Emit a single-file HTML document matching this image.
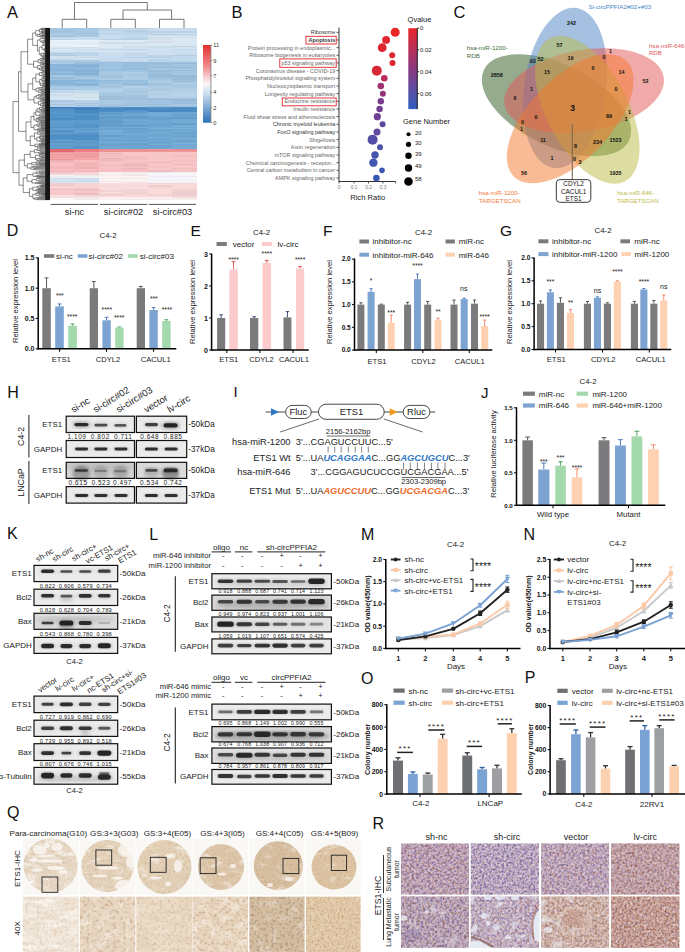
<!DOCTYPE html>
<html><head><meta charset="utf-8"><style>
html,body{margin:0;padding:0;background:#fff;width:685px;height:952px;overflow:hidden}
svg{display:block}
text{font-family:"Liberation Sans",sans-serif}
</style></head><body>
<svg width="685" height="952" viewBox="0 0 685 952" font-family="Liberation Sans, sans-serif">
<text x="7.00" y="17.50" font-size="16.5" text-anchor="start" fill="#111" font-weight="normal" >A</text>
<g shape-rendering="crispEdges">
<rect x="50.00" y="28.00" width="24.72" height="1.50" fill="#aecde6" />
<rect x="74.42" y="28.00" width="24.72" height="1.50" fill="#a4c6e1" />
<rect x="50.00" y="29.20" width="24.72" height="1.10" fill="#9fbfd9" />
<rect x="74.42" y="29.20" width="24.72" height="1.10" fill="#a7c8e3" />
<rect x="50.00" y="30.00" width="24.72" height="1.50" fill="#a7c9e3" />
<rect x="74.42" y="30.00" width="24.72" height="1.50" fill="#adcde5" />
<rect x="50.00" y="31.20" width="24.72" height="1.30" fill="#9ebfd9" />
<rect x="74.42" y="31.20" width="24.72" height="1.30" fill="#a5c7e1" />
<rect x="50.00" y="32.20" width="24.72" height="1.10" fill="#a2c3dd" />
<rect x="74.42" y="32.20" width="24.72" height="1.10" fill="#a7c9e3" />
<rect x="50.00" y="33.00" width="24.72" height="1.10" fill="#accce5" />
<rect x="74.42" y="33.00" width="24.72" height="1.10" fill="#a0c0da" />
<rect x="50.00" y="33.80" width="24.72" height="1.30" fill="#a8c9e4" />
<rect x="74.42" y="33.80" width="24.72" height="1.30" fill="#a7c9e3" />
<rect x="50.00" y="34.80" width="24.72" height="1.10" fill="#a7c9e3" />
<rect x="74.42" y="34.80" width="24.72" height="1.10" fill="#a4c6e1" />
<rect x="50.00" y="35.60" width="24.72" height="1.30" fill="#9ebfd9" />
<rect x="74.42" y="35.60" width="24.72" height="1.30" fill="#accce5" />
<rect x="50.00" y="36.60" width="24.72" height="0.70" fill="#a5c6e1" />
<rect x="74.42" y="36.60" width="24.72" height="0.70" fill="#a7c8e3" />
<rect x="50.00" y="37.00" width="24.72" height="1.50" fill="#c5dbee" />
<rect x="74.42" y="37.00" width="24.72" height="1.50" fill="#c6dcef" />
<rect x="50.00" y="38.20" width="24.72" height="1.10" fill="#c5dcee" />
<rect x="74.42" y="38.20" width="24.72" height="1.10" fill="#c6dcee" />
<rect x="50.00" y="39.00" width="24.72" height="1.30" fill="#bcd2e4" />
<rect x="74.42" y="39.00" width="24.72" height="1.30" fill="#c7ddef" />
<rect x="50.00" y="40.00" width="24.72" height="1.10" fill="#eaf2f9" />
<rect x="74.42" y="40.00" width="24.72" height="1.10" fill="#eaf2f9" />
<rect x="50.00" y="40.80" width="24.72" height="1.80" fill="#ebf3f9" />
<rect x="74.42" y="40.80" width="24.72" height="1.80" fill="#e9f1f8" />
<rect x="50.00" y="42.30" width="24.72" height="1.80" fill="#e7eff6" />
<rect x="74.42" y="42.30" width="24.72" height="1.80" fill="#e4ecf3" />
<rect x="50.00" y="43.80" width="24.72" height="1.30" fill="#ebf3f9" />
<rect x="74.42" y="43.80" width="24.72" height="1.30" fill="#e4ecf3" />
<rect x="50.00" y="44.80" width="24.72" height="1.50" fill="#eaf2f9" />
<rect x="74.42" y="44.80" width="24.72" height="1.50" fill="#ecf3f9" />
<rect x="50.00" y="46.00" width="24.72" height="1.30" fill="#e5edf4" />
<rect x="74.42" y="46.00" width="24.72" height="1.30" fill="#ecf3fa" />
<rect x="50.00" y="47.00" width="24.72" height="1.10" fill="#d6e6f3" />
<rect x="74.42" y="47.00" width="24.72" height="1.10" fill="#cfdeeb" />
<rect x="50.00" y="47.80" width="24.72" height="1.50" fill="#cfdeeb" />
<rect x="74.42" y="47.80" width="24.72" height="1.50" fill="#d6e6f3" />
<rect x="50.00" y="49.00" width="24.72" height="1.10" fill="#dae8f4" />
<rect x="74.42" y="49.00" width="24.72" height="1.10" fill="#cddce9" />
<rect x="50.00" y="49.80" width="24.72" height="1.50" fill="#d3e2ef" />
<rect x="74.42" y="49.80" width="24.72" height="1.50" fill="#d3e3ef" />
<rect x="50.00" y="51.00" width="24.72" height="1.30" fill="#d7e6f3" />
<rect x="74.42" y="51.00" width="24.72" height="1.30" fill="#d5e5f2" />
<rect x="50.00" y="52.00" width="24.72" height="1.10" fill="#c2d9ec" />
<rect x="74.42" y="52.00" width="24.72" height="1.10" fill="#bcd4e9" />
<rect x="50.00" y="52.80" width="24.72" height="1.10" fill="#b4cce0" />
<rect x="74.42" y="52.80" width="24.72" height="1.10" fill="#bfd7eb" />
<rect x="50.00" y="53.60" width="24.72" height="1.80" fill="#b8d0e5" />
<rect x="74.42" y="53.60" width="24.72" height="1.80" fill="#bad3e7" />
<rect x="50.00" y="55.10" width="24.72" height="1.20" fill="#b3cbdf" />
<rect x="74.42" y="55.10" width="24.72" height="1.20" fill="#bbd4e9" />
<rect x="50.00" y="56.00" width="24.72" height="1.30" fill="#d0e2f0" />
<rect x="74.42" y="56.00" width="24.72" height="1.30" fill="#cfe1f0" />
<rect x="50.00" y="57.00" width="24.72" height="1.30" fill="#d2e3f1" />
<rect x="74.42" y="57.00" width="24.72" height="1.30" fill="#c7d9e7" />
<rect x="50.00" y="58.00" width="24.72" height="1.30" fill="#cddfee" />
<rect x="74.42" y="58.00" width="24.72" height="1.30" fill="#d3e4f1" />
<rect x="50.00" y="59.00" width="24.72" height="1.30" fill="#c6d8e6" />
<rect x="74.42" y="59.00" width="24.72" height="1.30" fill="#cee0ef" />
<rect x="50.00" y="60.00" width="24.72" height="1.50" fill="#aacae5" />
<rect x="74.42" y="60.00" width="24.72" height="1.50" fill="#a9cae5" />
<rect x="50.00" y="61.20" width="24.72" height="1.50" fill="#a7c8e4" />
<rect x="74.42" y="61.20" width="24.72" height="1.50" fill="#accce6" />
<rect x="50.00" y="62.40" width="24.72" height="1.80" fill="#abcbe6" />
<rect x="74.42" y="62.40" width="24.72" height="1.80" fill="#9dbfdb" />
<rect x="50.00" y="63.90" width="24.72" height="0.40" fill="#9dbfdb" />
<rect x="74.42" y="63.90" width="24.72" height="0.40" fill="#a6c8e4" />
<rect x="50.00" y="64.00" width="24.72" height="1.10" fill="#8ab6db" />
<rect x="74.42" y="64.00" width="24.72" height="1.10" fill="#8cb7dc" />
<rect x="50.00" y="64.80" width="24.72" height="1.50" fill="#87b2d6" />
<rect x="74.42" y="64.80" width="24.72" height="1.50" fill="#85b0d3" />
<rect x="50.00" y="66.00" width="24.72" height="1.50" fill="#8db8dc" />
<rect x="74.42" y="66.00" width="24.72" height="1.50" fill="#87b3d7" />
<rect x="50.00" y="67.20" width="24.72" height="1.30" fill="#8eb9dc" />
<rect x="74.42" y="67.20" width="24.72" height="1.30" fill="#8ab6db" />
<rect x="50.00" y="68.20" width="24.72" height="1.10" fill="#89b5da" />
<rect x="74.42" y="68.20" width="24.72" height="1.10" fill="#93bbde" />
<rect x="50.00" y="69.00" width="24.72" height="1.80" fill="#89b4d9" />
<rect x="74.42" y="69.00" width="24.72" height="1.80" fill="#89b4d9" />
<rect x="50.00" y="70.50" width="24.72" height="1.80" fill="#8db8dc" />
<rect x="74.42" y="70.50" width="24.72" height="1.80" fill="#84aed1" />
<rect x="50.00" y="72.00" width="24.72" height="1.10" fill="#95bdde" />
<rect x="74.42" y="72.00" width="24.72" height="1.10" fill="#89b5da" />
<rect x="50.00" y="72.80" width="24.72" height="1.10" fill="#88b3d7" />
<rect x="74.42" y="72.80" width="24.72" height="1.10" fill="#84aed1" />
<rect x="50.00" y="73.60" width="24.72" height="1.10" fill="#8cb7db" />
<rect x="74.42" y="73.60" width="24.72" height="1.10" fill="#8bb7db" />
<rect x="50.00" y="74.40" width="24.72" height="0.90" fill="#8db8dc" />
<rect x="74.42" y="74.40" width="24.72" height="0.90" fill="#84aed2" />
<rect x="50.00" y="75.00" width="24.72" height="1.30" fill="#9fc4e2" />
<rect x="74.42" y="75.00" width="24.72" height="1.30" fill="#97bcd9" />
<rect x="50.00" y="76.00" width="24.72" height="1.50" fill="#a6c8e4" />
<rect x="74.42" y="76.00" width="24.72" height="1.50" fill="#9fc4e2" />
<rect x="50.00" y="77.20" width="24.72" height="1.80" fill="#97bcd9" />
<rect x="74.42" y="77.20" width="24.72" height="1.80" fill="#a4c7e3" />
<rect x="50.00" y="78.70" width="24.72" height="1.60" fill="#9dc3e1" />
<rect x="74.42" y="78.70" width="24.72" height="1.60" fill="#9abfdd" />
<rect x="50.00" y="80.00" width="24.72" height="1.30" fill="#85b0d2" />
<rect x="74.42" y="80.00" width="24.72" height="1.30" fill="#88b4d8" />
<rect x="50.00" y="81.00" width="24.72" height="1.50" fill="#8ab7db" />
<rect x="74.42" y="81.00" width="24.72" height="1.50" fill="#8ebadc" />
<rect x="50.00" y="82.20" width="24.72" height="1.10" fill="#86b2d5" />
<rect x="74.42" y="82.20" width="24.72" height="1.10" fill="#95bede" />
<rect x="50.00" y="83.00" width="24.72" height="1.50" fill="#85b1d3" />
<rect x="74.42" y="83.00" width="24.72" height="1.50" fill="#8bb8db" />
<rect x="50.00" y="84.20" width="24.72" height="1.10" fill="#90bbdd" />
<rect x="74.42" y="84.20" width="24.72" height="1.10" fill="#87b3d7" />
<rect x="50.00" y="85.00" width="24.72" height="1.10" fill="#8fbadc" />
<rect x="74.42" y="85.00" width="24.72" height="1.10" fill="#87b3d6" />
<rect x="50.00" y="85.80" width="24.72" height="0.50" fill="#94bdde" />
<rect x="74.42" y="85.80" width="24.72" height="0.50" fill="#88b4d8" />
<rect x="50.00" y="86.00" width="24.72" height="1.30" fill="#a7c9e4" />
<rect x="74.42" y="86.00" width="24.72" height="1.30" fill="#abcce6" />
<rect x="50.00" y="87.00" width="24.72" height="1.50" fill="#a8cae5" />
<rect x="74.42" y="87.00" width="24.72" height="1.50" fill="#a8cae5" />
<rect x="50.00" y="88.20" width="24.72" height="1.30" fill="#abcce6" />
<rect x="74.42" y="88.20" width="24.72" height="1.30" fill="#accce6" />
<rect x="50.00" y="89.20" width="24.72" height="1.10" fill="#a1c3dd" />
<rect x="74.42" y="89.20" width="24.72" height="1.10" fill="#a6c9e4" />
<rect x="50.00" y="90.00" width="24.72" height="1.10" fill="#c7dcee" />
<rect x="74.42" y="90.00" width="24.72" height="1.10" fill="#c5daed" />
<rect x="50.00" y="90.80" width="24.72" height="1.80" fill="#bcd3e6" />
<rect x="74.42" y="90.80" width="24.72" height="1.80" fill="#c3daed" />
<rect x="50.00" y="92.30" width="24.72" height="1.00" fill="#c0d7eb" />
<rect x="74.42" y="92.30" width="24.72" height="1.00" fill="#c6dbee" />
<rect x="50.00" y="93.00" width="24.72" height="1.50" fill="#d7e6f2" />
<rect x="74.42" y="93.00" width="24.72" height="1.50" fill="#d0e1ee" />
<rect x="50.00" y="94.20" width="24.72" height="1.30" fill="#cbdbe7" />
<rect x="74.42" y="94.20" width="24.72" height="1.30" fill="#d2e3f0" />
<rect x="50.00" y="95.20" width="24.72" height="1.50" fill="#cdddea" />
<rect x="74.42" y="95.20" width="24.72" height="1.50" fill="#d4e5f1" />
<rect x="50.00" y="96.40" width="24.72" height="1.10" fill="#d3e4f1" />
<rect x="74.42" y="96.40" width="24.72" height="1.10" fill="#d4e5f1" />
<rect x="50.00" y="97.20" width="24.72" height="1.10" fill="#d6e6f2" />
<rect x="74.42" y="97.20" width="24.72" height="1.10" fill="#cbdbe8" />
<rect x="50.00" y="98.00" width="24.72" height="1.80" fill="#d5e6f2" />
<rect x="74.42" y="98.00" width="24.72" height="1.80" fill="#d5e5f2" />
<rect x="50.00" y="99.50" width="24.72" height="0.80" fill="#d6e6f2" />
<rect x="74.42" y="99.50" width="24.72" height="0.80" fill="#d2e2ef" />
<rect x="50.00" y="100.00" width="24.72" height="1.50" fill="#aac5dd" />
<rect x="74.42" y="100.00" width="24.72" height="1.50" fill="#b8d2e9" />
<rect x="50.00" y="101.20" width="24.72" height="1.80" fill="#b0cde6" />
<rect x="74.42" y="101.20" width="24.72" height="1.80" fill="#b5d0e8" />
<rect x="50.00" y="102.70" width="24.72" height="1.10" fill="#b5d0e8" />
<rect x="74.42" y="102.70" width="24.72" height="1.10" fill="#abc7df" />
<rect x="50.00" y="103.50" width="24.72" height="1.30" fill="#a9c4dc" />
<rect x="74.42" y="103.50" width="24.72" height="1.30" fill="#b2cfe7" />
<rect x="50.00" y="104.50" width="24.72" height="1.80" fill="#b6d1e8" />
<rect x="74.42" y="104.50" width="24.72" height="1.80" fill="#abc7df" />
<rect x="50.00" y="106.00" width="24.72" height="0.80" fill="#b3d0e8" />
<rect x="74.42" y="106.00" width="24.72" height="0.80" fill="#aecbe4" />
<rect x="50.00" y="106.50" width="24.72" height="1.30" fill="#377cb7" />
<rect x="74.42" y="106.50" width="24.72" height="1.30" fill="#4689c4" />
<rect x="50.00" y="107.50" width="24.72" height="1.10" fill="#3b83c0" />
<rect x="74.42" y="107.50" width="24.72" height="1.10" fill="#4b8dc5" />
<rect x="50.00" y="108.30" width="24.72" height="1.80" fill="#4d8ec6" />
<rect x="74.42" y="108.30" width="24.72" height="1.80" fill="#387eba" />
<rect x="50.00" y="109.80" width="24.72" height="0.50" fill="#377cb7" />
<rect x="74.42" y="109.80" width="24.72" height="0.50" fill="#387eba" />
<rect x="50.00" y="110.00" width="24.72" height="1.30" fill="#5494ca" />
<rect x="74.42" y="110.00" width="24.72" height="1.30" fill="#498cc4" />
<rect x="50.00" y="111.00" width="24.72" height="1.80" fill="#5696cb" />
<rect x="74.42" y="111.00" width="24.72" height="1.80" fill="#4788be" />
<rect x="50.00" y="112.50" width="24.72" height="1.50" fill="#5897cb" />
<rect x="74.42" y="112.50" width="24.72" height="1.50" fill="#5092c9" />
<rect x="50.00" y="113.70" width="24.72" height="1.80" fill="#5695cb" />
<rect x="74.42" y="113.70" width="24.72" height="1.80" fill="#5897cb" />
<rect x="50.00" y="115.20" width="24.72" height="1.30" fill="#4b8fc7" />
<rect x="74.42" y="115.20" width="24.72" height="1.30" fill="#4b8fc7" />
<rect x="50.00" y="116.20" width="24.72" height="1.10" fill="#5796cb" />
<rect x="74.42" y="116.20" width="24.72" height="1.10" fill="#5494ca" />
<rect x="50.00" y="117.00" width="24.72" height="1.10" fill="#5494ca" />
<rect x="74.42" y="117.00" width="24.72" height="1.10" fill="#4789c0" />
<rect x="50.00" y="117.80" width="24.72" height="1.30" fill="#4a8ec6" />
<rect x="74.42" y="117.80" width="24.72" height="1.30" fill="#5293ca" />
<rect x="50.00" y="118.80" width="24.72" height="1.10" fill="#498cc4" />
<rect x="74.42" y="118.80" width="24.72" height="1.10" fill="#4b8ec7" />
<rect x="50.00" y="119.60" width="24.72" height="0.70" fill="#5494ca" />
<rect x="74.42" y="119.60" width="24.72" height="0.70" fill="#4788bf" />
<rect x="50.00" y="120.00" width="24.72" height="1.10" fill="#5a98c8" />
<rect x="74.42" y="120.00" width="24.72" height="1.10" fill="#5a99c8" />
<rect x="50.00" y="120.80" width="24.72" height="1.10" fill="#5c9ccd" />
<rect x="74.42" y="120.80" width="24.72" height="1.10" fill="#5e9dce" />
<rect x="50.00" y="121.60" width="24.72" height="1.10" fill="#5b9bcc" />
<rect x="74.42" y="121.60" width="24.72" height="1.10" fill="#609ece" />
<rect x="50.00" y="122.40" width="24.72" height="1.30" fill="#62a0cf" />
<rect x="74.42" y="122.40" width="24.72" height="1.30" fill="#5c9bcc" />
<rect x="50.00" y="123.40" width="24.72" height="1.80" fill="#5c9ccd" />
<rect x="74.42" y="123.40" width="24.72" height="1.80" fill="#5a98c8" />
<rect x="50.00" y="124.90" width="24.72" height="0.40" fill="#6aa4d1" />
<rect x="74.42" y="124.90" width="24.72" height="0.40" fill="#69a4d1" />
<rect x="50.00" y="125.00" width="24.72" height="1.30" fill="#639fcf" />
<rect x="74.42" y="125.00" width="24.72" height="1.30" fill="#5592c5" />
<rect x="50.00" y="126.00" width="24.72" height="1.10" fill="#5796ca" />
<rect x="74.42" y="126.00" width="24.72" height="1.10" fill="#5695c8" />
<rect x="50.00" y="126.80" width="24.72" height="1.30" fill="#5797cb" />
<rect x="74.42" y="126.80" width="24.72" height="1.30" fill="#5594c6" />
<rect x="50.00" y="127.80" width="24.72" height="1.50" fill="#619ecf" />
<rect x="74.42" y="127.80" width="24.72" height="1.50" fill="#65a0d0" />
<rect x="50.00" y="129.00" width="24.72" height="1.30" fill="#67a1d0" />
<rect x="74.42" y="129.00" width="24.72" height="1.30" fill="#5d9bcd" />
<rect x="50.00" y="130.00" width="24.72" height="1.50" fill="#5593c5" />
<rect x="74.42" y="130.00" width="24.72" height="1.50" fill="#65a0d0" />
<rect x="50.00" y="131.20" width="24.72" height="1.80" fill="#5694c6" />
<rect x="74.42" y="131.20" width="24.72" height="1.80" fill="#67a1d1" />
<rect x="50.00" y="132.70" width="24.72" height="1.80" fill="#65a0d0" />
<rect x="74.42" y="132.70" width="24.72" height="1.80" fill="#5593c5" />
<rect x="50.00" y="134.20" width="24.72" height="1.10" fill="#5593c5" />
<rect x="74.42" y="134.20" width="24.72" height="1.10" fill="#5797cb" />
<rect x="50.00" y="135.00" width="24.72" height="1.80" fill="#4d90c6" />
<rect x="74.42" y="135.00" width="24.72" height="1.80" fill="#4c8ec3" />
<rect x="50.00" y="136.50" width="24.72" height="1.50" fill="#4b8cc1" />
<rect x="74.42" y="136.50" width="24.72" height="1.50" fill="#4d90c6" />
<rect x="50.00" y="137.70" width="24.72" height="1.50" fill="#5093ca" />
<rect x="74.42" y="137.70" width="24.72" height="1.50" fill="#4e91c8" />
<rect x="50.00" y="138.90" width="24.72" height="1.10" fill="#4d90c7" />
<rect x="74.42" y="138.90" width="24.72" height="1.10" fill="#4f92c9" />
<rect x="50.00" y="139.70" width="24.72" height="0.60" fill="#4e92c9" />
<rect x="74.42" y="139.70" width="24.72" height="0.60" fill="#4b8cc0" />
<rect x="50.00" y="140.00" width="24.72" height="1.30" fill="#6aa4d2" />
<rect x="74.42" y="140.00" width="24.72" height="1.30" fill="#5794c5" />
<rect x="50.00" y="141.00" width="24.72" height="1.50" fill="#5996c8" />
<rect x="74.42" y="141.00" width="24.72" height="1.50" fill="#68a2d1" />
<rect x="50.00" y="142.20" width="24.72" height="1.30" fill="#5996c8" />
<rect x="74.42" y="142.20" width="24.72" height="1.30" fill="#5894c5" />
<rect x="50.00" y="143.20" width="24.72" height="1.80" fill="#66a1d0" />
<rect x="74.42" y="143.20" width="24.72" height="1.80" fill="#619ecf" />
<rect x="50.00" y="144.70" width="24.72" height="1.50" fill="#5a99cb" />
<rect x="74.42" y="144.70" width="24.72" height="1.50" fill="#5c9bcd" />
<rect x="50.00" y="145.90" width="24.72" height="1.80" fill="#629ecf" />
<rect x="74.42" y="145.90" width="24.72" height="1.80" fill="#5794c5" />
<rect x="50.00" y="147.40" width="24.72" height="1.10" fill="#65a0d0" />
<rect x="74.42" y="147.40" width="24.72" height="1.10" fill="#5895c7" />
<rect x="50.00" y="148.20" width="24.72" height="0.70" fill="#5996c8" />
<rect x="74.42" y="148.20" width="24.72" height="0.70" fill="#5793c3" />
<rect x="50.00" y="148.60" width="24.72" height="1.10" fill="#ef777b" />
<rect x="74.42" y="148.60" width="24.72" height="1.10" fill="#e4696e" />
<rect x="50.00" y="149.40" width="24.72" height="1.30" fill="#e4696e" />
<rect x="74.42" y="149.40" width="24.72" height="1.30" fill="#ef797d" />
<rect x="50.00" y="150.40" width="24.72" height="1.80" fill="#e2696d" />
<rect x="74.42" y="150.40" width="24.72" height="1.80" fill="#f07c81" />
<rect x="50.00" y="151.90" width="24.72" height="0.40" fill="#ef7a7f" />
<rect x="74.42" y="151.90" width="24.72" height="0.40" fill="#e86b70" />
<rect x="50.00" y="152.00" width="24.72" height="1.30" fill="#e9999c" />
<rect x="74.42" y="152.00" width="24.72" height="1.30" fill="#f4a4a7" />
<rect x="50.00" y="153.00" width="24.72" height="1.10" fill="#f5a9ac" />
<rect x="74.42" y="153.00" width="24.72" height="1.10" fill="#ee9c9f" />
<rect x="50.00" y="153.80" width="24.72" height="1.30" fill="#ed9b9e" />
<rect x="74.42" y="153.80" width="24.72" height="1.30" fill="#ef9da0" />
<rect x="50.00" y="154.80" width="24.72" height="1.50" fill="#f4a1a4" />
<rect x="74.42" y="154.80" width="24.72" height="1.50" fill="#ed9b9e" />
<rect x="50.00" y="156.00" width="24.72" height="1.80" fill="#f4a0a3" />
<rect x="74.42" y="156.00" width="24.72" height="1.80" fill="#ec9b9e" />
<rect x="50.00" y="157.50" width="24.72" height="1.50" fill="#f5a6a9" />
<rect x="74.42" y="157.50" width="24.72" height="1.50" fill="#f5a9ac" />
<rect x="50.00" y="158.70" width="24.72" height="1.10" fill="#e8989b" />
<rect x="74.42" y="158.70" width="24.72" height="1.10" fill="#f5a4a7" />
<rect x="50.00" y="159.50" width="24.72" height="0.80" fill="#f4a0a3" />
<rect x="74.42" y="159.50" width="24.72" height="0.80" fill="#ee9c9f" />
<rect x="50.00" y="160.00" width="24.72" height="1.80" fill="#edb2b4" />
<rect x="74.42" y="160.00" width="24.72" height="1.80" fill="#f8bdbf" />
<rect x="50.00" y="161.50" width="24.72" height="1.80" fill="#f7bbbd" />
<rect x="74.42" y="161.50" width="24.72" height="1.80" fill="#f7babc" />
<rect x="50.00" y="163.00" width="24.72" height="1.80" fill="#f8c0c1" />
<rect x="74.42" y="163.00" width="24.72" height="1.80" fill="#f2b5b7" />
<rect x="50.00" y="164.50" width="24.72" height="1.30" fill="#f8c0c2" />
<rect x="74.42" y="164.50" width="24.72" height="1.30" fill="#f3b6b8" />
<rect x="50.00" y="165.50" width="24.72" height="1.30" fill="#f5b7b9" />
<rect x="74.42" y="165.50" width="24.72" height="1.30" fill="#f3b6b8" />
<rect x="50.00" y="166.50" width="24.72" height="1.10" fill="#f8bec0" />
<rect x="74.42" y="166.50" width="24.72" height="1.10" fill="#ebb0b2" />
<rect x="50.00" y="167.30" width="24.72" height="1.50" fill="#f5b8ba" />
<rect x="74.42" y="167.30" width="24.72" height="1.50" fill="#ecb1b3" />
<rect x="50.00" y="168.50" width="24.72" height="1.80" fill="#f8bec0" />
<rect x="74.42" y="168.50" width="24.72" height="1.80" fill="#f7bbbd" />
<rect x="50.00" y="170.00" width="24.72" height="1.50" fill="#f7babc" />
<rect x="74.42" y="170.00" width="24.72" height="1.50" fill="#f7bcbe" />
<rect x="50.00" y="171.20" width="24.72" height="1.10" fill="#f6b8ba" />
<rect x="74.42" y="171.20" width="24.72" height="1.10" fill="#efb3b5" />
<rect x="50.00" y="172.00" width="24.72" height="1.80" fill="#edcbcc" />
<rect x="74.42" y="172.00" width="24.72" height="1.80" fill="#f6d3d4" />
<rect x="50.00" y="173.50" width="24.72" height="1.50" fill="#fadadb" />
<rect x="74.42" y="173.50" width="24.72" height="1.50" fill="#f9d6d7" />
<rect x="50.00" y="174.70" width="24.72" height="0.60" fill="#edcccd" />
<rect x="74.42" y="174.70" width="24.72" height="0.60" fill="#f9d9da" />
<rect x="50.00" y="175.00" width="24.72" height="1.30" fill="#f3f3f7" />
<rect x="74.42" y="175.00" width="24.72" height="1.30" fill="#ebebee" />
<rect x="50.00" y="176.00" width="24.72" height="1.80" fill="#ededf1" />
<rect x="74.42" y="176.00" width="24.72" height="1.80" fill="#f2f2f5" />
<rect x="50.00" y="177.50" width="24.72" height="0.80" fill="#f1f1f5" />
<rect x="74.42" y="177.50" width="24.72" height="0.80" fill="#f7f7fb" />
<rect x="50.00" y="178.00" width="24.72" height="1.10" fill="#d0dfec" />
<rect x="74.42" y="178.00" width="24.72" height="1.10" fill="#ccdbe8" />
<rect x="50.00" y="178.80" width="24.72" height="1.80" fill="#d6e4f2" />
<rect x="74.42" y="178.80" width="24.72" height="1.80" fill="#d3e2ef" />
<rect x="50.00" y="180.30" width="24.72" height="1.50" fill="#d1e0ed" />
<rect x="74.42" y="180.30" width="24.72" height="1.50" fill="#cfdeec" />
<rect x="50.00" y="181.50" width="24.72" height="1.30" fill="#d6e5f2" />
<rect x="74.42" y="181.50" width="24.72" height="1.30" fill="#d7e5f3" />
<rect x="50.00" y="182.50" width="24.72" height="0.80" fill="#d7e5f3" />
<rect x="74.42" y="182.50" width="24.72" height="0.80" fill="#d7e5f3" />
<rect x="50.00" y="183.00" width="24.72" height="1.80" fill="#f0cbcd" />
<rect x="74.42" y="183.00" width="24.72" height="1.80" fill="#f9d4d6" />
<rect x="50.00" y="184.50" width="24.72" height="1.30" fill="#eec8ca" />
<rect x="74.42" y="184.50" width="24.72" height="1.30" fill="#f9d5d7" />
<rect x="50.00" y="185.50" width="24.72" height="1.80" fill="#f9d4d6" />
<rect x="74.42" y="185.50" width="24.72" height="1.80" fill="#f9d5d7" />
<rect x="50.00" y="187.00" width="24.72" height="1.30" fill="#f9d6d8" />
<rect x="74.42" y="187.00" width="24.72" height="1.30" fill="#f9d4d6" />
<rect x="50.00" y="188.00" width="24.72" height="1.10" fill="#f8cacc" />
<rect x="74.42" y="188.00" width="24.72" height="1.10" fill="#f7c7c9" />
<rect x="50.00" y="188.80" width="24.72" height="1.30" fill="#edbec0" />
<rect x="74.42" y="188.80" width="24.72" height="1.30" fill="#ecbdbf" />
<rect x="50.00" y="189.80" width="24.72" height="1.50" fill="#f8cbcd" />
<rect x="74.42" y="189.80" width="24.72" height="1.50" fill="#f4c4c6" />
<rect x="50.00" y="191.00" width="24.72" height="1.80" fill="#f7c7c9" />
<rect x="74.42" y="191.00" width="24.72" height="1.80" fill="#f7c7c9" />
<rect x="50.00" y="192.50" width="24.72" height="1.30" fill="#f7c6c8" />
<rect x="74.42" y="192.50" width="24.72" height="1.30" fill="#ebbcbe" />
<rect x="50.00" y="193.50" width="24.72" height="1.10" fill="#f7c9cb" />
<rect x="74.42" y="193.50" width="24.72" height="1.10" fill="#f7c6c8" />
<rect x="50.00" y="194.30" width="24.72" height="1.00" fill="#f7c8ca" />
<rect x="74.42" y="194.30" width="24.72" height="1.00" fill="#ecbdbf" />
<rect x="50.00" y="195.00" width="24.72" height="1.80" fill="#f5dfe0" />
<rect x="74.42" y="195.00" width="24.72" height="1.80" fill="#f0dbdc" />
<rect x="50.00" y="196.50" width="24.72" height="1.50" fill="#f4dfe0" />
<rect x="74.42" y="196.50" width="24.72" height="1.50" fill="#fbe6e7" />
<rect x="50.00" y="197.70" width="24.72" height="0.60" fill="#fbe6e7" />
<rect x="74.42" y="197.70" width="24.72" height="0.60" fill="#fbe7e8" />
<rect x="50.00" y="198.00" width="24.72" height="1.80" fill="#fdf7f7" />
<rect x="74.42" y="198.00" width="24.72" height="1.80" fill="#f2ecec" />
<rect x="50.00" y="199.50" width="24.72" height="0.80" fill="#fdf6f6" />
<rect x="74.42" y="199.50" width="24.72" height="0.80" fill="#fdf6f6" />
<rect x="98.83" y="28.00" width="24.72" height="1.30" fill="#b8cfe2" />
<rect x="123.25" y="28.00" width="24.72" height="1.30" fill="#b9d0e4" />
<rect x="98.83" y="29.00" width="24.72" height="1.50" fill="#c2d9ed" />
<rect x="123.25" y="29.00" width="24.72" height="1.50" fill="#c2daed" />
<rect x="98.83" y="30.20" width="24.72" height="1.30" fill="#b7cde0" />
<rect x="123.25" y="30.20" width="24.72" height="1.30" fill="#b8cfe2" />
<rect x="98.83" y="31.20" width="24.72" height="1.50" fill="#c6dcee" />
<rect x="123.25" y="31.20" width="24.72" height="1.50" fill="#b8cfe3" />
<rect x="98.83" y="32.40" width="24.72" height="1.30" fill="#c2d9ed" />
<rect x="123.25" y="32.40" width="24.72" height="1.30" fill="#bcd3e7" />
<rect x="98.83" y="33.40" width="24.72" height="1.50" fill="#bfd7eb" />
<rect x="123.25" y="33.40" width="24.72" height="1.50" fill="#bfd7eb" />
<rect x="98.83" y="34.60" width="24.72" height="1.10" fill="#c6dcee" />
<rect x="123.25" y="34.60" width="24.72" height="1.10" fill="#c1d8ec" />
<rect x="98.83" y="35.40" width="24.72" height="1.50" fill="#c6dcee" />
<rect x="123.25" y="35.40" width="24.72" height="1.50" fill="#c5dbee" />
<rect x="98.83" y="36.60" width="24.72" height="1.10" fill="#bcd3e7" />
<rect x="123.25" y="36.60" width="24.72" height="1.10" fill="#b8cfe2" />
<rect x="98.83" y="37.40" width="24.72" height="1.80" fill="#c6dcee" />
<rect x="123.25" y="37.40" width="24.72" height="1.80" fill="#bed6e9" />
<rect x="98.83" y="38.90" width="24.72" height="1.30" fill="#b8cfe2" />
<rect x="123.25" y="38.90" width="24.72" height="1.30" fill="#b8cfe2" />
<rect x="98.83" y="39.90" width="24.72" height="0.40" fill="#c6dcee" />
<rect x="123.25" y="39.90" width="24.72" height="0.40" fill="#b9d0e3" />
<rect x="98.83" y="40.00" width="24.72" height="1.50" fill="#dfebf5" />
<rect x="123.25" y="40.00" width="24.72" height="1.50" fill="#ddeaf4" />
<rect x="98.83" y="41.20" width="24.72" height="1.30" fill="#dce9f4" />
<rect x="123.25" y="41.20" width="24.72" height="1.30" fill="#dfebf5" />
<rect x="98.83" y="42.20" width="24.72" height="1.80" fill="#d2dee8" />
<rect x="123.25" y="42.20" width="24.72" height="1.80" fill="#d1dde8" />
<rect x="98.83" y="43.70" width="24.72" height="1.80" fill="#ddeaf4" />
<rect x="123.25" y="43.70" width="24.72" height="1.80" fill="#dae7f2" />
<rect x="98.83" y="45.20" width="24.72" height="1.30" fill="#dae7f2" />
<rect x="123.25" y="45.20" width="24.72" height="1.30" fill="#d9e6f1" />
<rect x="98.83" y="46.20" width="24.72" height="1.10" fill="#deeaf5" />
<rect x="123.25" y="46.20" width="24.72" height="1.10" fill="#d1dde8" />
<rect x="98.83" y="47.00" width="24.72" height="1.30" fill="#deeaf5" />
<rect x="123.25" y="47.00" width="24.72" height="1.30" fill="#d4e0eb" />
<rect x="98.83" y="48.00" width="24.72" height="1.30" fill="#cfe1f1" />
<rect x="123.25" y="48.00" width="24.72" height="1.30" fill="#d1e2f1" />
<rect x="98.83" y="49.00" width="24.72" height="1.50" fill="#c8daea" />
<rect x="123.25" y="49.00" width="24.72" height="1.50" fill="#c4d6e6" />
<rect x="98.83" y="50.20" width="24.72" height="1.80" fill="#d2e3f1" />
<rect x="123.25" y="50.20" width="24.72" height="1.80" fill="#cee1f0" />
<rect x="98.83" y="51.70" width="24.72" height="1.50" fill="#d1e3f1" />
<rect x="123.25" y="51.70" width="24.72" height="1.50" fill="#d0e2f1" />
<rect x="98.83" y="52.90" width="24.72" height="1.10" fill="#c9dbeb" />
<rect x="123.25" y="52.90" width="24.72" height="1.10" fill="#c4d6e5" />
<rect x="98.83" y="53.70" width="24.72" height="1.50" fill="#cee1f0" />
<rect x="123.25" y="53.70" width="24.72" height="1.50" fill="#c6d8e8" />
<rect x="98.83" y="54.90" width="24.72" height="0.40" fill="#ccdfee" />
<rect x="123.25" y="54.90" width="24.72" height="0.40" fill="#c9dcec" />
<rect x="98.83" y="55.00" width="24.72" height="1.50" fill="#c7ddef" />
<rect x="123.25" y="55.00" width="24.72" height="1.50" fill="#c3d9ec" />
<rect x="98.83" y="56.20" width="24.72" height="1.10" fill="#c8ddef" />
<rect x="123.25" y="56.20" width="24.72" height="1.10" fill="#c6dcee" />
<rect x="98.83" y="57.00" width="24.72" height="1.30" fill="#c7ddef" />
<rect x="123.25" y="57.00" width="24.72" height="1.30" fill="#bbd1e3" />
<rect x="98.83" y="58.00" width="24.72" height="1.80" fill="#c3daed" />
<rect x="123.25" y="58.00" width="24.72" height="1.80" fill="#c7ddef" />
<rect x="98.83" y="59.50" width="24.72" height="1.50" fill="#c4dbee" />
<rect x="123.25" y="59.50" width="24.72" height="1.50" fill="#c9deef" />
<rect x="98.83" y="60.70" width="24.72" height="1.30" fill="#bed4e6" />
<rect x="123.25" y="60.70" width="24.72" height="1.30" fill="#c2d9ec" />
<rect x="98.83" y="61.70" width="24.72" height="0.60" fill="#c0d7e9" />
<rect x="123.25" y="61.70" width="24.72" height="0.60" fill="#c7ddef" />
<rect x="98.83" y="62.00" width="24.72" height="1.50" fill="#9ac0df" />
<rect x="123.25" y="62.00" width="24.72" height="1.50" fill="#97bddb" />
<rect x="98.83" y="63.20" width="24.72" height="1.80" fill="#9cc3e1" />
<rect x="123.25" y="63.20" width="24.72" height="1.80" fill="#99c0df" />
<rect x="98.83" y="64.70" width="24.72" height="1.30" fill="#9ec4e2" />
<rect x="123.25" y="64.70" width="24.72" height="1.30" fill="#94bad7" />
<rect x="98.83" y="65.70" width="24.72" height="1.80" fill="#9cc3e1" />
<rect x="123.25" y="65.70" width="24.72" height="1.80" fill="#9ac1e0" />
<rect x="98.83" y="67.20" width="24.72" height="1.50" fill="#a5c8e4" />
<rect x="123.25" y="67.20" width="24.72" height="1.50" fill="#9ac1e0" />
<rect x="98.83" y="68.40" width="24.72" height="1.30" fill="#9cc3e1" />
<rect x="123.25" y="68.40" width="24.72" height="1.30" fill="#97bddb" />
<rect x="98.83" y="69.40" width="24.72" height="1.30" fill="#99bfdd" />
<rect x="123.25" y="69.40" width="24.72" height="1.30" fill="#95bad8" />
<rect x="98.83" y="70.40" width="24.72" height="1.30" fill="#99bfde" />
<rect x="123.25" y="70.40" width="24.72" height="1.30" fill="#a1c6e3" />
<rect x="98.83" y="71.40" width="24.72" height="0.90" fill="#a3c7e3" />
<rect x="123.25" y="71.40" width="24.72" height="0.90" fill="#a0c5e2" />
<rect x="98.83" y="72.00" width="24.72" height="1.80" fill="#a7c8e1" />
<rect x="123.25" y="72.00" width="24.72" height="1.80" fill="#adcde5" />
<rect x="98.83" y="73.50" width="24.72" height="1.30" fill="#a7c8e1" />
<rect x="123.25" y="73.50" width="24.72" height="1.30" fill="#a6c7e0" />
<rect x="98.83" y="74.50" width="24.72" height="1.10" fill="#a9cae4" />
<rect x="123.25" y="74.50" width="24.72" height="1.10" fill="#aacbe4" />
<rect x="98.83" y="75.30" width="24.72" height="1.50" fill="#a3c2db" />
<rect x="123.25" y="75.30" width="24.72" height="1.50" fill="#a9cae4" />
<rect x="98.83" y="76.50" width="24.72" height="1.30" fill="#a2c2db" />
<rect x="123.25" y="76.50" width="24.72" height="1.30" fill="#b0cee6" />
<rect x="98.83" y="77.50" width="24.72" height="1.80" fill="#a7c8e2" />
<rect x="123.25" y="77.50" width="24.72" height="1.80" fill="#a8c9e3" />
<rect x="98.83" y="79.00" width="24.72" height="1.30" fill="#afcee6" />
<rect x="123.25" y="79.00" width="24.72" height="1.30" fill="#afcee6" />
<rect x="98.83" y="80.00" width="24.72" height="1.10" fill="#90b8d7" />
<rect x="123.25" y="80.00" width="24.72" height="1.10" fill="#95bedd" />
<rect x="98.83" y="80.80" width="24.72" height="1.80" fill="#a0c5e2" />
<rect x="123.25" y="80.80" width="24.72" height="1.80" fill="#96bfdf" />
<rect x="98.83" y="82.30" width="24.72" height="1.10" fill="#94bddd" />
<rect x="123.25" y="82.30" width="24.72" height="1.10" fill="#9fc4e2" />
<rect x="98.83" y="83.10" width="24.72" height="1.80" fill="#a0c5e2" />
<rect x="123.25" y="83.10" width="24.72" height="1.80" fill="#92bad9" />
<rect x="98.83" y="84.60" width="24.72" height="1.10" fill="#92bad9" />
<rect x="123.25" y="84.60" width="24.72" height="1.10" fill="#91b8d7" />
<rect x="98.83" y="85.40" width="24.72" height="0.90" fill="#9fc5e2" />
<rect x="123.25" y="85.40" width="24.72" height="0.90" fill="#9bc2e0" />
<rect x="98.83" y="86.00" width="24.72" height="1.80" fill="#a9c5de" />
<rect x="123.25" y="86.00" width="24.72" height="1.80" fill="#b4d1e9" />
<rect x="98.83" y="87.50" width="24.72" height="1.10" fill="#b4d1e9" />
<rect x="123.25" y="87.50" width="24.72" height="1.10" fill="#abc8e2" />
<rect x="98.83" y="88.30" width="24.72" height="1.10" fill="#b2cfe9" />
<rect x="123.25" y="88.30" width="24.72" height="1.10" fill="#adcae3" />
<rect x="98.83" y="89.10" width="24.72" height="1.30" fill="#b2cfe9" />
<rect x="123.25" y="89.10" width="24.72" height="1.30" fill="#b0cee8" />
<rect x="98.83" y="90.10" width="24.72" height="1.80" fill="#b3d0e9" />
<rect x="123.25" y="90.10" width="24.72" height="1.80" fill="#a9c6df" />
<rect x="98.83" y="91.60" width="24.72" height="1.10" fill="#accae3" />
<rect x="123.25" y="91.60" width="24.72" height="1.10" fill="#b7d2ea" />
<rect x="98.83" y="92.40" width="24.72" height="1.30" fill="#aecce5" />
<rect x="123.25" y="92.40" width="24.72" height="1.30" fill="#abc8e2" />
<rect x="98.83" y="93.40" width="24.72" height="1.10" fill="#a7c4dd" />
<rect x="123.25" y="93.40" width="24.72" height="1.10" fill="#adcae3" />
<rect x="98.83" y="94.20" width="24.72" height="1.10" fill="#acc9e3" />
<rect x="123.25" y="94.20" width="24.72" height="1.10" fill="#adcae4" />
<rect x="98.83" y="95.00" width="24.72" height="1.30" fill="#a5c7e2" />
<rect x="123.25" y="95.00" width="24.72" height="1.30" fill="#a1c2dd" />
<rect x="98.83" y="96.00" width="24.72" height="1.30" fill="#9dbed8" />
<rect x="123.25" y="96.00" width="24.72" height="1.30" fill="#a4c5e1" />
<rect x="98.83" y="97.00" width="24.72" height="1.50" fill="#9ebed9" />
<rect x="123.25" y="97.00" width="24.72" height="1.50" fill="#a0c1dc" />
<rect x="98.83" y="98.20" width="24.72" height="1.80" fill="#9ebfd9" />
<rect x="123.25" y="98.20" width="24.72" height="1.80" fill="#a1c2dd" />
<rect x="98.83" y="99.70" width="24.72" height="1.80" fill="#adcce5" />
<rect x="123.25" y="99.70" width="24.72" height="1.80" fill="#a0c2dd" />
<rect x="98.83" y="101.20" width="24.72" height="1.10" fill="#a9c9e4" />
<rect x="123.25" y="101.20" width="24.72" height="1.10" fill="#a9c9e4" />
<rect x="98.83" y="102.00" width="24.72" height="1.50" fill="#a8c9e4" />
<rect x="123.25" y="102.00" width="24.72" height="1.50" fill="#a0c1dc" />
<rect x="98.83" y="103.20" width="24.72" height="1.50" fill="#a9cae4" />
<rect x="123.25" y="103.20" width="24.72" height="1.50" fill="#a5c7e3" />
<rect x="98.83" y="104.40" width="24.72" height="1.30" fill="#a5c7e3" />
<rect x="123.25" y="104.40" width="24.72" height="1.30" fill="#a0c1dc" />
<rect x="98.83" y="105.40" width="24.72" height="1.30" fill="#a1c2dd" />
<rect x="123.25" y="105.40" width="24.72" height="1.30" fill="#a0c1dd" />
<rect x="98.83" y="106.40" width="24.72" height="0.40" fill="#9fbfda" />
<rect x="123.25" y="106.40" width="24.72" height="0.40" fill="#a7c8e4" />
<rect x="98.83" y="106.50" width="24.72" height="1.30" fill="#5998cc" />
<rect x="123.25" y="106.50" width="24.72" height="1.30" fill="#4b8fc8" />
<rect x="98.83" y="107.50" width="24.72" height="1.10" fill="#5b99cd" />
<rect x="123.25" y="107.50" width="24.72" height="1.10" fill="#488ac1" />
<rect x="98.83" y="108.30" width="24.72" height="1.80" fill="#4889bf" />
<rect x="123.25" y="108.30" width="24.72" height="1.80" fill="#4788be" />
<rect x="98.83" y="109.80" width="24.72" height="1.30" fill="#4a8ec6" />
<rect x="123.25" y="109.80" width="24.72" height="1.30" fill="#5394ca" />
<rect x="98.83" y="110.80" width="24.72" height="1.30" fill="#4a8dc6" />
<rect x="123.25" y="110.80" width="24.72" height="1.30" fill="#5998cc" />
<rect x="98.83" y="111.80" width="24.72" height="0.50" fill="#5394cb" />
<rect x="123.25" y="111.80" width="24.72" height="0.50" fill="#5d9acd" />
<rect x="98.83" y="112.00" width="24.72" height="1.30" fill="#639fcd" />
<rect x="123.25" y="112.00" width="24.72" height="1.30" fill="#629dca" />
<rect x="98.83" y="113.00" width="24.72" height="1.80" fill="#609ac7" />
<rect x="123.25" y="113.00" width="24.72" height="1.80" fill="#6aa5d3" />
<rect x="98.83" y="114.50" width="24.72" height="1.80" fill="#6fa8d4" />
<rect x="123.25" y="114.50" width="24.72" height="1.80" fill="#74abd5" />
<rect x="98.83" y="116.00" width="24.72" height="1.80" fill="#629dca" />
<rect x="123.25" y="116.00" width="24.72" height="1.80" fill="#609ac7" />
<rect x="98.83" y="117.50" width="24.72" height="1.50" fill="#619bc8" />
<rect x="123.25" y="117.50" width="24.72" height="1.50" fill="#64a1cf" />
<rect x="98.83" y="118.70" width="24.72" height="1.10" fill="#67a3d2" />
<rect x="123.25" y="118.70" width="24.72" height="1.10" fill="#6da7d3" />
<rect x="98.83" y="119.50" width="24.72" height="1.80" fill="#64a0ce" />
<rect x="123.25" y="119.50" width="24.72" height="1.80" fill="#6fa8d4" />
<rect x="98.83" y="121.00" width="24.72" height="1.80" fill="#619bc8" />
<rect x="123.25" y="121.00" width="24.72" height="1.80" fill="#6ba6d3" />
<rect x="98.83" y="122.50" width="24.72" height="1.30" fill="#64a0ce" />
<rect x="123.25" y="122.50" width="24.72" height="1.30" fill="#72aad5" />
<rect x="98.83" y="123.50" width="24.72" height="1.30" fill="#639fcd" />
<rect x="123.25" y="123.50" width="24.72" height="1.30" fill="#6ca6d3" />
<rect x="98.83" y="124.50" width="24.72" height="0.80" fill="#609ac7" />
<rect x="123.25" y="124.50" width="24.72" height="0.80" fill="#64a1cf" />
<rect x="98.83" y="125.00" width="24.72" height="1.80" fill="#659dc8" />
<rect x="123.25" y="125.00" width="24.72" height="1.80" fill="#659dc8" />
<rect x="98.83" y="126.50" width="24.72" height="1.10" fill="#73aad5" />
<rect x="123.25" y="126.50" width="24.72" height="1.10" fill="#659ec9" />
<rect x="98.83" y="127.30" width="24.72" height="1.30" fill="#71a9d4" />
<rect x="123.25" y="127.30" width="24.72" height="1.30" fill="#76acd6" />
<rect x="98.83" y="128.30" width="24.72" height="1.50" fill="#69a3cf" />
<rect x="123.25" y="128.30" width="24.72" height="1.50" fill="#68a2cf" />
<rect x="98.83" y="129.50" width="24.72" height="1.10" fill="#67a1cd" />
<rect x="123.25" y="129.50" width="24.72" height="1.10" fill="#70a9d4" />
<rect x="98.83" y="130.30" width="24.72" height="1.50" fill="#77add6" />
<rect x="123.25" y="130.30" width="24.72" height="1.50" fill="#68a2ce" />
<rect x="98.83" y="131.50" width="24.72" height="1.10" fill="#659dc8" />
<rect x="123.25" y="131.50" width="24.72" height="1.10" fill="#67a1cc" />
<rect x="98.83" y="132.30" width="24.72" height="1.80" fill="#70a9d4" />
<rect x="123.25" y="132.30" width="24.72" height="1.80" fill="#6aa4d1" />
<rect x="98.83" y="133.80" width="24.72" height="1.80" fill="#73aad5" />
<rect x="123.25" y="133.80" width="24.72" height="1.80" fill="#76acd6" />
<rect x="98.83" y="135.30" width="24.72" height="1.80" fill="#669fca" />
<rect x="123.25" y="135.30" width="24.72" height="1.80" fill="#6aa5d2" />
<rect x="98.83" y="136.80" width="24.72" height="1.10" fill="#73aad5" />
<rect x="123.25" y="136.80" width="24.72" height="1.10" fill="#71a9d4" />
<rect x="98.83" y="137.60" width="24.72" height="1.30" fill="#6da7d3" />
<rect x="123.25" y="137.60" width="24.72" height="1.30" fill="#68a2ce" />
<rect x="98.83" y="138.60" width="24.72" height="1.50" fill="#6aa4d1" />
<rect x="123.25" y="138.60" width="24.72" height="1.50" fill="#72aad5" />
<rect x="98.83" y="139.80" width="24.72" height="0.50" fill="#6aa5d2" />
<rect x="123.25" y="139.80" width="24.72" height="0.50" fill="#69a3d0" />
<rect x="98.83" y="140.00" width="24.72" height="1.30" fill="#68a2ce" />
<rect x="123.25" y="140.00" width="24.72" height="1.30" fill="#669fca" />
<rect x="98.83" y="141.00" width="24.72" height="1.10" fill="#6ba6d3" />
<rect x="123.25" y="141.00" width="24.72" height="1.10" fill="#6ca7d3" />
<rect x="98.83" y="141.80" width="24.72" height="1.30" fill="#79afd7" />
<rect x="123.25" y="141.80" width="24.72" height="1.30" fill="#76add6" />
<rect x="98.83" y="142.80" width="24.72" height="1.10" fill="#68a2ce" />
<rect x="123.25" y="142.80" width="24.72" height="1.10" fill="#679fca" />
<rect x="98.83" y="143.60" width="24.72" height="1.10" fill="#6aa5d1" />
<rect x="123.25" y="143.60" width="24.72" height="1.10" fill="#79afd7" />
<rect x="98.83" y="144.40" width="24.72" height="1.80" fill="#68a1cc" />
<rect x="123.25" y="144.40" width="24.72" height="1.80" fill="#67a0cb" />
<rect x="98.83" y="145.90" width="24.72" height="1.80" fill="#6fa8d4" />
<rect x="123.25" y="145.90" width="24.72" height="1.80" fill="#70a9d5" />
<rect x="98.83" y="147.40" width="24.72" height="1.10" fill="#73abd5" />
<rect x="123.25" y="147.40" width="24.72" height="1.10" fill="#69a3cf" />
<rect x="98.83" y="148.20" width="24.72" height="0.70" fill="#6da7d4" />
<rect x="123.25" y="148.20" width="24.72" height="0.70" fill="#6aa4d0" />
<rect x="98.83" y="148.60" width="24.72" height="1.50" fill="#eb9092" />
<rect x="123.25" y="148.60" width="24.72" height="1.50" fill="#ec9093" />
<rect x="98.83" y="149.80" width="24.72" height="1.30" fill="#ec9093" />
<rect x="123.25" y="149.80" width="24.72" height="1.30" fill="#ed9194" />
<rect x="98.83" y="150.80" width="24.72" height="1.30" fill="#ee9194" />
<rect x="123.25" y="150.80" width="24.72" height="1.30" fill="#ef9295" />
<rect x="98.83" y="151.80" width="24.72" height="0.50" fill="#f29497" />
<rect x="123.25" y="151.80" width="24.72" height="0.50" fill="#eb9093" />
<rect x="98.83" y="152.00" width="24.72" height="1.10" fill="#f8c2c4" />
<rect x="123.25" y="152.00" width="24.72" height="1.10" fill="#f9c6c8" />
<rect x="98.83" y="152.80" width="24.72" height="1.10" fill="#ecb6b8" />
<rect x="123.25" y="152.80" width="24.72" height="1.10" fill="#f9c5c7" />
<rect x="98.83" y="153.60" width="24.72" height="1.30" fill="#f8c4c6" />
<rect x="123.25" y="153.60" width="24.72" height="1.30" fill="#f9c5c7" />
<rect x="98.83" y="154.60" width="24.72" height="1.10" fill="#f9c5c7" />
<rect x="123.25" y="154.60" width="24.72" height="1.10" fill="#f1bbbd" />
<rect x="98.83" y="155.40" width="24.72" height="1.10" fill="#f0babc" />
<rect x="123.25" y="155.40" width="24.72" height="1.10" fill="#f9c6c8" />
<rect x="98.83" y="156.20" width="24.72" height="1.30" fill="#f9c5c7" />
<rect x="123.25" y="156.20" width="24.72" height="1.30" fill="#f5bec0" />
<rect x="98.83" y="157.20" width="24.72" height="1.30" fill="#f7bfc1" />
<rect x="123.25" y="157.20" width="24.72" height="1.30" fill="#f2bbbd" />
<rect x="98.83" y="158.20" width="24.72" height="1.10" fill="#eeb8ba" />
<rect x="123.25" y="158.20" width="24.72" height="1.10" fill="#f8c1c3" />
<rect x="98.83" y="159.00" width="24.72" height="1.50" fill="#f1bbbd" />
<rect x="123.25" y="159.00" width="24.72" height="1.50" fill="#f5bdbf" />
<rect x="98.83" y="160.20" width="24.72" height="1.30" fill="#edb7b9" />
<rect x="123.25" y="160.20" width="24.72" height="1.30" fill="#f9c6c8" />
<rect x="98.83" y="161.20" width="24.72" height="1.10" fill="#f8c1c3" />
<rect x="123.25" y="161.20" width="24.72" height="1.10" fill="#f8c2c4" />
<rect x="98.83" y="162.00" width="24.72" height="1.30" fill="#f8c4c6" />
<rect x="123.25" y="162.00" width="24.72" height="1.30" fill="#f8c4c6" />
<rect x="98.83" y="163.00" width="24.72" height="1.80" fill="#f8c2c4" />
<rect x="123.25" y="163.00" width="24.72" height="1.80" fill="#f0babc" />
<rect x="98.83" y="164.50" width="24.72" height="1.50" fill="#eeb8ba" />
<rect x="123.25" y="164.50" width="24.72" height="1.50" fill="#ecb7b9" />
<rect x="98.83" y="165.70" width="24.72" height="1.80" fill="#f8c1c3" />
<rect x="123.25" y="165.70" width="24.72" height="1.80" fill="#edb8ba" />
<rect x="98.83" y="167.20" width="24.72" height="1.10" fill="#f8c4c6" />
<rect x="123.25" y="167.20" width="24.72" height="1.10" fill="#f8c2c4" />
<rect x="98.83" y="168.00" width="24.72" height="1.30" fill="#f8c2c4" />
<rect x="123.25" y="168.00" width="24.72" height="1.30" fill="#eeb8ba" />
<rect x="98.83" y="169.00" width="24.72" height="1.30" fill="#f5bec0" />
<rect x="123.25" y="169.00" width="24.72" height="1.30" fill="#f2bcbe" />
<rect x="98.83" y="170.00" width="24.72" height="1.50" fill="#f8c2c4" />
<rect x="123.25" y="170.00" width="24.72" height="1.50" fill="#f6bec0" />
<rect x="98.83" y="171.20" width="24.72" height="1.10" fill="#f3bcbe" />
<rect x="123.25" y="171.20" width="24.72" height="1.10" fill="#f8c1c3" />
<rect x="98.83" y="172.00" width="24.72" height="1.50" fill="#faf1f2" />
<rect x="123.25" y="172.00" width="24.72" height="1.50" fill="#f0e7e8" />
<rect x="98.83" y="173.20" width="24.72" height="1.50" fill="#fcf3f4" />
<rect x="123.25" y="173.20" width="24.72" height="1.50" fill="#f9f0f1" />
<rect x="98.83" y="174.40" width="24.72" height="1.80" fill="#f5eced" />
<rect x="123.25" y="174.40" width="24.72" height="1.80" fill="#f0e7e8" />
<rect x="98.83" y="175.90" width="24.72" height="1.30" fill="#faf1f2" />
<rect x="123.25" y="175.90" width="24.72" height="1.30" fill="#fcf4f5" />
<rect x="98.83" y="176.90" width="24.72" height="1.80" fill="#fcf3f4" />
<rect x="123.25" y="176.90" width="24.72" height="1.80" fill="#f9f0f1" />
<rect x="98.83" y="178.40" width="24.72" height="1.30" fill="#f3eaeb" />
<rect x="123.25" y="178.40" width="24.72" height="1.30" fill="#f1e8e9" />
<rect x="98.83" y="179.40" width="24.72" height="1.30" fill="#fcf3f4" />
<rect x="123.25" y="179.40" width="24.72" height="1.30" fill="#fcf4f5" />
<rect x="98.83" y="180.40" width="24.72" height="1.10" fill="#fcf3f4" />
<rect x="123.25" y="180.40" width="24.72" height="1.10" fill="#fcf4f5" />
<rect x="98.83" y="181.20" width="24.72" height="1.30" fill="#f3eaeb" />
<rect x="123.25" y="181.20" width="24.72" height="1.30" fill="#f7eeef" />
<rect x="98.83" y="182.20" width="24.72" height="1.10" fill="#fcf4f5" />
<rect x="123.25" y="182.20" width="24.72" height="1.10" fill="#f2e9ea" />
<rect x="98.83" y="183.00" width="24.72" height="1.80" fill="#f9dcdd" />
<rect x="123.25" y="183.00" width="24.72" height="1.80" fill="#f9dcdd" />
<rect x="98.83" y="184.50" width="24.72" height="1.30" fill="#f4d6d7" />
<rect x="123.25" y="184.50" width="24.72" height="1.30" fill="#f9dcdd" />
<rect x="98.83" y="185.50" width="24.72" height="1.10" fill="#fadede" />
<rect x="123.25" y="185.50" width="24.72" height="1.10" fill="#f9dadb" />
<rect x="98.83" y="186.30" width="24.72" height="1.10" fill="#f9dbdc" />
<rect x="123.25" y="186.30" width="24.72" height="1.10" fill="#f9dbdc" />
<rect x="98.83" y="187.10" width="24.72" height="1.10" fill="#f9ddde" />
<rect x="123.25" y="187.10" width="24.72" height="1.10" fill="#f9dbdc" />
<rect x="98.83" y="187.90" width="24.72" height="1.30" fill="#f9dbdc" />
<rect x="123.25" y="187.90" width="24.72" height="1.30" fill="#f9ddde" />
<rect x="98.83" y="188.90" width="24.72" height="1.80" fill="#f9dbdc" />
<rect x="123.25" y="188.90" width="24.72" height="1.80" fill="#f1d3d4" />
<rect x="98.83" y="190.40" width="24.72" height="1.80" fill="#f1d3d4" />
<rect x="123.25" y="190.40" width="24.72" height="1.80" fill="#f2d4d5" />
<rect x="98.83" y="191.90" width="24.72" height="1.80" fill="#faddde" />
<rect x="123.25" y="191.90" width="24.72" height="1.80" fill="#f0d3d3" />
<rect x="98.83" y="193.40" width="24.72" height="1.50" fill="#f0d2d3" />
<rect x="123.25" y="193.40" width="24.72" height="1.50" fill="#f3d4d5" />
<rect x="98.83" y="194.60" width="24.72" height="1.30" fill="#eed0d1" />
<rect x="123.25" y="194.60" width="24.72" height="1.30" fill="#f9dadb" />
<rect x="98.83" y="195.60" width="24.72" height="1.10" fill="#f9dbdc" />
<rect x="123.25" y="195.60" width="24.72" height="1.10" fill="#f5d6d7" />
<rect x="98.83" y="196.40" width="24.72" height="0.90" fill="#f9dbdc" />
<rect x="123.25" y="196.40" width="24.72" height="0.90" fill="#f9dadb" />
<rect x="98.83" y="197.00" width="24.72" height="1.50" fill="#fdf0f0" />
<rect x="123.25" y="197.00" width="24.72" height="1.50" fill="#f8ebeb" />
<rect x="98.83" y="198.20" width="24.72" height="1.30" fill="#fbeeee" />
<rect x="123.25" y="198.20" width="24.72" height="1.30" fill="#fdf0f0" />
<rect x="98.83" y="199.20" width="24.72" height="1.10" fill="#fdf0f0" />
<rect x="123.25" y="199.20" width="24.72" height="1.10" fill="#f5e8e8" />
<rect x="147.67" y="28.00" width="24.72" height="1.10" fill="#c7dcee" />
<rect x="172.08" y="28.00" width="24.72" height="1.10" fill="#c6dbee" />
<rect x="147.67" y="28.80" width="24.72" height="1.30" fill="#c5daed" />
<rect x="172.08" y="28.80" width="24.72" height="1.30" fill="#c7dcee" />
<rect x="147.67" y="29.80" width="24.72" height="1.80" fill="#caddef" />
<rect x="172.08" y="29.80" width="24.72" height="1.80" fill="#caddef" />
<rect x="147.67" y="31.30" width="24.72" height="1.80" fill="#bed2e5" />
<rect x="172.08" y="31.30" width="24.72" height="1.80" fill="#bfd3e5" />
<rect x="147.67" y="32.80" width="24.72" height="1.80" fill="#c3d8eb" />
<rect x="172.08" y="32.80" width="24.72" height="1.80" fill="#c9ddef" />
<rect x="147.67" y="34.30" width="24.72" height="1.10" fill="#bdd1e3" />
<rect x="172.08" y="34.30" width="24.72" height="1.10" fill="#bfd3e5" />
<rect x="147.67" y="35.10" width="24.72" height="1.20" fill="#c9ddef" />
<rect x="172.08" y="35.10" width="24.72" height="1.20" fill="#c6dbee" />
<rect x="147.67" y="36.00" width="24.72" height="1.10" fill="#dbe8f4" />
<rect x="172.08" y="36.00" width="24.72" height="1.10" fill="#dce9f4" />
<rect x="147.67" y="36.80" width="24.72" height="1.30" fill="#cfdce7" />
<rect x="172.08" y="36.80" width="24.72" height="1.30" fill="#d0dde8" />
<rect x="147.67" y="37.80" width="24.72" height="1.10" fill="#d2e0ec" />
<rect x="172.08" y="37.80" width="24.72" height="1.10" fill="#dde9f4" />
<rect x="147.67" y="38.60" width="24.72" height="1.80" fill="#d4e2ee" />
<rect x="172.08" y="38.60" width="24.72" height="1.80" fill="#dbe8f4" />
<rect x="147.67" y="40.10" width="24.72" height="1.30" fill="#dae8f3" />
<rect x="172.08" y="40.10" width="24.72" height="1.30" fill="#dbe8f4" />
<rect x="147.67" y="41.10" width="24.72" height="1.30" fill="#d0dde8" />
<rect x="172.08" y="41.10" width="24.72" height="1.30" fill="#d6e4ef" />
<rect x="147.67" y="42.10" width="24.72" height="1.50" fill="#d2dfeb" />
<rect x="172.08" y="42.10" width="24.72" height="1.50" fill="#dce9f4" />
<rect x="147.67" y="43.30" width="24.72" height="1.50" fill="#dce9f4" />
<rect x="172.08" y="43.30" width="24.72" height="1.50" fill="#d8e6f2" />
<rect x="147.67" y="44.50" width="24.72" height="1.50" fill="#d9e7f3" />
<rect x="172.08" y="44.50" width="24.72" height="1.50" fill="#dce9f4" />
<rect x="147.67" y="45.70" width="24.72" height="0.60" fill="#dae7f3" />
<rect x="172.08" y="45.70" width="24.72" height="0.60" fill="#dae8f3" />
<rect x="147.67" y="46.00" width="24.72" height="1.30" fill="#c9dcec" />
<rect x="172.08" y="46.00" width="24.72" height="1.30" fill="#c4d6e5" />
<rect x="147.67" y="47.00" width="24.72" height="1.30" fill="#cbdeee" />
<rect x="172.08" y="47.00" width="24.72" height="1.30" fill="#cee1f0" />
<rect x="147.67" y="48.00" width="24.72" height="1.50" fill="#cfe1f1" />
<rect x="172.08" y="48.00" width="24.72" height="1.50" fill="#d1e2f1" />
<rect x="147.67" y="49.20" width="24.72" height="1.30" fill="#d0e2f1" />
<rect x="172.08" y="49.20" width="24.72" height="1.30" fill="#c8dbea" />
<rect x="147.67" y="50.20" width="24.72" height="1.10" fill="#cee1f0" />
<rect x="172.08" y="50.20" width="24.72" height="1.10" fill="#cadded" />
<rect x="147.67" y="51.00" width="24.72" height="1.80" fill="#cee0f0" />
<rect x="172.08" y="51.00" width="24.72" height="1.80" fill="#cee0f0" />
<rect x="147.67" y="52.50" width="24.72" height="1.10" fill="#c8daea" />
<rect x="172.08" y="52.50" width="24.72" height="1.10" fill="#cde0f0" />
<rect x="147.67" y="53.30" width="24.72" height="1.80" fill="#cfe1f1" />
<rect x="172.08" y="53.30" width="24.72" height="1.80" fill="#cadded" />
<rect x="147.67" y="54.80" width="24.72" height="0.50" fill="#d2e3f1" />
<rect x="172.08" y="54.80" width="24.72" height="0.50" fill="#cee0f0" />
<rect x="147.67" y="55.00" width="24.72" height="1.50" fill="#bbd3e7" />
<rect x="172.08" y="55.00" width="24.72" height="1.50" fill="#b6cee1" />
<rect x="147.67" y="56.20" width="24.72" height="1.30" fill="#b8d0e3" />
<rect x="172.08" y="56.20" width="24.72" height="1.30" fill="#c1d9ec" />
<rect x="147.67" y="57.20" width="24.72" height="1.10" fill="#bad3e6" />
<rect x="172.08" y="57.20" width="24.72" height="1.10" fill="#bed7eb" />
<rect x="147.67" y="58.00" width="24.72" height="1.50" fill="#c0d8ec" />
<rect x="172.08" y="58.00" width="24.72" height="1.50" fill="#c4dbed" />
<rect x="147.67" y="59.20" width="24.72" height="1.50" fill="#c1d9ec" />
<rect x="172.08" y="59.20" width="24.72" height="1.50" fill="#c1d9ec" />
<rect x="147.67" y="60.40" width="24.72" height="1.30" fill="#b7cfe3" />
<rect x="172.08" y="60.40" width="24.72" height="1.30" fill="#c0d8eb" />
<rect x="147.67" y="61.40" width="24.72" height="0.90" fill="#bcd5e9" />
<rect x="172.08" y="61.40" width="24.72" height="0.90" fill="#bbd4e8" />
<rect x="147.67" y="62.00" width="24.72" height="1.10" fill="#9bbeda" />
<rect x="172.08" y="62.00" width="24.72" height="1.10" fill="#9dc0dc" />
<rect x="147.67" y="62.80" width="24.72" height="1.10" fill="#99bcd7" />
<rect x="172.08" y="62.80" width="24.72" height="1.10" fill="#99bbd7" />
<rect x="147.67" y="63.60" width="24.72" height="1.50" fill="#9ec1de" />
<rect x="172.08" y="63.60" width="24.72" height="1.50" fill="#a1c5e2" />
<rect x="147.67" y="64.80" width="24.72" height="1.30" fill="#a0c3e0" />
<rect x="172.08" y="64.80" width="24.72" height="1.30" fill="#9ec1de" />
<rect x="147.67" y="65.80" width="24.72" height="1.30" fill="#9cbfdb" />
<rect x="172.08" y="65.80" width="24.72" height="1.30" fill="#a3c6e3" />
<rect x="147.67" y="66.80" width="24.72" height="1.80" fill="#9cbeda" />
<rect x="172.08" y="66.80" width="24.72" height="1.80" fill="#99bbd7" />
<rect x="147.67" y="68.30" width="24.72" height="1.30" fill="#a5c7e3" />
<rect x="172.08" y="68.30" width="24.72" height="1.30" fill="#a0c4e1" />
<rect x="147.67" y="69.30" width="24.72" height="1.00" fill="#a4c7e3" />
<rect x="172.08" y="69.30" width="24.72" height="1.00" fill="#a8c9e4" />
<rect x="147.67" y="70.00" width="24.72" height="1.50" fill="#9bc1df" />
<rect x="172.08" y="70.00" width="24.72" height="1.50" fill="#99bedc" />
<rect x="147.67" y="71.20" width="24.72" height="1.10" fill="#96bad7" />
<rect x="172.08" y="71.20" width="24.72" height="1.10" fill="#a3c7e3" />
<rect x="147.67" y="72.00" width="24.72" height="1.50" fill="#9fc4e2" />
<rect x="172.08" y="72.00" width="24.72" height="1.50" fill="#9fc4e1" />
<rect x="147.67" y="73.20" width="24.72" height="1.80" fill="#99bedb" />
<rect x="172.08" y="73.20" width="24.72" height="1.80" fill="#a5c8e3" />
<rect x="147.67" y="74.70" width="24.72" height="1.10" fill="#96bad7" />
<rect x="172.08" y="74.70" width="24.72" height="1.10" fill="#96bad6" />
<rect x="147.67" y="75.50" width="24.72" height="1.30" fill="#99bedb" />
<rect x="172.08" y="75.50" width="24.72" height="1.30" fill="#96bad7" />
<rect x="147.67" y="76.50" width="24.72" height="1.10" fill="#95b9d6" />
<rect x="172.08" y="76.50" width="24.72" height="1.10" fill="#9ec4e1" />
<rect x="147.67" y="77.30" width="24.72" height="1.30" fill="#97bcd9" />
<rect x="172.08" y="77.30" width="24.72" height="1.30" fill="#98bdda" />
<rect x="147.67" y="78.30" width="24.72" height="1.80" fill="#a3c7e3" />
<rect x="172.08" y="78.30" width="24.72" height="1.80" fill="#98bdda" />
<rect x="147.67" y="79.80" width="24.72" height="0.50" fill="#96bad7" />
<rect x="172.08" y="79.80" width="24.72" height="0.50" fill="#9fc5e2" />
<rect x="147.67" y="80.00" width="24.72" height="1.80" fill="#accbe5" />
<rect x="172.08" y="80.00" width="24.72" height="1.80" fill="#a0bfd9" />
<rect x="147.67" y="81.50" width="24.72" height="1.80" fill="#accce5" />
<rect x="172.08" y="81.50" width="24.72" height="1.80" fill="#a7c8e3" />
<rect x="147.67" y="83.00" width="24.72" height="1.80" fill="#a3c2dd" />
<rect x="172.08" y="83.00" width="24.72" height="1.80" fill="#b1cee7" />
<rect x="147.67" y="84.50" width="24.72" height="1.50" fill="#a4c4de" />
<rect x="172.08" y="84.50" width="24.72" height="1.50" fill="#a0c0d9" />
<rect x="147.67" y="85.70" width="24.72" height="1.50" fill="#afcde6" />
<rect x="172.08" y="85.70" width="24.72" height="1.50" fill="#afcee6" />
<rect x="147.67" y="86.90" width="24.72" height="1.50" fill="#accbe5" />
<rect x="172.08" y="86.90" width="24.72" height="1.50" fill="#a4c4df" />
<rect x="147.67" y="88.10" width="24.72" height="1.80" fill="#abcbe5" />
<rect x="172.08" y="88.10" width="24.72" height="1.80" fill="#afcee6" />
<rect x="147.67" y="89.60" width="24.72" height="0.70" fill="#a5c5df" />
<rect x="172.08" y="89.60" width="24.72" height="0.70" fill="#afcee6" />
<rect x="147.67" y="90.00" width="24.72" height="1.30" fill="#afc9df" />
<rect x="172.08" y="90.00" width="24.72" height="1.30" fill="#b7d2e9" />
<rect x="147.67" y="91.00" width="24.72" height="1.30" fill="#b3cde3" />
<rect x="172.08" y="91.00" width="24.72" height="1.30" fill="#b2cce3" />
<rect x="147.67" y="92.00" width="24.72" height="1.30" fill="#bdd6eb" />
<rect x="172.08" y="92.00" width="24.72" height="1.30" fill="#bbd4ea" />
<rect x="147.67" y="93.00" width="24.72" height="1.50" fill="#b1cce2" />
<rect x="172.08" y="93.00" width="24.72" height="1.50" fill="#b5d0e6" />
<rect x="147.67" y="94.20" width="24.72" height="1.30" fill="#b5cfe6" />
<rect x="172.08" y="94.20" width="24.72" height="1.30" fill="#bcd5eb" />
<rect x="147.67" y="95.20" width="24.72" height="1.80" fill="#b6d1e8" />
<rect x="172.08" y="95.20" width="24.72" height="1.80" fill="#b7d2e9" />
<rect x="147.67" y="96.70" width="24.72" height="1.10" fill="#bcd5eb" />
<rect x="172.08" y="96.70" width="24.72" height="1.10" fill="#b6d1e8" />
<rect x="147.67" y="97.50" width="24.72" height="0.80" fill="#b8d3e9" />
<rect x="172.08" y="97.50" width="24.72" height="0.80" fill="#b3cee5" />
<rect x="147.67" y="98.00" width="24.72" height="1.30" fill="#9cc1df" />
<rect x="172.08" y="98.00" width="24.72" height="1.30" fill="#a0c4e2" />
<rect x="147.67" y="99.00" width="24.72" height="1.30" fill="#98bcd9" />
<rect x="172.08" y="99.00" width="24.72" height="1.30" fill="#97bad6" />
<rect x="147.67" y="100.00" width="24.72" height="1.10" fill="#a0c4e2" />
<rect x="172.08" y="100.00" width="24.72" height="1.10" fill="#99bcd9" />
<rect x="147.67" y="100.80" width="24.72" height="1.30" fill="#a2c5e2" />
<rect x="172.08" y="100.80" width="24.72" height="1.30" fill="#97bad6" />
<rect x="147.67" y="101.80" width="24.72" height="1.30" fill="#a2c5e2" />
<rect x="172.08" y="101.80" width="24.72" height="1.30" fill="#a1c5e2" />
<rect x="147.67" y="102.80" width="24.72" height="1.10" fill="#a3c6e2" />
<rect x="172.08" y="102.80" width="24.72" height="1.10" fill="#97bbd7" />
<rect x="147.67" y="103.60" width="24.72" height="1.50" fill="#99bdda" />
<rect x="172.08" y="103.60" width="24.72" height="1.50" fill="#a7c8e4" />
<rect x="147.67" y="104.80" width="24.72" height="1.10" fill="#a5c8e3" />
<rect x="172.08" y="104.80" width="24.72" height="1.10" fill="#a3c6e3" />
<rect x="147.67" y="105.60" width="24.72" height="1.20" fill="#98bbd8" />
<rect x="172.08" y="105.60" width="24.72" height="1.20" fill="#99bdda" />
<rect x="147.67" y="106.50" width="24.72" height="1.10" fill="#4787be" />
<rect x="172.08" y="106.50" width="24.72" height="1.10" fill="#5a98cc" />
<rect x="147.67" y="107.30" width="24.72" height="1.10" fill="#5695cb" />
<rect x="172.08" y="107.30" width="24.72" height="1.10" fill="#4f91c8" />
<rect x="147.67" y="108.10" width="24.72" height="1.50" fill="#4a8ec7" />
<rect x="172.08" y="108.10" width="24.72" height="1.50" fill="#4789c0" />
<rect x="147.67" y="109.30" width="24.72" height="1.30" fill="#488bc3" />
<rect x="172.08" y="109.30" width="24.72" height="1.30" fill="#498cc4" />
<rect x="147.67" y="110.30" width="24.72" height="1.50" fill="#4687bd" />
<rect x="172.08" y="110.30" width="24.72" height="1.50" fill="#488bc2" />
<rect x="147.67" y="111.50" width="24.72" height="0.80" fill="#4788be" />
<rect x="172.08" y="111.50" width="24.72" height="0.80" fill="#5394ca" />
<rect x="147.67" y="112.00" width="24.72" height="1.50" fill="#71a9d4" />
<rect x="172.08" y="112.00" width="24.72" height="1.50" fill="#6ca6d3" />
<rect x="147.67" y="113.20" width="24.72" height="1.80" fill="#74aad5" />
<rect x="172.08" y="113.20" width="24.72" height="1.80" fill="#6da6d3" />
<rect x="147.67" y="114.70" width="24.72" height="1.10" fill="#72a9d5" />
<rect x="172.08" y="114.70" width="24.72" height="1.10" fill="#649cc8" />
<rect x="147.67" y="115.50" width="24.72" height="1.10" fill="#67a1cf" />
<rect x="172.08" y="115.50" width="24.72" height="1.10" fill="#6fa8d4" />
<rect x="147.67" y="116.30" width="24.72" height="1.30" fill="#6fa8d4" />
<rect x="172.08" y="116.30" width="24.72" height="1.30" fill="#73aad5" />
<rect x="147.67" y="117.30" width="24.72" height="1.50" fill="#669fcb" />
<rect x="172.08" y="117.30" width="24.72" height="1.50" fill="#649cc8" />
<rect x="147.67" y="118.50" width="24.72" height="1.30" fill="#67a1ce" />
<rect x="172.08" y="118.50" width="24.72" height="1.30" fill="#71a9d4" />
<rect x="147.67" y="119.50" width="24.72" height="1.10" fill="#649cc8" />
<rect x="172.08" y="119.50" width="24.72" height="1.10" fill="#69a4d2" />
<rect x="147.67" y="120.30" width="24.72" height="1.80" fill="#6fa8d4" />
<rect x="172.08" y="120.30" width="24.72" height="1.80" fill="#73aad5" />
<rect x="147.67" y="121.80" width="24.72" height="1.80" fill="#6ca6d3" />
<rect x="172.08" y="121.80" width="24.72" height="1.80" fill="#77acd6" />
<rect x="147.67" y="123.30" width="24.72" height="1.50" fill="#6ba5d3" />
<rect x="172.08" y="123.30" width="24.72" height="1.50" fill="#659ecb" />
<rect x="147.67" y="124.50" width="24.72" height="0.80" fill="#76acd6" />
<rect x="172.08" y="124.50" width="24.72" height="0.80" fill="#66a0cc" />
<rect x="147.67" y="125.00" width="24.72" height="1.30" fill="#69a0cb" />
<rect x="172.08" y="125.00" width="24.72" height="1.30" fill="#71a9d4" />
<rect x="147.67" y="126.00" width="24.72" height="1.10" fill="#6da7d3" />
<rect x="172.08" y="126.00" width="24.72" height="1.10" fill="#7bb0d7" />
<rect x="147.67" y="126.80" width="24.72" height="1.10" fill="#71a9d4" />
<rect x="172.08" y="126.80" width="24.72" height="1.10" fill="#6ba5d0" />
<rect x="147.67" y="127.60" width="24.72" height="1.80" fill="#7aafd7" />
<rect x="172.08" y="127.60" width="24.72" height="1.80" fill="#78aed6" />
<rect x="147.67" y="129.10" width="24.72" height="1.10" fill="#6ca6d1" />
<rect x="172.08" y="129.10" width="24.72" height="1.10" fill="#71aad4" />
<rect x="147.67" y="129.90" width="24.72" height="1.50" fill="#6aa2cd" />
<rect x="172.08" y="129.90" width="24.72" height="1.50" fill="#6aa3ce" />
<rect x="147.67" y="131.10" width="24.72" height="1.30" fill="#6ca5d0" />
<rect x="172.08" y="131.10" width="24.72" height="1.30" fill="#78aed6" />
<rect x="147.67" y="132.10" width="24.72" height="1.30" fill="#7aafd7" />
<rect x="172.08" y="132.10" width="24.72" height="1.30" fill="#69a1cb" />
<rect x="147.67" y="133.10" width="24.72" height="1.10" fill="#6ba4d0" />
<rect x="172.08" y="133.10" width="24.72" height="1.10" fill="#6ba4cf" />
<rect x="147.67" y="133.90" width="24.72" height="1.30" fill="#78add6" />
<rect x="172.08" y="133.90" width="24.72" height="1.30" fill="#6ca6d2" />
<rect x="147.67" y="134.90" width="24.72" height="1.50" fill="#69a1cc" />
<rect x="172.08" y="134.90" width="24.72" height="1.50" fill="#6ca6d2" />
<rect x="147.67" y="136.10" width="24.72" height="1.50" fill="#6fa8d4" />
<rect x="172.08" y="136.10" width="24.72" height="1.50" fill="#69a1cb" />
<rect x="147.67" y="137.30" width="24.72" height="1.80" fill="#71aad4" />
<rect x="172.08" y="137.30" width="24.72" height="1.80" fill="#73aad5" />
<rect x="147.67" y="138.80" width="24.72" height="1.30" fill="#6aa3ce" />
<rect x="172.08" y="138.80" width="24.72" height="1.30" fill="#74abd5" />
<rect x="147.67" y="139.80" width="24.72" height="0.50" fill="#74abd5" />
<rect x="172.08" y="139.80" width="24.72" height="0.50" fill="#7bafd7" />
<rect x="147.67" y="140.00" width="24.72" height="1.50" fill="#72aad5" />
<rect x="172.08" y="140.00" width="24.72" height="1.50" fill="#6da5d1" />
<rect x="147.67" y="141.20" width="24.72" height="1.30" fill="#6da5d0" />
<rect x="172.08" y="141.20" width="24.72" height="1.30" fill="#6ca3cd" />
<rect x="147.67" y="142.20" width="24.72" height="1.10" fill="#6ba2cd" />
<rect x="172.08" y="142.20" width="24.72" height="1.10" fill="#74abd5" />
<rect x="147.67" y="143.00" width="24.72" height="1.30" fill="#6ea6d2" />
<rect x="172.08" y="143.00" width="24.72" height="1.30" fill="#7db0d8" />
<rect x="147.67" y="144.00" width="24.72" height="1.50" fill="#76acd6" />
<rect x="172.08" y="144.00" width="24.72" height="1.50" fill="#6ea7d3" />
<rect x="147.67" y="145.20" width="24.72" height="1.30" fill="#6ba1cc" />
<rect x="172.08" y="145.20" width="24.72" height="1.30" fill="#7bafd8" />
<rect x="147.67" y="146.20" width="24.72" height="1.50" fill="#6ca3ce" />
<rect x="172.08" y="146.20" width="24.72" height="1.50" fill="#6ea6d2" />
<rect x="147.67" y="147.40" width="24.72" height="1.10" fill="#6aa0ca" />
<rect x="172.08" y="147.40" width="24.72" height="1.10" fill="#79aed7" />
<rect x="147.67" y="148.20" width="24.72" height="0.70" fill="#75abd6" />
<rect x="172.08" y="148.20" width="24.72" height="0.70" fill="#6fa8d4" />
<rect x="147.67" y="148.60" width="24.72" height="1.50" fill="#f19396" />
<rect x="172.08" y="148.60" width="24.72" height="1.50" fill="#e98f92" />
<rect x="147.67" y="149.80" width="24.72" height="1.80" fill="#e68d90" />
<rect x="172.08" y="149.80" width="24.72" height="1.80" fill="#ec9093" />
<rect x="147.67" y="151.30" width="24.72" height="1.00" fill="#f3989b" />
<rect x="172.08" y="151.30" width="24.72" height="1.00" fill="#f29699" />
<rect x="147.67" y="152.00" width="24.72" height="1.80" fill="#f8c7c9" />
<rect x="172.08" y="152.00" width="24.72" height="1.80" fill="#f8c5c7" />
<rect x="147.67" y="153.50" width="24.72" height="1.30" fill="#f8c5c7" />
<rect x="172.08" y="153.50" width="24.72" height="1.30" fill="#f8c5c7" />
<rect x="147.67" y="154.50" width="24.72" height="1.80" fill="#f6c2c4" />
<rect x="172.08" y="154.50" width="24.72" height="1.80" fill="#f2bec0" />
<rect x="147.67" y="156.00" width="24.72" height="1.10" fill="#f9c8ca" />
<rect x="172.08" y="156.00" width="24.72" height="1.10" fill="#f2bec0" />
<rect x="147.67" y="156.80" width="24.72" height="1.80" fill="#f8c6c7" />
<rect x="172.08" y="156.80" width="24.72" height="1.80" fill="#f8c5c7" />
<rect x="147.67" y="158.30" width="24.72" height="1.50" fill="#f8c7c9" />
<rect x="172.08" y="158.30" width="24.72" height="1.50" fill="#f8c3c5" />
<rect x="147.67" y="159.50" width="24.72" height="1.10" fill="#f8c4c6" />
<rect x="172.08" y="159.50" width="24.72" height="1.10" fill="#f6c1c3" />
<rect x="147.67" y="160.30" width="24.72" height="1.30" fill="#f9c8ca" />
<rect x="172.08" y="160.30" width="24.72" height="1.30" fill="#f4c0c2" />
<rect x="147.67" y="161.30" width="24.72" height="1.10" fill="#f5c1c3" />
<rect x="172.08" y="161.30" width="24.72" height="1.10" fill="#f8c3c5" />
<rect x="147.67" y="162.10" width="24.72" height="1.10" fill="#edbabc" />
<rect x="172.08" y="162.10" width="24.72" height="1.10" fill="#f8c4c6" />
<rect x="147.67" y="162.90" width="24.72" height="1.30" fill="#f8c6c8" />
<rect x="172.08" y="162.90" width="24.72" height="1.30" fill="#f9c8ca" />
<rect x="147.67" y="163.90" width="24.72" height="1.30" fill="#f8c3c5" />
<rect x="172.08" y="163.90" width="24.72" height="1.30" fill="#eebbbd" />
<rect x="147.67" y="164.90" width="24.72" height="1.80" fill="#f8c3c5" />
<rect x="172.08" y="164.90" width="24.72" height="1.80" fill="#f8c6c8" />
<rect x="147.67" y="166.40" width="24.72" height="1.10" fill="#f8c5c7" />
<rect x="172.08" y="166.40" width="24.72" height="1.10" fill="#f8c7c9" />
<rect x="147.67" y="167.20" width="24.72" height="1.50" fill="#f6c1c3" />
<rect x="172.08" y="167.20" width="24.72" height="1.50" fill="#f9c8ca" />
<rect x="147.67" y="168.40" width="24.72" height="1.30" fill="#f9c9cb" />
<rect x="172.08" y="168.40" width="24.72" height="1.30" fill="#f0bdbf" />
<rect x="147.67" y="169.40" width="24.72" height="1.10" fill="#f8c6c8" />
<rect x="172.08" y="169.40" width="24.72" height="1.10" fill="#f8c4c6" />
<rect x="147.67" y="170.20" width="24.72" height="1.10" fill="#f2bec0" />
<rect x="172.08" y="170.20" width="24.72" height="1.10" fill="#f5c1c3" />
<rect x="147.67" y="171.00" width="24.72" height="1.10" fill="#ecbabb" />
<rect x="172.08" y="171.00" width="24.72" height="1.10" fill="#f6c1c3" />
<rect x="147.67" y="171.80" width="24.72" height="0.50" fill="#f8c5c6" />
<rect x="172.08" y="171.80" width="24.72" height="0.50" fill="#f8c5c7" />
<rect x="147.67" y="172.00" width="24.72" height="1.50" fill="#ebebf0" />
<rect x="172.08" y="172.00" width="24.72" height="1.50" fill="#f0f0f5" />
<rect x="147.67" y="173.20" width="24.72" height="1.80" fill="#f6f6fa" />
<rect x="172.08" y="173.20" width="24.72" height="1.80" fill="#f5f5fa" />
<rect x="147.67" y="174.70" width="24.72" height="1.30" fill="#f6f6fa" />
<rect x="172.08" y="174.70" width="24.72" height="1.30" fill="#f6f6fa" />
<rect x="147.67" y="175.70" width="24.72" height="1.80" fill="#eeeef3" />
<rect x="172.08" y="175.70" width="24.72" height="1.80" fill="#ececf1" />
<rect x="147.67" y="177.20" width="24.72" height="1.10" fill="#f6f6fa" />
<rect x="172.08" y="177.20" width="24.72" height="1.10" fill="#f5f5fa" />
<rect x="147.67" y="178.00" width="24.72" height="1.80" fill="#f5f5fa" />
<rect x="172.08" y="178.00" width="24.72" height="1.80" fill="#f5f5fa" />
<rect x="147.67" y="179.50" width="24.72" height="1.30" fill="#f1f1f6" />
<rect x="172.08" y="179.50" width="24.72" height="1.30" fill="#f5f5fa" />
<rect x="147.67" y="180.50" width="24.72" height="1.80" fill="#f4f4f9" />
<rect x="172.08" y="180.50" width="24.72" height="1.80" fill="#f0f0f5" />
<rect x="147.67" y="182.00" width="24.72" height="1.30" fill="#f6f6fa" />
<rect x="172.08" y="182.00" width="24.72" height="1.30" fill="#f4f4f9" />
<rect x="147.67" y="183.00" width="24.72" height="1.30" fill="#f3d3d4" />
<rect x="172.08" y="183.00" width="24.72" height="1.30" fill="#f6d5d6" />
<rect x="147.67" y="184.00" width="24.72" height="1.50" fill="#fadcdd" />
<rect x="172.08" y="184.00" width="24.72" height="1.50" fill="#f9d9da" />
<rect x="147.67" y="185.20" width="24.72" height="1.80" fill="#edcdce" />
<rect x="172.08" y="185.20" width="24.72" height="1.80" fill="#f9dadb" />
<rect x="147.67" y="186.70" width="24.72" height="1.50" fill="#f5d5d6" />
<rect x="172.08" y="186.70" width="24.72" height="1.50" fill="#f9d9da" />
<rect x="147.67" y="187.90" width="24.72" height="1.50" fill="#f8d8d9" />
<rect x="172.08" y="187.90" width="24.72" height="1.50" fill="#f7d6d7" />
<rect x="147.67" y="189.10" width="24.72" height="1.10" fill="#f9d9da" />
<rect x="172.08" y="189.10" width="24.72" height="1.10" fill="#f6d5d6" />
<rect x="147.67" y="189.90" width="24.72" height="1.50" fill="#f9dbdc" />
<rect x="172.08" y="189.90" width="24.72" height="1.50" fill="#eececf" />
<rect x="147.67" y="191.10" width="24.72" height="1.50" fill="#f9dadb" />
<rect x="172.08" y="191.10" width="24.72" height="1.50" fill="#f0d0d1" />
<rect x="147.67" y="192.30" width="24.72" height="1.50" fill="#f9d9da" />
<rect x="172.08" y="192.30" width="24.72" height="1.50" fill="#edcece" />
<rect x="147.67" y="193.50" width="24.72" height="1.10" fill="#f2d2d3" />
<rect x="172.08" y="193.50" width="24.72" height="1.10" fill="#eecfd0" />
<rect x="147.67" y="194.30" width="24.72" height="1.50" fill="#f3d3d4" />
<rect x="172.08" y="194.30" width="24.72" height="1.50" fill="#efcfd0" />
<rect x="147.67" y="195.50" width="24.72" height="1.30" fill="#f9dbdc" />
<rect x="172.08" y="195.50" width="24.72" height="1.30" fill="#f1d1d2" />
<rect x="147.67" y="196.50" width="24.72" height="0.80" fill="#f5d5d6" />
<rect x="172.08" y="196.50" width="24.72" height="0.80" fill="#f0d0d1" />
<rect x="147.67" y="197.00" width="24.72" height="1.80" fill="#fdefef" />
<rect x="172.08" y="197.00" width="24.72" height="1.80" fill="#f5e6e6" />
<rect x="147.67" y="198.50" width="24.72" height="1.10" fill="#fdefef" />
<rect x="172.08" y="198.50" width="24.72" height="1.10" fill="#fdefef" />
<rect x="147.67" y="199.30" width="24.72" height="1.00" fill="#f5e7e7" />
<rect x="172.08" y="199.30" width="24.72" height="1.00" fill="#fdefef" />
</g>
<line x1="74.50" y1="2.50" x2="147.30" y2="2.50" stroke="#555" stroke-width="0.8" />
<line x1="74.50" y1="2.50" x2="74.50" y2="19.30" stroke="#555" stroke-width="0.8" />
<line x1="147.30" y1="2.50" x2="147.30" y2="10.00" stroke="#555" stroke-width="0.8" />
<line x1="62.20" y1="19.30" x2="86.70" y2="19.30" stroke="#555" stroke-width="0.8" />
<line x1="62.20" y1="19.30" x2="62.20" y2="28.00" stroke="#555" stroke-width="0.8" />
<line x1="86.70" y1="19.30" x2="86.70" y2="28.00" stroke="#555" stroke-width="0.8" />
<line x1="123.00" y1="10.00" x2="171.60" y2="10.00" stroke="#555" stroke-width="0.8" />
<line x1="123.00" y1="10.00" x2="123.00" y2="19.30" stroke="#555" stroke-width="0.8" />
<line x1="171.60" y1="10.00" x2="171.60" y2="19.30" stroke="#555" stroke-width="0.8" />
<line x1="110.80" y1="19.30" x2="135.30" y2="19.30" stroke="#555" stroke-width="0.8" />
<line x1="110.80" y1="19.30" x2="110.80" y2="28.00" stroke="#555" stroke-width="0.8" />
<line x1="135.30" y1="19.30" x2="135.30" y2="28.00" stroke="#555" stroke-width="0.8" />
<line x1="159.50" y1="19.30" x2="184.00" y2="19.30" stroke="#555" stroke-width="0.8" />
<line x1="159.50" y1="19.30" x2="159.50" y2="28.00" stroke="#555" stroke-width="0.8" />
<line x1="184.00" y1="19.30" x2="184.00" y2="28.00" stroke="#555" stroke-width="0.8" />
<path d="M43.78 28.27L50.00 28.27M43.53 28.93L50.00 28.93M41.56 28.27L41.56 28.93M41.56 28.27L43.78 28.27M41.56 28.93L43.53 28.93M43.86 29.53L50.00 29.53M42.80 30.11L50.00 30.11M41.93 29.53L41.93 30.11M41.93 29.53L43.86 29.53M41.93 30.11L42.80 30.11M40.80 28.60L40.80 29.82M40.80 28.60L41.56 28.60M40.80 29.82L41.93 29.82M43.26 30.94L50.00 30.94M43.27 31.66L50.00 31.66M42.33 30.94L42.33 31.66M42.33 30.94L43.26 30.94M42.33 31.66L43.27 31.66M44.12 32.32L50.00 32.32M43.20 32.91L50.00 32.91M42.12 32.32L42.12 32.91M42.12 32.32L44.12 32.32M42.12 32.91L43.20 32.91M41.43 31.30L41.43 32.61M41.43 31.30L42.33 31.30M41.43 32.61L42.12 32.61M39.43 29.21L39.43 31.96M39.43 29.21L40.80 29.21M39.43 31.96L41.43 31.96M42.38 33.61L50.00 33.61M44.65 34.39L50.00 34.39M44.62 34.98L50.00 34.98M43.97 34.39L43.97 34.98M43.97 34.39L44.65 34.39M43.97 34.98L44.62 34.98M43.00 35.57L50.00 35.57M41.86 34.69L41.86 35.57M41.86 34.69L43.97 34.69M41.86 35.57L43.00 35.57M39.59 33.61L39.59 35.13M39.59 33.61L42.38 33.61M39.59 35.13L41.86 35.13M41.35 36.04L50.00 36.04M41.96 36.67L50.00 36.67M39.94 36.04L39.94 36.67M39.94 36.04L41.35 36.04M39.94 36.67L41.96 36.67M37.18 34.37L37.18 36.35M37.18 34.37L39.59 34.37M37.18 36.35L39.94 36.35M35.71 30.58L35.71 35.36M35.71 30.58L39.43 30.58M35.71 35.36L37.18 35.36M43.83 37.64L50.00 37.64M45.77 38.43L50.00 38.43M44.65 39.16L50.00 39.16M44.16 38.43L44.16 39.16M44.16 38.43L45.77 38.43M44.16 39.16L44.65 39.16M42.50 37.64L42.50 38.79M42.50 37.64L43.83 37.64M42.50 38.79L44.16 38.79M45.27 39.86L50.00 39.86M45.41 40.50L50.00 40.50M44.81 39.86L44.81 40.50M44.81 39.86L45.27 39.86M44.81 40.50L45.41 40.50M45.07 41.35L50.00 41.35M43.87 40.18L43.87 41.35M43.87 40.18L44.81 40.18M43.87 41.35L45.07 41.35M43.41 42.23L50.00 42.23M44.25 42.93L50.00 42.93M42.52 42.23L42.52 42.93M42.52 42.23L43.41 42.23M42.52 42.93L44.25 42.93M41.84 40.76L41.84 42.58M41.84 40.76L43.87 40.76M41.84 42.58L42.52 42.58M40.09 38.22L40.09 41.67M40.09 38.22L42.50 38.22M40.09 41.67L41.84 41.67M45.49 43.61L50.00 43.61M46.38 44.32L50.00 44.32M45.05 43.61L45.05 44.32M45.05 43.61L45.49 43.61M45.05 44.32L46.38 44.32M45.84 45.04L50.00 45.04M47.15 45.81L50.00 45.81M47.16 46.42L50.00 46.42M46.68 45.81L46.68 46.42M46.68 45.81L47.15 45.81M46.68 46.42L47.16 46.42M47.14 47.01L50.00 47.01M46.10 46.12L46.10 47.01M46.10 46.12L46.68 46.12M46.10 47.01L47.14 47.01M45.12 45.04L45.12 46.56M45.12 45.04L45.84 45.04M45.12 46.56L46.10 46.56M43.58 43.97L43.58 45.80M43.58 43.97L45.05 43.97M43.58 45.80L45.12 45.80M46.07 47.88L50.00 47.88M45.16 48.85L50.00 48.85M44.55 47.88L44.55 48.85M44.55 47.88L46.07 47.88M44.55 48.85L45.16 48.85M46.12 49.80L50.00 49.80M46.19 50.85L50.00 50.85M47.10 51.75L50.00 51.75M47.08 52.35L50.00 52.35M46.50 51.75L46.50 52.35M46.50 51.75L47.10 51.75M46.50 52.35L47.08 52.35M45.64 50.85L45.64 52.05M45.64 50.85L46.19 50.85M45.64 52.05L46.50 52.05M44.63 49.80L44.63 51.45M44.63 49.80L46.12 49.80M44.63 51.45L45.64 51.45M43.97 48.37L43.97 50.62M43.97 48.37L44.55 48.37M43.97 50.62L44.63 50.62M42.12 44.88L42.12 49.49M42.12 44.88L43.58 44.88M42.12 49.49L43.97 49.49M44.92 52.95L50.00 52.95M43.96 53.69L50.00 53.69M43.25 52.95L43.25 53.69M43.25 52.95L44.92 52.95M43.25 53.69L43.96 53.69M44.51 54.63L50.00 54.63M44.91 55.56L50.00 55.56M43.89 54.63L43.89 55.56M43.89 54.63L44.51 54.63M43.89 55.56L44.91 55.56M45.01 56.14L50.00 56.14M44.28 56.78L50.00 56.78M43.35 56.14L43.35 56.78M43.35 56.14L45.01 56.14M43.35 56.78L44.28 56.78M41.63 55.09L41.63 56.46M41.63 55.09L43.89 55.09M41.63 56.46L43.35 56.46M40.83 53.32L40.83 55.78M40.83 53.32L43.25 53.32M40.83 55.78L41.63 55.78M39.23 47.19L39.23 54.55M39.23 47.19L42.12 47.19M39.23 54.55L40.83 54.55M37.37 39.94L37.37 50.87M37.37 39.94L40.09 39.94M37.37 50.87L39.23 50.87M32.72 32.97L32.72 45.41M32.72 32.97L35.71 32.97M32.72 45.41L37.37 45.41M44.75 57.62L50.00 57.62M44.27 58.26L50.00 58.26M42.78 57.62L42.78 58.26M42.78 57.62L44.75 57.62M42.78 58.26L44.27 58.26M44.17 58.82L50.00 58.82M43.83 59.55L50.00 59.55M43.16 58.82L43.16 59.55M43.16 58.82L44.17 58.82M43.16 59.55L43.83 59.55M41.90 57.94L41.90 59.18M41.90 57.94L42.78 57.94M41.90 59.18L43.16 59.18M43.53 60.31L50.00 60.31M43.68 61.25L50.00 61.25M41.53 60.31L41.53 61.25M41.53 60.31L43.53 60.31M41.53 61.25L43.68 61.25M40.17 58.56L40.17 60.78M40.17 58.56L41.90 58.56M40.17 60.78L41.53 60.78M42.56 62.27L50.00 62.27M44.13 63.07L50.00 63.07M44.27 63.64L50.00 63.64M42.54 63.07L42.54 63.64M42.54 63.07L44.13 63.07M42.54 63.64L44.27 63.64M40.25 62.27L40.25 63.35M40.25 62.27L42.56 62.27M40.25 63.35L42.54 63.35M38.15 59.67L38.15 62.81M38.15 59.67L40.17 59.67M38.15 62.81L40.25 62.81M44.62 64.22L50.00 64.22M44.18 65.01L50.00 65.01M42.64 64.22L42.64 65.01M42.64 64.22L44.62 64.22M42.64 65.01L44.18 65.01M43.10 65.91L50.00 65.91M43.91 66.72L50.00 66.72M42.49 65.91L42.49 66.72M42.49 65.91L43.10 65.91M42.49 66.72L43.91 66.72M40.39 64.62L40.39 66.32M40.39 64.62L42.64 64.62M40.39 66.32L42.49 66.32M43.38 67.61L50.00 67.61M43.63 68.41L50.00 68.41M41.63 67.61L41.63 68.41M41.63 67.61L43.38 67.61M41.63 68.41L43.63 68.41M43.02 69.23L50.00 69.23M44.21 70.19L50.00 70.19M44.88 70.86L50.00 70.86M43.19 70.19L43.19 70.86M43.19 70.19L44.21 70.19M43.19 70.86L44.88 70.86M41.18 69.23L41.18 70.52M41.18 69.23L43.02 69.23M41.18 70.52L43.19 70.52M39.34 68.01L39.34 69.88M39.34 68.01L41.63 68.01M39.34 69.88L41.18 69.88M37.66 65.47L37.66 68.94M37.66 65.47L40.39 65.47M37.66 68.94L39.34 68.94M33.54 61.24L33.54 67.20M33.54 61.24L38.15 61.24M33.54 67.20L37.66 67.20M27.62 39.19L27.62 64.22M27.62 39.19L32.72 39.19M27.62 64.22L33.54 64.22M44.22 71.55L50.00 71.55M43.86 72.39L50.00 72.39M42.66 71.55L42.66 72.39M42.66 71.55L44.22 71.55M42.66 72.39L43.86 72.39M43.66 73.35L50.00 73.35M41.71 71.97L41.71 73.35M41.71 71.97L42.66 71.97M41.71 73.35L43.66 73.35M44.24 74.40L50.00 74.40M44.41 75.20L50.00 75.20M43.70 74.40L43.70 75.20M43.70 74.40L44.24 74.40M43.70 75.20L44.41 75.20M44.85 75.84L50.00 75.84M44.28 76.50L50.00 76.50M43.47 75.84L43.47 76.50M43.47 75.84L44.85 75.84M43.47 76.50L44.28 76.50M41.77 74.80L41.77 76.17M41.77 74.80L43.70 74.80M41.77 76.17L43.47 76.17M39.39 72.66L39.39 75.49M39.39 72.66L41.71 72.66M39.39 75.49L41.77 75.49M43.86 77.34L50.00 77.34M44.22 78.17L50.00 78.17M44.76 79.07L50.00 79.07M43.66 78.17L43.66 79.07M43.66 78.17L44.22 78.17M43.66 79.07L44.76 79.07M42.83 77.34L42.83 78.62M42.83 77.34L43.86 77.34M42.83 78.62L43.66 78.62M45.61 79.89L50.00 79.89M44.53 80.55L50.00 80.55M44.06 79.89L44.06 80.55M44.06 79.89L45.61 79.89M44.06 80.55L44.53 80.55M44.84 81.31L50.00 81.31M44.99 82.11L50.00 82.11M44.02 81.31L44.02 82.11M44.02 81.31L44.84 81.31M44.02 82.11L44.99 82.11M42.55 80.22L42.55 81.71M42.55 80.22L44.06 80.22M42.55 81.71L44.02 81.71M41.80 77.98L41.80 80.97M41.80 77.98L42.83 77.98M41.80 80.97L42.55 80.97M44.34 82.77L50.00 82.77M43.61 83.50L50.00 83.50M42.91 82.77L42.91 83.50M42.91 82.77L44.34 82.77M42.91 83.50L43.61 83.50M44.87 84.49L50.00 84.49M44.33 85.21L50.00 85.21M43.22 84.49L43.22 85.21M43.22 84.49L44.87 84.49M43.22 85.21L44.33 85.21M44.94 85.85L50.00 85.85M44.59 86.51L50.00 86.51M43.61 85.85L43.61 86.51M43.61 85.85L44.94 85.85M43.61 86.51L44.59 86.51M42.04 84.85L42.04 86.18M42.04 84.85L43.22 84.85M42.04 86.18L43.61 86.18M40.59 83.14L40.59 85.51M40.59 83.14L42.91 83.14M40.59 85.51L42.04 85.51M39.68 79.47L39.68 84.33M39.68 79.47L41.80 79.47M39.68 84.33L40.59 84.33M35.91 74.07L35.91 81.90M35.91 74.07L39.39 74.07M35.91 81.90L39.68 81.90M43.94 87.15L50.00 87.15M42.48 88.04L50.00 88.04M41.82 87.15L41.82 88.04M41.82 87.15L43.94 87.15M41.82 88.04L42.48 88.04M41.01 88.95L50.00 88.95M38.74 87.60L38.74 88.95M38.74 87.60L41.82 87.60M38.74 88.95L41.01 88.95M42.73 89.65L50.00 89.65M43.21 90.45L50.00 90.45M40.85 89.65L40.85 90.45M40.85 89.65L42.73 89.65M40.85 90.45L43.21 90.45M44.53 91.25L50.00 91.25M43.64 91.95L50.00 91.95M42.46 91.25L42.46 91.95M42.46 91.25L44.53 91.25M42.46 91.95L43.64 91.95M45.78 92.58L50.00 92.58M45.21 93.16L50.00 93.16M44.17 92.58L44.17 93.16M44.17 92.58L45.78 92.58M44.17 93.16L45.21 93.16M43.67 93.77L50.00 93.77M42.09 92.87L42.09 93.77M42.09 92.87L44.17 92.87M42.09 93.77L43.67 93.77M40.96 91.60L40.96 93.32M40.96 91.60L42.46 91.60M40.96 93.32L42.09 93.32M38.65 90.05L38.65 92.46M38.65 90.05L40.85 90.05M38.65 92.46L40.96 92.46M35.94 88.27L35.94 91.26M35.94 88.27L38.74 88.27M35.94 91.26L38.65 91.26M32.74 77.99L32.74 89.76M32.74 77.99L35.91 77.99M32.74 89.76L35.94 89.76M40.60 94.54L50.00 94.54M42.50 95.44L50.00 95.44M42.59 96.38L50.00 96.38M40.18 95.44L40.18 96.38M40.18 95.44L42.50 95.44M40.18 96.38L42.59 96.38M38.19 94.54L38.19 95.91M38.19 94.54L40.60 94.54M38.19 95.91L40.18 95.91M40.81 97.37L50.00 97.37M43.37 98.10L50.00 98.10M44.61 98.78L50.00 98.78M42.54 98.10L42.54 98.78M42.54 98.10L43.37 98.10M42.54 98.78L44.61 98.78M41.49 99.52L50.00 99.52M40.23 98.44L40.23 99.52M40.23 98.44L42.54 98.44M40.23 99.52L41.49 99.52M38.71 97.37L38.71 98.98M38.71 97.37L40.81 97.37M38.71 98.98L40.23 98.98M36.31 95.23L36.31 98.18M36.31 95.23L38.19 95.23M36.31 98.18L38.71 98.18M44.33 100.12L50.00 100.12M43.65 100.89L50.00 100.89M42.62 100.12L42.62 100.89M42.62 100.12L44.33 100.12M42.62 100.89L43.65 100.89M43.93 101.71L50.00 101.71M43.87 102.33L50.00 102.33M42.88 101.71L42.88 102.33M42.88 101.71L43.93 101.71M42.88 102.33L43.87 102.33M40.77 100.51L40.77 102.02M40.77 100.51L42.62 100.51M40.77 102.02L42.88 102.02M44.75 102.86L50.00 102.86M45.34 103.46L50.00 103.46M43.67 102.86L43.67 103.46M43.67 102.86L44.75 102.86M43.67 103.46L45.34 103.46M42.80 104.21L50.00 104.21M42.11 103.16L42.11 104.21M42.11 103.16L43.67 103.16M42.11 104.21L42.80 104.21M44.53 104.99L50.00 104.99M44.72 105.61L50.00 105.61M43.44 104.99L43.44 105.61M43.44 104.99L44.53 104.99M43.44 105.61L44.72 105.61M42.58 106.17L50.00 106.17M41.91 105.30L41.91 106.17M41.91 105.30L43.44 105.30M41.91 106.17L42.58 106.17M40.46 103.68L40.46 105.74M40.46 103.68L42.11 103.68M40.46 105.74L41.91 105.74M38.43 101.26L38.43 104.71M38.43 101.26L40.77 101.26M38.43 104.71L40.46 104.71M34.01 96.70L34.01 102.99M34.01 96.70L36.31 96.70M34.01 102.99L38.43 102.99M27.93 83.87L27.93 99.84M27.93 83.87L32.74 83.87M27.93 99.84L34.01 99.84M21.00 51.71L21.00 91.86M21.00 51.71L27.62 51.71M21.00 91.86L27.93 91.86M43.61 107.07L50.00 107.07M44.25 107.91L50.00 107.91M44.81 108.50L50.00 108.50M43.53 107.91L43.53 108.50M43.53 107.91L44.25 107.91M43.53 108.50L44.81 108.50M42.12 107.07L42.12 108.20M42.12 107.07L43.61 107.07M42.12 108.20L43.53 108.20M41.37 109.30L50.00 109.30M41.67 110.04L50.00 110.04M40.47 109.30L40.47 110.04M40.47 109.30L41.37 109.30M40.47 110.04L41.67 110.04M39.31 107.64L39.31 109.67M39.31 107.64L42.12 107.64M39.31 109.67L40.47 109.67M43.47 110.59L50.00 110.59M45.24 111.29L50.00 111.29M44.45 111.89L50.00 111.89M43.90 111.29L43.90 111.89M43.90 111.29L45.24 111.29M43.90 111.89L44.45 111.89M41.58 110.59L41.58 111.59M41.58 110.59L43.47 110.59M41.58 111.59L43.90 111.59M41.29 112.59L50.00 112.59M38.94 111.09L38.94 112.59M38.94 111.09L41.58 111.09M38.94 112.59L41.29 112.59M37.18 108.66L37.18 111.84M37.18 108.66L39.31 108.66M37.18 111.84L38.94 111.84M44.66 113.46L50.00 113.46M43.55 114.29L50.00 114.29M42.75 113.46L42.75 114.29M42.75 113.46L44.66 113.46M42.75 114.29L43.55 114.29M41.67 115.17L50.00 115.17M40.68 113.87L40.68 115.17M40.68 113.87L42.75 113.87M40.68 115.17L41.67 115.17M42.95 115.94L50.00 115.94M42.53 116.64L50.00 116.64M41.58 115.94L41.58 116.64M41.58 115.94L42.95 115.94M41.58 116.64L42.53 116.64M39.36 114.52L39.36 116.29M39.36 114.52L40.68 114.52M39.36 116.29L41.58 116.29M35.86 110.25L35.86 115.41M35.86 110.25L37.18 110.25M35.86 115.41L39.36 115.41M41.20 117.34L50.00 117.34M41.51 118.07L50.00 118.07M38.60 117.34L38.60 118.07M38.60 117.34L41.20 117.34M38.60 118.07L41.51 118.07M40.46 118.72L50.00 118.72M40.20 119.61L50.00 119.61M38.56 118.72L38.56 119.61M38.56 118.72L40.46 118.72M38.56 119.61L40.20 119.61M37.41 117.71L37.41 119.17M37.41 117.71L38.60 117.71M37.41 119.17L38.56 119.17M40.73 120.50L50.00 120.50M42.04 121.21L50.00 121.21M39.80 120.50L39.80 121.21M39.80 120.50L40.73 120.50M39.80 121.21L42.04 121.21M42.79 121.82L50.00 121.82M42.56 122.43L50.00 122.43M40.91 121.82L40.91 122.43M40.91 121.82L42.79 121.82M40.91 122.43L42.56 122.43M37.59 120.86L37.59 122.13M37.59 120.86L39.80 120.86M37.59 122.13L40.91 122.13M36.18 118.44L36.18 121.49M36.18 118.44L37.41 118.44M36.18 121.49L37.59 121.49M33.95 112.83L33.95 119.96M33.95 112.83L35.86 112.83M33.95 119.96L36.18 119.96M42.75 123.08L50.00 123.08M43.38 123.75L50.00 123.75M41.43 123.08L41.43 123.75M41.43 123.08L42.75 123.08M41.43 123.75L43.38 123.75M40.62 124.60L50.00 124.60M39.50 123.42L39.50 124.60M39.50 123.42L41.43 123.42M39.50 124.60L40.62 124.60M43.11 125.24L50.00 125.24M42.10 125.84L50.00 125.84M41.24 125.24L41.24 125.84M41.24 125.24L43.11 125.24M41.24 125.84L42.10 125.84M42.87 126.60L50.00 126.60M43.61 127.39L50.00 127.39M43.37 128.06L50.00 128.06M42.24 127.39L42.24 128.06M42.24 127.39L43.61 127.39M42.24 128.06L43.37 128.06M41.11 126.60L41.11 127.73M41.11 126.60L42.87 126.60M41.11 127.73L42.24 127.73M38.73 125.54L38.73 127.17M38.73 125.54L41.24 125.54M38.73 127.17L41.11 127.17M37.03 124.01L37.03 126.35M37.03 124.01L39.50 124.01M37.03 126.35L38.73 126.35M39.62 128.57L50.00 128.57M42.55 129.17L50.00 129.17M42.37 129.75L50.00 129.75M41.49 129.17L41.49 129.75M41.49 129.17L42.55 129.17M41.49 129.75L42.37 129.75M38.34 128.57L38.34 129.46M38.34 128.57L39.62 128.57M38.34 129.46L41.49 129.46M40.11 130.53L50.00 130.53M37.24 129.01L37.24 130.53M37.24 129.01L38.34 129.01M37.24 130.53L40.11 130.53M33.97 125.18L33.97 129.77M33.97 125.18L37.03 125.18M33.97 129.77L37.24 129.77M30.95 116.40L30.95 127.48M30.95 116.40L33.95 116.40M30.95 127.48L33.97 127.48M41.10 131.43L50.00 131.43M40.58 132.28L50.00 132.28M39.45 131.43L39.45 132.28M39.45 131.43L41.10 131.43M39.45 132.28L40.58 132.28M44.16 133.14L50.00 133.14M43.64 133.97L50.00 133.97M42.21 133.14L42.21 133.97M42.21 133.14L44.16 133.14M42.21 133.97L43.64 133.97M42.52 134.88L50.00 134.88M40.14 133.55L40.14 134.88M40.14 133.55L42.21 133.55M40.14 134.88L42.52 134.88M37.63 131.85L37.63 134.22M37.63 131.85L39.45 131.85M37.63 134.22L40.14 134.22M41.26 135.72L50.00 135.72M44.54 136.38L50.00 136.38M43.46 136.97L50.00 136.97M42.89 136.38L42.89 136.97M42.89 136.38L44.54 136.38M42.89 136.97L43.46 136.97M40.42 135.72L40.42 136.68M40.42 135.72L41.26 135.72M40.42 136.68L42.89 136.68M42.79 137.83L50.00 137.83M43.60 138.65L50.00 138.65M43.04 139.23L50.00 139.23M42.26 138.65L42.26 139.23M42.26 138.65L43.60 138.65M42.26 139.23L43.04 139.23M40.28 137.83L40.28 138.94M40.28 137.83L42.79 137.83M40.28 138.94L42.26 138.94M39.36 136.20L39.36 138.39M39.36 136.20L40.42 136.20M39.36 138.39L40.28 138.39M43.26 139.84L50.00 139.84M41.94 140.49L50.00 140.49M40.94 139.84L40.94 140.49M40.94 139.84L43.26 139.84M40.94 140.49L41.94 140.49M42.55 141.31L50.00 141.31M43.32 142.05L50.00 142.05M43.70 142.74L50.00 142.74M42.35 142.05L42.35 142.74M42.35 142.05L43.32 142.05M42.35 142.74L43.70 142.74M41.38 141.31L41.38 142.40M41.38 141.31L42.55 141.31M41.38 142.40L42.35 142.40M39.80 140.16L39.80 141.85M39.80 140.16L40.94 140.16M39.80 141.85L41.38 141.85M36.79 137.29L36.79 141.01M36.79 137.29L39.36 137.29M36.79 141.01L39.80 141.01M34.44 133.03L34.44 139.15M34.44 133.03L37.63 133.03M34.44 139.15L36.79 139.15M43.72 143.43L50.00 143.43M42.30 144.00L50.00 144.00M41.41 143.43L41.41 144.00M41.41 143.43L43.72 143.43M41.41 144.00L42.30 144.00M41.38 144.57L50.00 144.57M39.02 143.71L39.02 144.57M39.02 143.71L41.41 143.71M39.02 144.57L41.38 144.57M41.55 145.05L50.00 145.05M41.26 145.68L50.00 145.68M40.33 145.05L40.33 145.68M40.33 145.05L41.55 145.05M40.33 145.68L41.26 145.68M40.41 146.54L50.00 146.54M39.10 145.36L39.10 146.54M39.10 145.36L40.33 145.36M39.10 146.54L40.41 146.54M42.80 147.35L50.00 147.35M41.59 148.16L50.00 148.16M40.07 147.35L40.07 148.16M40.07 147.35L42.80 147.35M40.07 148.16L41.59 148.16M37.36 145.95L37.36 147.76M37.36 145.95L39.10 145.95M37.36 147.76L40.07 147.76M35.06 144.14L35.06 146.86M35.06 144.14L39.02 144.14M35.06 146.86L37.36 146.86M30.23 136.09L30.23 145.50M30.23 136.09L34.44 136.09M30.23 145.50L35.06 145.50M26.00 121.94L26.00 140.80M26.00 121.94L30.95 121.94M26.00 140.80L30.23 140.80M18.50 71.78L18.50 131.37M18.50 71.78L21.00 71.78M18.50 131.37L26.00 131.37M38.17 149.03L50.00 149.03M40.93 149.93L50.00 149.93M41.93 150.93L50.00 150.93M40.04 149.93L40.04 150.93M40.04 149.93L40.93 149.93M40.04 150.93L41.93 150.93M36.97 149.03L36.97 150.43M36.97 149.03L38.17 149.03M36.97 150.43L40.04 150.43M41.63 151.73L50.00 151.73M43.16 152.52L50.00 152.52M40.75 151.73L40.75 152.52M40.75 151.73L41.63 151.73M40.75 152.52L43.16 152.52M40.37 153.38L50.00 153.38M38.67 152.12L38.67 153.38M38.67 152.12L40.75 152.12M38.67 153.38L40.37 153.38M34.37 149.73L34.37 152.75M34.37 149.73L36.97 149.73M34.37 152.75L38.67 152.75M41.56 153.98L50.00 153.98M41.86 154.75L50.00 154.75M40.29 153.98L40.29 154.75M40.29 153.98L41.56 153.98M40.29 154.75L41.86 154.75M41.84 155.76L50.00 155.76M42.77 156.72L50.00 156.72M43.30 157.40L50.00 157.40M41.82 156.72L41.82 157.40M41.82 156.72L42.77 156.72M41.82 157.40L43.30 157.40M41.03 155.76L41.03 157.06M41.03 155.76L41.84 155.76M41.03 157.06L41.82 157.06M39.33 154.36L39.33 156.41M39.33 154.36L40.29 154.36M39.33 156.41L41.03 156.41M40.32 158.00L50.00 158.00M41.26 158.90L50.00 158.90M39.23 158.00L39.23 158.90M39.23 158.00L40.32 158.00M39.23 158.90L41.26 158.90M41.23 159.70L50.00 159.70M42.23 160.41L50.00 160.41M40.43 159.70L40.43 160.41M40.43 159.70L41.23 159.70M40.43 160.41L42.23 160.41M41.05 161.19L50.00 161.19M38.05 160.05L38.05 161.19M38.05 160.05L40.43 160.05M38.05 161.19L41.05 161.19M36.76 158.45L36.76 160.62M36.76 158.45L39.23 158.45M36.76 160.62L38.05 160.62M35.44 155.39L35.44 159.54M35.44 155.39L39.33 155.39M35.44 159.54L36.76 159.54M30.11 151.24L30.11 157.46M30.11 151.24L34.37 151.24M30.11 157.46L35.44 157.46M38.22 162.06L50.00 162.06M40.39 162.84L50.00 162.84M40.81 163.54L50.00 163.54M39.29 162.84L39.29 163.54M39.29 162.84L40.39 162.84M39.29 163.54L40.81 163.54M35.81 162.06L35.81 163.19M35.81 162.06L38.22 162.06M35.81 163.19L39.29 163.19M39.66 164.29L50.00 164.29M40.87 164.90L50.00 164.90M40.77 165.56L50.00 165.56M39.79 164.90L39.79 165.56M39.79 164.90L40.87 164.90M39.79 165.56L40.77 165.56M36.49 164.29L36.49 165.23M36.49 164.29L39.66 164.29M36.49 165.23L39.79 165.23M31.68 162.62L31.68 164.76M31.68 162.62L35.81 162.62M31.68 164.76L36.49 164.76M34.90 166.41L50.00 166.41M34.26 167.31L50.00 167.31M32.66 166.41L32.66 167.31M32.66 166.41L34.90 166.41M32.66 167.31L34.26 167.31M37.67 168.05L50.00 168.05M36.87 168.84L50.00 168.84M35.42 168.05L35.42 168.84M35.42 168.05L37.67 168.05M35.42 168.84L36.87 168.84M35.90 169.86L50.00 169.86M33.98 168.44L33.98 169.86M33.98 168.44L35.42 168.44M33.98 169.86L35.90 169.86M30.80 166.86L30.80 169.15M30.80 166.86L32.66 166.86M30.80 169.15L33.98 169.15M27.27 163.69L27.27 168.01M27.27 163.69L31.68 163.69M27.27 168.01L30.80 168.01M24.38 154.35L24.38 165.85M24.38 154.35L30.11 154.35M24.38 165.85L27.27 165.85M42.90 170.94L50.00 170.94M42.48 171.75L50.00 171.75M41.58 170.94L41.58 171.75M41.58 170.94L42.90 170.94M41.58 171.75L42.48 171.75M40.65 172.61L50.00 172.61M39.21 171.34L39.21 172.61M39.21 171.34L41.58 171.34M39.21 172.61L40.65 172.61M41.16 173.43L50.00 173.43M41.35 174.25L50.00 174.25M40.02 173.43L40.02 174.25M40.02 173.43L41.16 173.43M40.02 174.25L41.35 174.25M36.32 171.98L36.32 173.84M36.32 171.98L39.21 171.98M36.32 173.84L40.02 173.84M40.14 175.29L50.00 175.29M38.85 176.11L50.00 176.11M37.80 175.29L37.80 176.11M37.80 175.29L40.14 175.29M37.80 176.11L38.85 176.11M38.54 176.63L50.00 176.63M39.12 177.25L50.00 177.25M37.18 176.63L37.18 177.25M37.18 176.63L38.54 176.63M37.18 177.25L39.12 177.25M35.87 175.70L35.87 176.94M35.87 175.70L37.80 175.70M35.87 176.94L37.18 176.94M33.00 172.91L33.00 176.32M33.00 172.91L36.32 172.91M33.00 176.32L35.87 176.32M39.88 178.03L50.00 178.03M41.14 178.86L50.00 178.86M38.97 178.03L38.97 178.86M38.97 178.03L39.88 178.03M38.97 178.86L41.14 178.86M42.31 179.75L50.00 179.75M43.25 180.57L50.00 180.57M41.32 179.75L41.32 180.57M41.32 179.75L42.31 179.75M41.32 180.57L43.25 180.57M39.91 181.44L50.00 181.44M38.80 180.16L38.80 181.44M38.80 180.16L41.32 180.16M38.80 181.44L39.91 181.44M36.78 178.44L36.78 180.80M36.78 178.44L38.97 178.44M36.78 180.80L38.80 180.80M39.42 182.49L50.00 182.49M40.59 183.26L50.00 183.26M41.90 183.88L50.00 183.88M39.01 183.26L39.01 183.88M39.01 183.26L40.59 183.26M39.01 183.88L41.90 183.88M35.56 182.49L35.56 183.57M35.56 182.49L39.42 182.49M35.56 183.57L39.01 183.57M31.89 179.62L31.89 183.03M31.89 179.62L36.78 179.62M31.89 183.03L35.56 183.03M27.06 174.61L27.06 181.32M27.06 174.61L33.00 174.61M27.06 181.32L31.89 181.32M44.28 184.62L50.00 184.62M43.53 185.30L50.00 185.30M42.31 184.62L42.31 185.30M42.31 184.62L44.28 184.62M42.31 185.30L43.53 185.30M43.23 185.96L50.00 185.96M41.58 184.96L41.58 185.96M41.58 184.96L42.31 184.96M41.58 185.96L43.23 185.96M42.08 186.50L50.00 186.50M41.94 187.09L50.00 187.09M40.84 186.50L40.84 187.09M40.84 186.50L42.08 186.50M40.84 187.09L41.94 187.09M39.93 185.46L39.93 186.79M39.93 185.46L41.58 185.46M39.93 186.79L40.84 186.79M40.40 187.84L50.00 187.84M41.30 188.56L50.00 188.56M38.69 187.84L38.69 188.56M38.69 187.84L40.40 187.84M38.69 188.56L41.30 188.56M37.43 186.13L37.43 188.20M37.43 186.13L39.93 186.13M37.43 188.20L38.69 188.20M41.08 189.31L50.00 189.31M41.10 189.90L50.00 189.90M38.14 189.31L38.14 189.90M38.14 189.31L41.08 189.31M38.14 189.90L41.10 189.90M39.80 190.58L50.00 190.58M39.17 191.48L50.00 191.48M37.85 190.58L37.85 191.48M37.85 190.58L39.80 190.58M37.85 191.48L39.17 191.48M36.04 189.61L36.04 191.03M36.04 189.61L38.14 189.61M36.04 191.03L37.85 191.03M32.84 187.16L32.84 190.32M32.84 187.16L37.43 187.16M32.84 190.32L36.04 190.32M41.26 192.16L50.00 192.16M41.66 192.78L50.00 192.78M38.84 192.16L38.84 192.78M38.84 192.16L41.26 192.16M38.84 192.78L41.66 192.78M40.36 193.46L50.00 193.46M37.32 192.47L37.32 193.46M37.32 192.47L38.84 192.47M37.32 193.46L40.36 193.46M43.21 194.05L50.00 194.05M44.38 194.55L50.00 194.55M44.29 195.17L50.00 195.17M43.33 194.55L43.33 195.17M43.33 194.55L44.38 194.55M43.33 195.17L44.29 195.17M41.69 194.05L41.69 194.86M41.69 194.05L43.21 194.05M41.69 194.86L43.33 194.86M42.08 195.79L50.00 195.79M42.21 196.52L50.00 196.52M40.76 195.79L40.76 196.52M40.76 195.79L42.08 195.79M40.76 196.52L42.21 196.52M39.07 194.46L39.07 196.15M39.07 194.46L41.69 194.46M39.07 196.15L40.76 196.15M35.92 192.97L35.92 195.30M35.92 192.97L37.32 192.97M35.92 195.30L39.07 195.30M40.78 197.53L50.00 197.53M41.04 198.26L50.00 198.26M37.82 197.53L37.82 198.26M37.82 197.53L40.78 197.53M37.82 198.26L41.04 198.26M39.68 198.92L50.00 198.92M39.33 199.68L50.00 199.68M36.87 198.92L36.87 199.68M36.87 198.92L39.68 198.92M36.87 199.68L39.33 199.68M34.37 197.89L34.37 199.30M34.37 197.89L37.82 197.89M34.37 199.30L36.87 199.30M32.87 194.13L32.87 198.60M32.87 194.13L35.92 194.13M32.87 198.60L34.37 198.60M29.40 188.74L29.40 196.37M29.40 188.74L32.84 188.74M29.40 196.37L32.87 196.37M23.24 177.97L23.24 192.55M23.24 177.97L27.06 177.97M23.24 192.55L29.40 192.55M19.00 160.10L19.00 185.26M19.00 160.10L24.38 160.10M19.00 185.26L23.24 185.26M13.00 101.57L13.00 172.68M13.00 101.57L18.50 101.57M13.00 172.68L19.00 172.68" fill="none" stroke="#1a1a1a" stroke-width="0.5" />
<rect x="45.20" y="28.00" width="4.80" height="172.00" fill="#151515" />
<line x1="50.50" y1="204.40" x2="98.00" y2="204.40" stroke="#555" stroke-width="1" />
<line x1="100.00" y1="204.40" x2="147.50" y2="204.40" stroke="#555" stroke-width="1" />
<line x1="149.00" y1="204.40" x2="196.00" y2="204.40" stroke="#555" stroke-width="1" />
<text x="74.50" y="215.00" font-size="9.2" text-anchor="middle" fill="#222" font-weight="normal" >si-nc</text>
<text x="123.50" y="215.00" font-size="9.2" text-anchor="middle" fill="#222" font-weight="normal" >si-circ#02</text>
<text x="172.50" y="215.00" font-size="9.2" text-anchor="middle" fill="#222" font-weight="normal" >si-circ#03</text>
<defs><linearGradient id="hmcb" x1="0" y1="0" x2="0" y2="1"><stop offset="0" stop-color="#e8302f"/><stop offset="0.28" stop-color="#f08c8e"/><stop offset="0.5" stop-color="#fbf7f8"/><stop offset="0.62" stop-color="#cfe0ef"/><stop offset="1" stop-color="#2b71b9"/></linearGradient></defs>
<rect x="203.00" y="45.00" width="7.70" height="77.70" fill="url(#hmcb)" />
<line x1="210.90" y1="45.00" x2="210.90" y2="122.70" stroke="#444" stroke-width="0.6" />
<line x1="210.90" y1="45.20" x2="212.30" y2="45.20" stroke="#444" stroke-width="0.6" />
<text x="213.20" y="47.20" font-size="5.6" text-anchor="start" fill="#333" font-weight="normal" >11</text>
<line x1="210.90" y1="60.70" x2="212.30" y2="60.70" stroke="#444" stroke-width="0.6" />
<text x="213.20" y="62.70" font-size="5.6" text-anchor="start" fill="#333" font-weight="normal" >9</text>
<line x1="210.90" y1="75.90" x2="212.30" y2="75.90" stroke="#444" stroke-width="0.6" />
<text x="213.20" y="77.90" font-size="5.6" text-anchor="start" fill="#333" font-weight="normal" >7</text>
<line x1="210.90" y1="92.30" x2="212.30" y2="92.30" stroke="#444" stroke-width="0.6" />
<text x="213.20" y="94.30" font-size="5.6" text-anchor="start" fill="#333" font-weight="normal" >4</text>
<line x1="210.90" y1="107.80" x2="212.30" y2="107.80" stroke="#444" stroke-width="0.6" />
<text x="213.20" y="109.80" font-size="5.6" text-anchor="start" fill="#333" font-weight="normal" >2</text>
<line x1="210.90" y1="122.70" x2="212.30" y2="122.70" stroke="#444" stroke-width="0.6" />
<text x="213.20" y="124.70" font-size="5.6" text-anchor="start" fill="#333" font-weight="normal" >0</text>
<text x="231.50" y="17.50" font-size="16.5" text-anchor="start" fill="#111" font-weight="normal" >B</text>
<line x1="339.00" y1="27.50" x2="339.00" y2="181.50" stroke="#333" stroke-width="1" />
<line x1="338.50" y1="181.50" x2="395.70" y2="181.50" stroke="#333" stroke-width="1" />
<line x1="336.50" y1="32.30" x2="339.00" y2="32.30" stroke="#333" stroke-width="0.8" />
<text x="335.20" y="34.30" font-size="5.45" text-anchor="end" fill="#333" font-weight="normal" >Ribosome</text>
<line x1="336.50" y1="39.97" x2="339.00" y2="39.97" stroke="#333" stroke-width="0.8" />
<text x="335.20" y="41.97" font-size="5.45" text-anchor="end" fill="#333" font-weight="bold" >Apoptosis</text>
<line x1="336.50" y1="47.64" x2="339.00" y2="47.64" stroke="#333" stroke-width="0.8" />
<text x="335.20" y="49.64" font-size="5.45" text-anchor="end" fill="#666" font-weight="normal" >Protein processing in endoplasmic...</text>
<line x1="336.50" y1="55.31" x2="339.00" y2="55.31" stroke="#333" stroke-width="0.8" />
<text x="335.20" y="57.31" font-size="5.45" text-anchor="end" fill="#666" font-weight="normal" >Ribosome biogenesis in eukaryotes</text>
<line x1="336.50" y1="62.97" x2="339.00" y2="62.97" stroke="#333" stroke-width="0.8" />
<text x="335.20" y="64.97" font-size="5.45" text-anchor="end" fill="#666" font-weight="normal" >p53 signaling pathway</text>
<line x1="336.50" y1="70.64" x2="339.00" y2="70.64" stroke="#333" stroke-width="0.8" />
<text x="335.20" y="72.64" font-size="5.45" text-anchor="end" fill="#666" font-weight="normal" >Coronavirus disease - COVID-19</text>
<line x1="336.50" y1="78.31" x2="339.00" y2="78.31" stroke="#333" stroke-width="0.8" />
<text x="335.20" y="80.31" font-size="5.45" text-anchor="end" fill="#666" font-weight="normal" >Phosphatidylinositol signaling system</text>
<line x1="336.50" y1="85.98" x2="339.00" y2="85.98" stroke="#333" stroke-width="0.8" />
<text x="335.20" y="87.98" font-size="5.45" text-anchor="end" fill="#666" font-weight="normal" >Nucleocytoplasmic transport</text>
<line x1="336.50" y1="93.65" x2="339.00" y2="93.65" stroke="#333" stroke-width="0.8" />
<text x="335.20" y="95.65" font-size="5.45" text-anchor="end" fill="#666" font-weight="normal" >Longevity regulating pathway</text>
<line x1="336.50" y1="101.32" x2="339.00" y2="101.32" stroke="#333" stroke-width="0.8" />
<text x="335.20" y="103.32" font-size="5.45" text-anchor="end" fill="#666" font-weight="normal" >Endocrine resistance</text>
<line x1="336.50" y1="108.98" x2="339.00" y2="108.98" stroke="#333" stroke-width="0.8" />
<text x="335.20" y="110.98" font-size="5.45" text-anchor="end" fill="#666" font-weight="normal" >Insulin resistance</text>
<line x1="336.50" y1="116.65" x2="339.00" y2="116.65" stroke="#333" stroke-width="0.8" />
<text x="335.20" y="118.65" font-size="5.45" text-anchor="end" fill="#666" font-weight="normal" >Fluid shear stress and atherosclerosis</text>
<line x1="336.50" y1="124.32" x2="339.00" y2="124.32" stroke="#333" stroke-width="0.8" />
<text x="335.20" y="126.32" font-size="5.45" text-anchor="end" fill="#333" font-weight="normal" >Chronic myeloid leukemia</text>
<line x1="336.50" y1="131.99" x2="339.00" y2="131.99" stroke="#333" stroke-width="0.8" />
<text x="335.20" y="133.99" font-size="5.45" text-anchor="end" fill="#333" font-weight="normal" >FoxO signaling pathway</text>
<line x1="336.50" y1="139.66" x2="339.00" y2="139.66" stroke="#333" stroke-width="0.8" />
<text x="335.20" y="141.66" font-size="5.45" text-anchor="end" fill="#666" font-weight="normal" >Shigellosis</text>
<line x1="336.50" y1="147.33" x2="339.00" y2="147.33" stroke="#333" stroke-width="0.8" />
<text x="335.20" y="149.33" font-size="5.45" text-anchor="end" fill="#666" font-weight="normal" >Axon regeneration</text>
<line x1="336.50" y1="154.99" x2="339.00" y2="154.99" stroke="#333" stroke-width="0.8" />
<text x="335.20" y="156.99" font-size="5.45" text-anchor="end" fill="#666" font-weight="normal" >mTOR signaling pathway</text>
<line x1="336.50" y1="162.66" x2="339.00" y2="162.66" stroke="#333" stroke-width="0.8" />
<text x="335.20" y="164.66" font-size="5.45" text-anchor="end" fill="#666" font-weight="normal" >Chemical carcinogenesis - receptor...</text>
<line x1="336.50" y1="170.33" x2="339.00" y2="170.33" stroke="#333" stroke-width="0.8" />
<text x="335.20" y="172.33" font-size="5.45" text-anchor="end" fill="#666" font-weight="normal" >Central carbon metabolism in cancer</text>
<line x1="336.50" y1="178.00" x2="339.00" y2="178.00" stroke="#333" stroke-width="0.8" />
<text x="335.20" y="180.00" font-size="5.45" text-anchor="end" fill="#666" font-weight="normal" >AMPK signaling pathway</text>
<rect x="306.00" y="36.30" width="30.20" height="7.70" fill="none" stroke="#e0242b" stroke-width="0.9" />
<rect x="279.80" y="58.90" width="56.40" height="8.40" fill="none" stroke="#e0242b" stroke-width="0.9" />
<rect x="282.30" y="98.00" width="53.90" height="7.80" fill="none" stroke="#e0242b" stroke-width="0.9" />
<circle cx="395.20" cy="32.30" r="4.50" fill="#e8262a" />
<circle cx="386.10" cy="39.97" r="3.90" fill="#e2262f" />
<circle cx="382.20" cy="47.64" r="4.40" fill="#de2732" />
<circle cx="392.20" cy="55.31" r="3.00" fill="#e02731" />
<circle cx="392.50" cy="62.97" r="3.00" fill="#de2732" />
<circle cx="376.80" cy="70.64" r="5.00" fill="#d92838" />
<circle cx="384.30" cy="78.31" r="3.30" fill="#ba2d56" />
<circle cx="380.80" cy="85.98" r="3.30" fill="#9e3170" />
<circle cx="382.90" cy="93.65" r="3.00" fill="#953279" />
<circle cx="380.80" cy="101.32" r="3.20" fill="#7a3c8d" />
<circle cx="379.60" cy="108.98" r="3.20" fill="#733f91" />
<circle cx="377.30" cy="116.65" r="3.60" fill="#6e4194" />
<circle cx="382.60" cy="124.32" r="3.00" fill="#5e489e" />
<circle cx="377.00" cy="131.99" r="3.50" fill="#60489d" />
<circle cx="372.60" cy="139.66" r="5.00" fill="#534da5" />
<circle cx="380.00" cy="147.33" r="3.00" fill="#4e50a8" />
<circle cx="375.00" cy="154.99" r="3.70" fill="#4554ae" />
<circle cx="373.40" cy="162.66" r="4.20" fill="#4255b0" />
<circle cx="382.00" cy="170.33" r="2.80" fill="#3c58b3" />
<circle cx="376.40" cy="178.00" r="3.30" fill="#3959b5" />
<line x1="339.10" y1="181.50" x2="339.10" y2="183.50" stroke="#333" stroke-width="0.8" />
<text x="339.10" y="189.00" font-size="4.8" text-anchor="middle" fill="#777" font-weight="normal" >0</text>
<line x1="354.00" y1="181.50" x2="354.00" y2="183.50" stroke="#333" stroke-width="0.8" />
<text x="354.00" y="189.00" font-size="4.8" text-anchor="middle" fill="#777" font-weight="normal" >0.1</text>
<line x1="368.50" y1="181.50" x2="368.50" y2="183.50" stroke="#333" stroke-width="0.8" />
<text x="368.50" y="189.00" font-size="4.8" text-anchor="middle" fill="#777" font-weight="normal" >0.2</text>
<line x1="383.00" y1="181.50" x2="383.00" y2="183.50" stroke="#333" stroke-width="0.8" />
<text x="383.00" y="189.00" font-size="4.8" text-anchor="middle" fill="#777" font-weight="normal" >0.3</text>
<line x1="395.70" y1="181.50" x2="395.70" y2="183.50" stroke="#333" stroke-width="0.8" />
<text x="367.70" y="199.50" font-size="7.6" text-anchor="middle" fill="#222" font-weight="normal" >Rich Ratio</text>
<defs><linearGradient id="qcb" x1="0" y1="0" x2="0" y2="1"><stop offset="0" stop-color="#e8262a"/><stop offset="0.5" stop-color="#8c3a80"/><stop offset="1" stop-color="#2f5fc0"/></linearGradient></defs>
<rect x="408.30" y="28.20" width="8.70" height="80.90" fill="url(#qcb)" />
<line x1="417.30" y1="28.20" x2="417.30" y2="109.10" stroke="#111" stroke-width="1" />
<line x1="417.30" y1="28.20" x2="419.30" y2="28.20" stroke="#111" stroke-width="0.8" />
<text x="420.00" y="30.40" font-size="6" text-anchor="start" fill="#222" font-weight="normal" >0</text>
<line x1="417.30" y1="49.80" x2="419.30" y2="49.80" stroke="#111" stroke-width="0.8" />
<text x="420.00" y="52.00" font-size="6" text-anchor="start" fill="#222" font-weight="normal" >0.02</text>
<line x1="417.30" y1="71.70" x2="419.30" y2="71.70" stroke="#111" stroke-width="0.8" />
<text x="420.00" y="73.90" font-size="6" text-anchor="start" fill="#222" font-weight="normal" >0.04</text>
<line x1="417.30" y1="93.60" x2="419.30" y2="93.60" stroke="#111" stroke-width="0.8" />
<text x="420.00" y="95.80" font-size="6" text-anchor="start" fill="#222" font-weight="normal" >0.06</text>
<text x="419.50" y="22.00" font-size="7.5" text-anchor="middle" fill="#222" font-weight="normal" >Qvalue</text>
<text x="403.00" y="123.50" font-size="7.5" text-anchor="start" fill="#222" font-weight="normal" >Gene Number</text>
<circle cx="408.50" cy="134.20" r="2.00" fill="#000" />
<text x="415.00" y="134.50" font-size="6" text-anchor="start" fill="#222" font-weight="normal" >20</text>
<circle cx="408.50" cy="144.30" r="2.60" fill="#000" />
<text x="415.00" y="144.60" font-size="6" text-anchor="start" fill="#222" font-weight="normal" >30</text>
<circle cx="408.50" cy="155.70" r="3.20" fill="#000" />
<text x="415.00" y="155.50" font-size="6" text-anchor="start" fill="#222" font-weight="normal" >39</text>
<circle cx="408.50" cy="168.00" r="3.70" fill="#000" />
<text x="415.00" y="167.50" font-size="6" text-anchor="start" fill="#222" font-weight="normal" >49</text>
<circle cx="408.50" cy="181.50" r="4.30" fill="#000" />
<text x="415.00" y="181.00" font-size="6" text-anchor="start" fill="#222" font-weight="normal" >58</text>
<text x="453.50" y="17.80" font-size="16.5" text-anchor="start" fill="#111" font-weight="normal" >C</text>
<ellipse cx="556.46" cy="105.21" rx="80.74" ry="40.85" transform="rotate(386.12 556.46 105.21)" fill="#4a6c3c" fill-opacity="0.58"/>
<ellipse cx="565.03" cy="87.97" rx="80.74" ry="40.85" transform="rotate(98.12 565.03 87.97)" fill="#4b81c3" fill-opacity="0.5"/>
<ellipse cx="584.08" cy="90.79" rx="80.74" ry="40.85" transform="rotate(170.12 584.08 90.79)" fill="#e35555" fill-opacity="0.5"/>
<ellipse cx="587.28" cy="109.78" rx="80.74" ry="40.85" transform="rotate(242.12 587.28 109.78)" fill="#bcbc45" fill-opacity="0.5"/>
<ellipse cx="570.21" cy="118.69" rx="80.74" ry="40.85" transform="rotate(314.12 570.21 118.69)" fill="#f3782d" fill-opacity="0.5"/>
<text x="588.40" y="8.60" font-size="6.2" text-anchor="start" fill="#4a86c8" font-weight="normal" >Si-circPPFIA2#02+#03</text>
<text x="466.80" y="49.80" font-size="6.2" text-anchor="start" fill="#3e6e3e" font-weight="normal" >hsa-miR-1200-</text>
<text x="466.80" y="57.60" font-size="6.2" text-anchor="start" fill="#3e6e3e" font-weight="normal" >RDB</text>
<text x="648.90" y="48.30" font-size="6.2" text-anchor="start" fill="#e05a5a" font-weight="normal" >hsa-miR-646-</text>
<text x="648.90" y="55.00" font-size="6.2" text-anchor="start" fill="#e05a5a" font-weight="normal" >RDB</text>
<text x="478.80" y="195.10" font-size="6.2" text-anchor="start" fill="#f07a3a" font-weight="normal" >hsa-miR-1200-</text>
<text x="478.80" y="202.60" font-size="6.2" text-anchor="start" fill="#f07a3a" font-weight="normal" >TARGETSCAN</text>
<text x="616.90" y="195.10" font-size="6.2" text-anchor="start" fill="#bcbc4a" font-weight="normal" >hsa-miR-646-</text>
<text x="616.90" y="202.60" font-size="6.2" text-anchor="start" fill="#bcbc4a" font-weight="normal" >TARGETSCAN</text>
<text x="571.40" y="24.60" font-size="5.4" text-anchor="middle" fill="#111" font-weight="bold" >242</text>
<text x="559.50" y="47.00" font-size="5.4" text-anchor="middle" fill="#111" font-weight="bold" >57</text>
<text x="610.50" y="52.50" font-size="5.4" text-anchor="middle" fill="#111" font-weight="bold" >1</text>
<text x="604.00" y="59.00" font-size="5.4" text-anchor="middle" fill="#111" font-weight="bold" >0</text>
<text x="532.80" y="63.20" font-size="5.4" text-anchor="middle" fill="#111" font-weight="bold" >93</text>
<text x="540.50" y="60.80" font-size="5.4" text-anchor="middle" fill="#111" font-weight="bold" >52</text>
<text x="570.50" y="60.00" font-size="5.4" text-anchor="middle" fill="#111" font-weight="bold" >19</text>
<text x="593.00" y="69.50" font-size="5.4" text-anchor="middle" fill="#111" font-weight="bold" >0</text>
<text x="547.00" y="73.50" font-size="5.4" text-anchor="middle" fill="#111" font-weight="bold" >15</text>
<text x="621.60" y="73.60" font-size="5.4" text-anchor="middle" fill="#111" font-weight="bold" >14</text>
<text x="496.70" y="77.30" font-size="5.4" text-anchor="middle" fill="#111" font-weight="bold" >2858</text>
<text x="645.50" y="83.00" font-size="5.4" text-anchor="middle" fill="#111" font-weight="bold" >52</text>
<text x="531.50" y="90.50" font-size="5.4" text-anchor="middle" fill="#111" font-weight="bold" >1</text>
<text x="616.00" y="91.00" font-size="5.4" text-anchor="middle" fill="#111" font-weight="bold" >0</text>
<text x="515.00" y="100.00" font-size="5.4" text-anchor="middle" fill="#111" font-weight="bold" >6</text>
<text x="572.60" y="110.70" font-size="8.5" text-anchor="middle" fill="#111" font-weight="bold" >3</text>
<text x="536.00" y="119.00" font-size="5.4" text-anchor="middle" fill="#111" font-weight="bold" >0</text>
<text x="522.50" y="123.80" font-size="5.4" text-anchor="middle" fill="#111" font-weight="bold" >0</text>
<text x="609.00" y="117.50" font-size="5.4" text-anchor="middle" fill="#111" font-weight="bold" >89</text>
<text x="629.50" y="113.50" font-size="5.4" text-anchor="middle" fill="#111" font-weight="bold" >1</text>
<text x="626.00" y="120.50" font-size="5.4" text-anchor="middle" fill="#111" font-weight="bold" >1</text>
<text x="521.50" y="131.00" font-size="5.4" text-anchor="middle" fill="#111" font-weight="bold" >1</text>
<text x="543.00" y="141.50" font-size="5.4" text-anchor="middle" fill="#111" font-weight="bold" >11</text>
<text x="575.50" y="148.00" font-size="5.4" text-anchor="middle" fill="#111" font-weight="bold" >8</text>
<text x="597.50" y="143.50" font-size="5.4" text-anchor="middle" fill="#111" font-weight="bold" >234</text>
<text x="615.50" y="141.50" font-size="5.4" text-anchor="middle" fill="#111" font-weight="bold" >1523</text>
<text x="552.00" y="160.00" font-size="5.4" text-anchor="middle" fill="#111" font-weight="bold" >1</text>
<text x="574.50" y="160.50" font-size="5.4" text-anchor="middle" fill="#111" font-weight="bold" >0</text>
<text x="580.00" y="164.00" font-size="5.4" text-anchor="middle" fill="#111" font-weight="bold" >3</text>
<text x="524.00" y="175.00" font-size="5.4" text-anchor="middle" fill="#111" font-weight="bold" >56</text>
<text x="615.50" y="174.50" font-size="5.4" text-anchor="middle" fill="#111" font-weight="bold" >1935</text>
<line x1="572.30" y1="124.00" x2="572.30" y2="179.60" stroke="#7a6a50" stroke-width="1.1" />
<rect x="556.3" y="179.6" width="34.5" height="22.7" rx="3.5" fill="#fff" stroke="#222" stroke-width="0.9"/>
<text x="573.60" y="186.40" font-size="6.4" text-anchor="middle" fill="#111" font-weight="normal" >CDYL2</text>
<text x="573.60" y="193.60" font-size="6.4" text-anchor="middle" fill="#111" font-weight="normal" >CACUL1</text>
<text x="573.60" y="200.50" font-size="6.4" text-anchor="middle" fill="#111" font-weight="normal" >ETS1</text>
<text x="6.70" y="236.20" font-size="16" text-anchor="start" fill="#111" font-weight="normal" >D</text>
<text x="108.00" y="238.00" font-size="7.9" text-anchor="middle" fill="#222" font-weight="normal" >C4-2</text>
<rect x="44.10" y="254.20" width="10.20" height="3.60" fill="#7b7b7d" />
<text x="55.90" y="258.90" font-size="8" text-anchor="start" fill="#222" font-weight="normal" >si-nc</text>
<rect x="77.80" y="254.20" width="9.60" height="3.60" fill="#7ca3d1" />
<text x="88.60" y="258.90" font-size="8" text-anchor="start" fill="#222" font-weight="normal" >si-circ#02</text>
<rect x="127.90" y="254.20" width="9.80" height="3.60" fill="#a3d9ad" />
<text x="139.70" y="258.90" font-size="8" text-anchor="start" fill="#222" font-weight="normal" >si-circ#03</text>
<line x1="46.55" y1="288.20" x2="46.55" y2="277.90" stroke="#444" stroke-width="0.9" />
<line x1="44.64" y1="277.90" x2="48.46" y2="277.90" stroke="#444" stroke-width="0.9" />
<rect x="42.30" y="288.20" width="8.50" height="60.60" fill="#7b7b7d" />
<line x1="59.50" y1="306.38" x2="59.50" y2="303.96" stroke="#3d6fb6" stroke-width="0.9" />
<line x1="57.56" y1="303.96" x2="61.44" y2="303.96" stroke="#3d6fb6" stroke-width="0.9" />
<rect x="55.20" y="306.38" width="8.60" height="42.42" fill="#7ca3d1" />
<line x1="72.55" y1="325.77" x2="72.55" y2="323.95" stroke="#3f9a55" stroke-width="0.9" />
<line x1="70.59" y1="323.95" x2="74.51" y2="323.95" stroke="#3f9a55" stroke-width="0.9" />
<rect x="68.20" y="325.77" width="8.70" height="23.03" fill="#a3d9ad" />
<line x1="93.85" y1="288.20" x2="93.85" y2="281.53" stroke="#444" stroke-width="0.9" />
<line x1="91.98" y1="281.53" x2="95.72" y2="281.53" stroke="#444" stroke-width="0.9" />
<rect x="89.70" y="288.20" width="8.30" height="60.60" fill="#7b7b7d" />
<line x1="106.60" y1="320.32" x2="106.60" y2="317.29" stroke="#3d6fb6" stroke-width="0.9" />
<line x1="104.71" y1="317.29" x2="108.49" y2="317.29" stroke="#3d6fb6" stroke-width="0.9" />
<rect x="102.40" y="320.32" width="8.40" height="28.48" fill="#7ca3d1" />
<line x1="119.40" y1="327.59" x2="119.40" y2="326.98" stroke="#3f9a55" stroke-width="0.9" />
<line x1="117.51" y1="326.98" x2="121.29" y2="326.98" stroke="#3f9a55" stroke-width="0.9" />
<rect x="115.20" y="327.59" width="8.40" height="21.21" fill="#a3d9ad" />
<line x1="140.85" y1="288.20" x2="140.85" y2="286.38" stroke="#444" stroke-width="0.9" />
<line x1="138.98" y1="286.38" x2="142.72" y2="286.38" stroke="#444" stroke-width="0.9" />
<rect x="136.70" y="288.20" width="8.30" height="60.60" fill="#7b7b7d" />
<line x1="153.60" y1="310.02" x2="153.60" y2="307.59" stroke="#3d6fb6" stroke-width="0.9" />
<line x1="151.71" y1="307.59" x2="155.49" y2="307.59" stroke="#3d6fb6" stroke-width="0.9" />
<rect x="149.40" y="310.02" width="8.40" height="38.78" fill="#7ca3d1" />
<line x1="166.40" y1="320.92" x2="166.40" y2="319.71" stroke="#3f9a55" stroke-width="0.9" />
<line x1="164.51" y1="319.71" x2="168.29" y2="319.71" stroke="#3f9a55" stroke-width="0.9" />
<rect x="162.20" y="320.92" width="8.40" height="27.88" fill="#a3d9ad" />
<line x1="38.20" y1="257.40" x2="38.20" y2="349.55" stroke="#000" stroke-width="1.5" />
<line x1="35.70" y1="257.90" x2="38.20" y2="257.90" stroke="#000" stroke-width="1" />
<text x="34.50" y="260.42" font-size="7" text-anchor="end" fill="#111" font-weight="bold" >1.5</text>
<line x1="35.70" y1="288.20" x2="38.20" y2="288.20" stroke="#000" stroke-width="1" />
<text x="34.50" y="290.72" font-size="7" text-anchor="end" fill="#111" font-weight="bold" >1.0</text>
<line x1="35.70" y1="318.50" x2="38.20" y2="318.50" stroke="#000" stroke-width="1" />
<text x="34.50" y="321.02" font-size="7" text-anchor="end" fill="#111" font-weight="bold" >0.5</text>
<line x1="35.70" y1="348.80" x2="38.20" y2="348.80" stroke="#000" stroke-width="1" />
<text x="34.50" y="351.32" font-size="7" text-anchor="end" fill="#111" font-weight="bold" >0.0</text>
<line x1="37.45" y1="348.80" x2="176.30" y2="348.80" stroke="#000" stroke-width="1.5" />
<line x1="59.60" y1="348.80" x2="59.60" y2="351.80" stroke="#000" stroke-width="1" />
<line x1="106.50" y1="348.80" x2="106.50" y2="351.80" stroke="#000" stroke-width="1" />
<line x1="153.60" y1="348.80" x2="153.60" y2="351.80" stroke="#000" stroke-width="1" />
<text x="59.80" y="297.50" font-size="6.7" text-anchor="middle" fill="#222" font-weight="normal" >***</text>
<text x="72.20" y="318.80" font-size="6.7" text-anchor="middle" fill="#222" font-weight="normal" >****</text>
<text x="106.80" y="312.00" font-size="6.7" text-anchor="middle" fill="#222" font-weight="normal" >****</text>
<text x="119.20" y="320.00" font-size="6.7" text-anchor="middle" fill="#222" font-weight="normal" >****</text>
<text x="153.80" y="301.00" font-size="6.7" text-anchor="middle" fill="#222" font-weight="normal" >***</text>
<text x="166.90" y="312.00" font-size="6.7" text-anchor="middle" fill="#222" font-weight="normal" >****</text>
<text x="61.20" y="361.60" font-size="7.6" text-anchor="middle" fill="#222" font-weight="normal" >ETS1</text>
<text x="108.00" y="361.60" font-size="7.6" text-anchor="middle" fill="#222" font-weight="normal" >CDYL2</text>
<text x="155.80" y="361.60" font-size="7.6" text-anchor="middle" fill="#222" font-weight="normal" >CACUL1</text>
<text x="18.30" y="301.00" font-size="7.6" text-anchor="middle" fill="#222" font-weight="normal" transform="rotate(-90 18.30 301.00)" >Relative expression level</text>
<text x="190.50" y="235.70" font-size="15.5" text-anchor="start" fill="#111" font-weight="normal" >E</text>
<text x="261.50" y="235.00" font-size="7.9" text-anchor="middle" fill="#222" font-weight="normal" >C4-2</text>
<rect x="216.50" y="242.00" width="10.30" height="4.00" fill="#7b7b7d" />
<text x="232.70" y="246.80" font-size="8" text-anchor="start" fill="#222" font-weight="normal" >vector</text>
<rect x="261.90" y="242.00" width="10.20" height="4.00" fill="#fccccc" />
<text x="277.60" y="246.80" font-size="8" text-anchor="start" fill="#222" font-weight="normal" >lv-circ</text>
<line x1="221.15" y1="318.00" x2="221.15" y2="314.80" stroke="#2a3a6a" stroke-width="0.9" />
<line x1="219.33" y1="314.80" x2="222.97" y2="314.80" stroke="#2a3a6a" stroke-width="0.9" />
<rect x="217.10" y="318.00" width="8.10" height="32.00" fill="#7b7b7d" />
<line x1="233.55" y1="269.36" x2="233.55" y2="261.68" stroke="#e8474c" stroke-width="0.9" />
<line x1="231.64" y1="261.68" x2="235.46" y2="261.68" stroke="#e8474c" stroke-width="0.9" />
<rect x="229.30" y="269.36" width="8.50" height="80.64" fill="#fccccc" />
<line x1="254.15" y1="318.00" x2="254.15" y2="316.72" stroke="#2a3a6a" stroke-width="0.9" />
<line x1="252.28" y1="316.72" x2="256.02" y2="316.72" stroke="#2a3a6a" stroke-width="0.9" />
<rect x="250.00" y="318.00" width="8.30" height="32.00" fill="#7b7b7d" />
<line x1="266.80" y1="262.96" x2="266.80" y2="260.40" stroke="#e8474c" stroke-width="0.9" />
<line x1="264.87" y1="260.40" x2="268.74" y2="260.40" stroke="#e8474c" stroke-width="0.9" />
<rect x="262.50" y="262.96" width="8.60" height="87.04" fill="#fccccc" />
<line x1="287.45" y1="317.36" x2="287.45" y2="311.60" stroke="#2a3a6a" stroke-width="0.9" />
<line x1="285.67" y1="311.60" x2="289.23" y2="311.60" stroke="#2a3a6a" stroke-width="0.9" />
<rect x="283.50" y="317.36" width="7.90" height="32.64" fill="#7b7b7d" />
<line x1="300.10" y1="268.40" x2="300.10" y2="266.48" stroke="#e8474c" stroke-width="0.9" />
<line x1="298.26" y1="266.48" x2="301.94" y2="266.48" stroke="#e8474c" stroke-width="0.9" />
<rect x="296.00" y="268.40" width="8.20" height="81.60" fill="#fccccc" />
<line x1="211.60" y1="253.50" x2="211.60" y2="350.75" stroke="#000" stroke-width="1.5" />
<line x1="209.10" y1="254.00" x2="211.60" y2="254.00" stroke="#000" stroke-width="1" />
<text x="207.90" y="256.52" font-size="7" text-anchor="end" fill="#111" font-weight="bold" >3</text>
<line x1="209.10" y1="286.00" x2="211.60" y2="286.00" stroke="#000" stroke-width="1" />
<text x="207.90" y="288.52" font-size="7" text-anchor="end" fill="#111" font-weight="bold" >2</text>
<line x1="209.10" y1="318.00" x2="211.60" y2="318.00" stroke="#000" stroke-width="1" />
<text x="207.90" y="320.52" font-size="7" text-anchor="end" fill="#111" font-weight="bold" >1</text>
<line x1="209.10" y1="350.00" x2="211.60" y2="350.00" stroke="#000" stroke-width="1" />
<text x="207.90" y="352.52" font-size="7" text-anchor="end" fill="#111" font-weight="bold" >0</text>
<line x1="210.85" y1="350.00" x2="308.80" y2="350.00" stroke="#000" stroke-width="1.5" />
<line x1="226.80" y1="350.00" x2="226.80" y2="353.00" stroke="#000" stroke-width="1" />
<line x1="259.90" y1="350.00" x2="259.90" y2="353.00" stroke="#000" stroke-width="1" />
<line x1="293.00" y1="350.00" x2="293.00" y2="353.00" stroke="#000" stroke-width="1" />
<text x="233.60" y="261.50" font-size="6.7" text-anchor="middle" fill="#222" font-weight="normal" >****</text>
<text x="266.80" y="255.50" font-size="6.7" text-anchor="middle" fill="#222" font-weight="normal" >****</text>
<text x="300.10" y="261.50" font-size="6.7" text-anchor="middle" fill="#222" font-weight="normal" >****</text>
<text x="228.70" y="361.80" font-size="7.6" text-anchor="middle" fill="#222" font-weight="normal" >ETS1</text>
<text x="261.50" y="361.80" font-size="7.6" text-anchor="middle" fill="#222" font-weight="normal" >CDYL2</text>
<text x="294.00" y="361.80" font-size="7.6" text-anchor="middle" fill="#222" font-weight="normal" >CACUL1</text>
<text x="194.50" y="302.00" font-size="7.6" text-anchor="middle" fill="#222" font-weight="normal" transform="rotate(-90 194.50 302.00)" >Relative expression level</text>
<text x="322.90" y="235.70" font-size="15.5" text-anchor="start" fill="#111" font-weight="normal" >F</text>
<text x="423.60" y="234.60" font-size="7.9" text-anchor="middle" fill="#222" font-weight="normal" >C4-2</text>
<rect x="359.40" y="239.50" width="9.60" height="4.00" fill="#7b7b7d" />
<text x="372.60" y="244.30" font-size="8" text-anchor="start" fill="#222" font-weight="normal" >inhibitor-nc</text>
<rect x="445.50" y="239.50" width="9.40" height="4.00" fill="#7b7b7d" />
<text x="458.70" y="244.30" font-size="8" text-anchor="start" fill="#222" font-weight="normal" >miR-nc</text>
<rect x="359.40" y="252.70" width="9.60" height="4.00" fill="#7ca3d1" />
<text x="372.60" y="257.50" font-size="8" text-anchor="start" fill="#222" font-weight="normal" >inhibitor-miR-646</text>
<rect x="445.50" y="252.70" width="9.40" height="4.00" fill="#fdd1b1" />
<text x="458.70" y="257.50" font-size="8" text-anchor="start" fill="#222" font-weight="normal" >miR-646</text>
<line x1="360.90" y1="304.60" x2="360.90" y2="302.78" stroke="#444" stroke-width="0.9" />
<line x1="359.32" y1="302.78" x2="362.47" y2="302.78" stroke="#444" stroke-width="0.9" />
<rect x="357.40" y="304.60" width="7.00" height="45.50" fill="#7b7b7d" />
<line x1="371.10" y1="291.86" x2="371.10" y2="288.68" stroke="#3d6fb6" stroke-width="0.9" />
<line x1="369.53" y1="288.68" x2="372.68" y2="288.68" stroke="#3d6fb6" stroke-width="0.9" />
<rect x="367.60" y="291.86" width="7.00" height="58.24" fill="#7ca3d1" />
<line x1="381.30" y1="304.60" x2="381.30" y2="304.15" stroke="#444" stroke-width="0.9" />
<line x1="379.73" y1="304.15" x2="382.88" y2="304.15" stroke="#444" stroke-width="0.9" />
<rect x="377.80" y="304.60" width="7.00" height="45.50" fill="#7b7b7d" />
<line x1="391.20" y1="322.80" x2="391.20" y2="315.06" stroke="#f0805a" stroke-width="0.9" />
<line x1="389.62" y1="315.06" x2="392.77" y2="315.06" stroke="#f0805a" stroke-width="0.9" />
<rect x="387.70" y="322.80" width="7.00" height="27.30" fill="#fdd1b1" />
<line x1="407.60" y1="304.60" x2="407.60" y2="302.33" stroke="#444" stroke-width="0.9" />
<line x1="406.03" y1="302.33" x2="409.18" y2="302.33" stroke="#444" stroke-width="0.9" />
<rect x="404.10" y="304.60" width="7.00" height="45.50" fill="#7b7b7d" />
<line x1="417.50" y1="279.12" x2="417.50" y2="274.12" stroke="#3d6fb6" stroke-width="0.9" />
<line x1="415.93" y1="274.12" x2="419.07" y2="274.12" stroke="#3d6fb6" stroke-width="0.9" />
<rect x="414.00" y="279.12" width="7.00" height="70.98" fill="#7ca3d1" />
<line x1="427.70" y1="304.60" x2="427.70" y2="301.42" stroke="#444" stroke-width="0.9" />
<line x1="426.12" y1="301.42" x2="429.27" y2="301.42" stroke="#444" stroke-width="0.9" />
<rect x="424.20" y="304.60" width="7.00" height="45.50" fill="#7b7b7d" />
<line x1="438.00" y1="320.07" x2="438.00" y2="318.25" stroke="#f0805a" stroke-width="0.9" />
<line x1="436.43" y1="318.25" x2="439.57" y2="318.25" stroke="#f0805a" stroke-width="0.9" />
<rect x="434.50" y="320.07" width="7.00" height="30.03" fill="#fdd1b1" />
<line x1="454.00" y1="304.60" x2="454.00" y2="300.05" stroke="#444" stroke-width="0.9" />
<line x1="452.43" y1="300.05" x2="455.57" y2="300.05" stroke="#444" stroke-width="0.9" />
<rect x="450.50" y="304.60" width="7.00" height="45.50" fill="#7b7b7d" />
<line x1="464.20" y1="299.14" x2="464.20" y2="298.23" stroke="#3d6fb6" stroke-width="0.9" />
<line x1="462.62" y1="298.23" x2="465.77" y2="298.23" stroke="#3d6fb6" stroke-width="0.9" />
<rect x="460.70" y="299.14" width="7.00" height="50.96" fill="#7ca3d1" />
<line x1="474.50" y1="303.69" x2="474.50" y2="300.05" stroke="#444" stroke-width="0.9" />
<line x1="472.93" y1="300.05" x2="476.07" y2="300.05" stroke="#444" stroke-width="0.9" />
<rect x="471.00" y="303.69" width="7.00" height="46.41" fill="#7b7b7d" />
<line x1="484.70" y1="325.99" x2="484.70" y2="320.07" stroke="#f0805a" stroke-width="0.9" />
<line x1="483.12" y1="320.07" x2="486.27" y2="320.07" stroke="#f0805a" stroke-width="0.9" />
<rect x="481.20" y="325.99" width="7.00" height="24.12" fill="#fdd1b1" />
<line x1="354.50" y1="258.60" x2="354.50" y2="350.85" stroke="#000" stroke-width="1.5" />
<line x1="352.00" y1="259.10" x2="354.50" y2="259.10" stroke="#000" stroke-width="1" />
<text x="350.80" y="261.48" font-size="6.6" text-anchor="end" fill="#111" font-weight="bold" >2.0</text>
<line x1="352.00" y1="281.85" x2="354.50" y2="281.85" stroke="#000" stroke-width="1" />
<text x="350.80" y="284.23" font-size="6.6" text-anchor="end" fill="#111" font-weight="bold" >1.5</text>
<line x1="352.00" y1="304.60" x2="354.50" y2="304.60" stroke="#000" stroke-width="1" />
<text x="350.80" y="306.98" font-size="6.6" text-anchor="end" fill="#111" font-weight="bold" >1.0</text>
<line x1="352.00" y1="327.35" x2="354.50" y2="327.35" stroke="#000" stroke-width="1" />
<text x="350.80" y="329.73" font-size="6.6" text-anchor="end" fill="#111" font-weight="bold" >0.5</text>
<line x1="352.00" y1="350.10" x2="354.50" y2="350.10" stroke="#000" stroke-width="1" />
<text x="350.80" y="352.48" font-size="6.6" text-anchor="end" fill="#111" font-weight="bold" >0.0</text>
<line x1="353.75" y1="350.10" x2="492.30" y2="350.10" stroke="#000" stroke-width="1.5" />
<line x1="376.30" y1="350.10" x2="376.30" y2="353.10" stroke="#000" stroke-width="1" />
<line x1="422.80" y1="350.10" x2="422.80" y2="353.10" stroke="#000" stroke-width="1" />
<line x1="469.30" y1="350.10" x2="469.30" y2="353.10" stroke="#000" stroke-width="1" />
<text x="371.10" y="283.00" font-size="6.7" text-anchor="middle" fill="#222" font-weight="normal" >*</text>
<text x="391.20" y="314.50" font-size="6.7" text-anchor="middle" fill="#222" font-weight="normal" >***</text>
<text x="417.50" y="268.00" font-size="6.7" text-anchor="middle" fill="#222" font-weight="normal" >****</text>
<text x="438.00" y="313.50" font-size="6.7" text-anchor="middle" fill="#222" font-weight="normal" >**</text>
<text x="484.70" y="318.50" font-size="6.7" text-anchor="middle" fill="#222" font-weight="normal" >****</text>
<text x="463.80" y="290.50" font-size="7" text-anchor="middle" fill="#222" font-weight="normal" >ns</text>
<text x="377.00" y="364.00" font-size="7.6" text-anchor="middle" fill="#222" font-weight="normal" >ETS1</text>
<text x="423.60" y="364.00" font-size="7.6" text-anchor="middle" fill="#222" font-weight="normal" >CDYL2</text>
<text x="469.80" y="364.00" font-size="7.6" text-anchor="middle" fill="#222" font-weight="normal" >CACUL1</text>
<text x="331.50" y="302.00" font-size="7.6" text-anchor="middle" fill="#222" font-weight="normal" transform="rotate(-90 331.50 302.00)" >Relative expression level</text>
<text x="500.00" y="236.20" font-size="15.5" text-anchor="start" fill="#111" font-weight="normal" >G</text>
<text x="603.00" y="233.40" font-size="7.9" text-anchor="middle" fill="#222" font-weight="normal" >C4-2</text>
<rect x="538.40" y="239.30" width="10.00" height="4.00" fill="#7b7b7d" />
<text x="552.00" y="244.10" font-size="8" text-anchor="start" fill="#222" font-weight="normal" >inhibitor-nc</text>
<rect x="620.40" y="239.30" width="9.60" height="4.00" fill="#7b7b7d" />
<text x="634.30" y="244.10" font-size="8" text-anchor="start" fill="#222" font-weight="normal" >miR-nc</text>
<rect x="538.40" y="252.10" width="10.00" height="4.00" fill="#7ca3d1" />
<text x="552.00" y="256.90" font-size="8" text-anchor="start" fill="#222" font-weight="normal" >inhibitor-miR-1200</text>
<rect x="621.50" y="252.10" width="9.50" height="4.00" fill="#fdd1b1" />
<text x="634.60" y="256.90" font-size="8" text-anchor="start" fill="#222" font-weight="normal" >miR-1200</text>
<line x1="540.55" y1="303.70" x2="540.55" y2="300.95" stroke="#444" stroke-width="0.9" />
<line x1="538.95" y1="300.95" x2="542.15" y2="300.95" stroke="#444" stroke-width="0.9" />
<rect x="537.00" y="303.70" width="7.10" height="45.80" fill="#7b7b7d" />
<line x1="550.40" y1="292.25" x2="550.40" y2="289.96" stroke="#3d6fb6" stroke-width="0.9" />
<line x1="548.82" y1="289.96" x2="551.98" y2="289.96" stroke="#3d6fb6" stroke-width="0.9" />
<rect x="546.90" y="292.25" width="7.00" height="57.25" fill="#7ca3d1" />
<line x1="560.45" y1="302.78" x2="560.45" y2="297.75" stroke="#444" stroke-width="0.9" />
<line x1="558.85" y1="297.75" x2="562.05" y2="297.75" stroke="#444" stroke-width="0.9" />
<rect x="556.90" y="302.78" width="7.10" height="46.72" fill="#7b7b7d" />
<line x1="570.45" y1="312.86" x2="570.45" y2="309.65" stroke="#f0805a" stroke-width="0.9" />
<line x1="568.85" y1="309.65" x2="572.05" y2="309.65" stroke="#f0805a" stroke-width="0.9" />
<rect x="566.90" y="312.86" width="7.10" height="36.64" fill="#fdd1b1" />
<line x1="587.45" y1="303.70" x2="587.45" y2="301.41" stroke="#444" stroke-width="0.9" />
<line x1="585.85" y1="301.41" x2="589.05" y2="301.41" stroke="#444" stroke-width="0.9" />
<rect x="583.90" y="303.70" width="7.10" height="45.80" fill="#7b7b7d" />
<line x1="597.45" y1="297.75" x2="597.45" y2="296.83" stroke="#3d6fb6" stroke-width="0.9" />
<line x1="595.85" y1="296.83" x2="599.05" y2="296.83" stroke="#3d6fb6" stroke-width="0.9" />
<rect x="593.90" y="297.75" width="7.10" height="51.75" fill="#7ca3d1" />
<line x1="607.45" y1="303.70" x2="607.45" y2="302.78" stroke="#444" stroke-width="0.9" />
<line x1="605.85" y1="302.78" x2="609.05" y2="302.78" stroke="#444" stroke-width="0.9" />
<rect x="603.90" y="303.70" width="7.10" height="45.80" fill="#7b7b7d" />
<line x1="617.40" y1="281.72" x2="617.40" y2="280.80" stroke="#f0805a" stroke-width="0.9" />
<line x1="615.78" y1="280.80" x2="619.02" y2="280.80" stroke="#f0805a" stroke-width="0.9" />
<rect x="613.80" y="281.72" width="7.20" height="67.78" fill="#fdd1b1" />
<line x1="634.45" y1="303.70" x2="634.45" y2="301.41" stroke="#444" stroke-width="0.9" />
<line x1="632.85" y1="301.41" x2="636.05" y2="301.41" stroke="#444" stroke-width="0.9" />
<rect x="630.90" y="303.70" width="7.10" height="45.80" fill="#7b7b7d" />
<line x1="643.85" y1="289.50" x2="643.85" y2="288.59" stroke="#3d6fb6" stroke-width="0.9" />
<line x1="642.25" y1="288.59" x2="645.45" y2="288.59" stroke="#3d6fb6" stroke-width="0.9" />
<rect x="640.30" y="289.50" width="7.10" height="60.00" fill="#7ca3d1" />
<line x1="653.85" y1="303.70" x2="653.85" y2="300.49" stroke="#444" stroke-width="0.9" />
<line x1="652.25" y1="300.49" x2="655.45" y2="300.49" stroke="#444" stroke-width="0.9" />
<rect x="650.30" y="303.70" width="7.10" height="45.80" fill="#7b7b7d" />
<line x1="663.75" y1="300.49" x2="663.75" y2="295.00" stroke="#f0805a" stroke-width="0.9" />
<line x1="662.15" y1="295.00" x2="665.35" y2="295.00" stroke="#f0805a" stroke-width="0.9" />
<rect x="660.20" y="300.49" width="7.10" height="49.01" fill="#fdd1b1" />
<line x1="534.10" y1="257.40" x2="534.10" y2="350.25" stroke="#000" stroke-width="1.5" />
<line x1="531.60" y1="257.90" x2="534.10" y2="257.90" stroke="#000" stroke-width="1" />
<text x="530.40" y="260.28" font-size="6.6" text-anchor="end" fill="#111" font-weight="bold" >2.0</text>
<line x1="531.60" y1="280.80" x2="534.10" y2="280.80" stroke="#000" stroke-width="1" />
<text x="530.40" y="283.18" font-size="6.6" text-anchor="end" fill="#111" font-weight="bold" >1.5</text>
<line x1="531.60" y1="303.70" x2="534.10" y2="303.70" stroke="#000" stroke-width="1" />
<text x="530.40" y="306.08" font-size="6.6" text-anchor="end" fill="#111" font-weight="bold" >1.0</text>
<line x1="531.60" y1="326.60" x2="534.10" y2="326.60" stroke="#000" stroke-width="1" />
<text x="530.40" y="328.98" font-size="6.6" text-anchor="end" fill="#111" font-weight="bold" >0.5</text>
<line x1="531.60" y1="349.50" x2="534.10" y2="349.50" stroke="#000" stroke-width="1" />
<text x="530.40" y="351.88" font-size="6.6" text-anchor="end" fill="#111" font-weight="bold" >0.0</text>
<line x1="533.35" y1="349.50" x2="671.30" y2="349.50" stroke="#000" stroke-width="1.5" />
<line x1="555.50" y1="349.50" x2="555.50" y2="352.50" stroke="#000" stroke-width="1" />
<line x1="602.50" y1="349.50" x2="602.50" y2="352.50" stroke="#000" stroke-width="1" />
<line x1="649.30" y1="349.50" x2="649.30" y2="352.50" stroke="#000" stroke-width="1" />
<text x="550.40" y="283.50" font-size="6.7" text-anchor="middle" fill="#222" font-weight="normal" >***</text>
<text x="570.50" y="305.00" font-size="6.7" text-anchor="middle" fill="#222" font-weight="normal" >**</text>
<text x="617.40" y="274.00" font-size="6.7" text-anchor="middle" fill="#222" font-weight="normal" >****</text>
<text x="643.90" y="283.50" font-size="6.7" text-anchor="middle" fill="#222" font-weight="normal" >****</text>
<text x="597.50" y="292.50" font-size="7" text-anchor="middle" fill="#222" font-weight="normal" >ns</text>
<text x="663.80" y="289.00" font-size="7" text-anchor="middle" fill="#222" font-weight="normal" >ns</text>
<text x="556.30" y="362.20" font-size="7.6" text-anchor="middle" fill="#222" font-weight="normal" >ETS1</text>
<text x="603.30" y="362.20" font-size="7.6" text-anchor="middle" fill="#222" font-weight="normal" >CDYL2</text>
<text x="650.80" y="362.20" font-size="7.6" text-anchor="middle" fill="#222" font-weight="normal" >CACUL1</text>
<text x="511.50" y="302.00" font-size="7.6" text-anchor="middle" fill="#222" font-weight="normal" transform="rotate(-90 511.50 302.00)" >Relative expression level</text>
<defs><filter id="bb" x="-30%" y="-100%" width="160%" height="300%"><feGaussianBlur stdDeviation="0.7"/></filter><filter id="bs" x="-30%" y="-60%" width="160%" height="220%"><feGaussianBlur stdDeviation="1.6"/></filter></defs>
<text x="7.20" y="397.60" font-size="16" text-anchor="start" fill="#111" font-weight="normal" >H</text>
<text x="73.50" y="413.00" font-size="9.5" text-anchor="start" fill="#222" font-weight="normal" transform="rotate(-31.5 73.50 413.00)" >si-nc</text>
<text x="95.50" y="413.00" font-size="9.5" text-anchor="start" fill="#222" font-weight="normal" transform="rotate(-31.5 95.50 413.00)" >si-circ#02</text>
<text x="118.50" y="413.00" font-size="9.5" text-anchor="start" fill="#222" font-weight="normal" transform="rotate(-31.5 118.50 413.00)" >si-circ#03</text>
<text x="146.50" y="413.00" font-size="9.5" text-anchor="start" fill="#222" font-weight="normal" transform="rotate(-31.5 146.50 413.00)" >vector</text>
<text x="169.80" y="413.00" font-size="9.5" text-anchor="start" fill="#222" font-weight="normal" transform="rotate(-31.5 169.80 413.00)" >lv-circ</text>
<rect x="66.20" y="416.20" width="68.30" height="16.30" fill="#ebebeb" />
<g clip-path="inset(0)">
<ellipse cx="81.40" cy="424.60" rx="10.00" ry="4.50" fill="#333" fill-opacity="0.12" filter="url(#bs)"/>
<rect x="74.40" y="422.91" width="14.00" height="3.39" rx="1.69" fill="#161616" fill-opacity="0.87" filter="url(#bb)"/>
<ellipse cx="81.40" cy="424.60" rx="9.00" ry="2.89" fill="#161616" fill-opacity="0.15" filter="url(#bs)"/>
<rect x="94.40" y="423.75" width="13.00" height="2.70" rx="1.35" fill="#161616" fill-opacity="0.69" filter="url(#bb)"/>
<ellipse cx="100.90" cy="425.10" rx="8.50" ry="2.55" fill="#161616" fill-opacity="0.12" filter="url(#bs)"/>
<rect x="114.40" y="424.11" width="12.00" height="2.58" rx="1.29" fill="#161616" fill-opacity="0.64" filter="url(#bb)"/>
<ellipse cx="120.40" cy="425.40" rx="8.00" ry="2.49" fill="#161616" fill-opacity="0.11" filter="url(#bs)"/>
</g>
<rect x="66.20" y="416.20" width="68.30" height="16.30" fill="none" stroke="#111" stroke-width="1.2" />
<rect x="136.40" y="416.20" width="50.30" height="16.30" fill="#ebebeb" />
<g clip-path="inset(0)">
<ellipse cx="170.60" cy="425.60" rx="10.00" ry="5.00" fill="#333" fill-opacity="0.15" filter="url(#bs)"/>
<rect x="145.00" y="423.02" width="13.00" height="3.16" rx="1.58" fill="#161616" fill-opacity="0.78" filter="url(#bb)"/>
<ellipse cx="151.50" cy="424.60" rx="8.50" ry="2.78" fill="#161616" fill-opacity="0.14" filter="url(#bs)"/>
<rect x="163.60" y="423.25" width="14.00" height="4.31" rx="2.15" fill="#161616" fill-opacity="0.90" filter="url(#bb)"/>
<ellipse cx="170.60" cy="425.40" rx="9.00" ry="3.35" fill="#161616" fill-opacity="0.16" filter="url(#bs)"/>
</g>
<rect x="136.40" y="416.20" width="50.30" height="16.30" fill="none" stroke="#111" stroke-width="1.2" />
<text x="77.00" y="439.30" font-size="6.5" text-anchor="middle" fill="#1a1a1a" font-weight="normal" letter-spacing="0.55">1.109</text>
<text x="100.30" y="439.30" font-size="6.5" text-anchor="middle" fill="#1a1a1a" font-weight="normal" letter-spacing="0.55">0.802</text>
<text x="123.20" y="439.30" font-size="6.5" text-anchor="middle" fill="#1a1a1a" font-weight="normal" letter-spacing="0.55">0.711</text>
<text x="149.70" y="439.30" font-size="6.5" text-anchor="middle" fill="#1a1a1a" font-weight="normal" letter-spacing="0.55">0.648</text>
<text x="173.00" y="439.30" font-size="6.5" text-anchor="middle" fill="#1a1a1a" font-weight="normal" letter-spacing="0.55">0.885</text>
<rect x="66.20" y="440.50" width="68.30" height="17.00" fill="#ebebeb" />
<g clip-path="inset(0)">
<rect x="75.10" y="447.59" width="13.00" height="2.81" rx="1.41" fill="#161616" fill-opacity="0.87" filter="url(#bb)"/>
<ellipse cx="81.60" cy="449.00" rx="8.50" ry="2.61" fill="#161616" fill-opacity="0.15" filter="url(#bs)"/>
<rect x="94.40" y="447.54" width="13.00" height="2.93" rx="1.46" fill="#161616" fill-opacity="0.87" filter="url(#bb)"/>
<ellipse cx="100.90" cy="449.00" rx="8.50" ry="2.67" fill="#161616" fill-opacity="0.15" filter="url(#bs)"/>
<rect x="114.50" y="447.59" width="13.00" height="2.81" rx="1.41" fill="#161616" fill-opacity="0.85" filter="url(#bb)"/>
<ellipse cx="121.00" cy="449.00" rx="8.50" ry="2.61" fill="#161616" fill-opacity="0.15" filter="url(#bs)"/>
</g>
<rect x="66.20" y="440.50" width="68.30" height="17.00" fill="none" stroke="#111" stroke-width="1.2" />
<rect x="136.40" y="440.50" width="50.30" height="17.00" fill="#ebebeb" />
<g clip-path="inset(0)">
<rect x="144.90" y="447.42" width="13.00" height="3.16" rx="1.58" fill="#161616" fill-opacity="0.87" filter="url(#bb)"/>
<ellipse cx="151.40" cy="449.00" rx="8.50" ry="2.78" fill="#161616" fill-opacity="0.15" filter="url(#bs)"/>
<rect x="164.60" y="447.42" width="13.00" height="3.16" rx="1.58" fill="#161616" fill-opacity="0.87" filter="url(#bb)"/>
<ellipse cx="171.10" cy="449.00" rx="8.50" ry="2.78" fill="#161616" fill-opacity="0.15" filter="url(#bs)"/>
</g>
<rect x="136.40" y="440.50" width="50.30" height="17.00" fill="none" stroke="#111" stroke-width="1.2" />
<rect x="66.20" y="462.30" width="68.30" height="16.10" fill="#d4d4d4" />
<g clip-path="inset(0)">
<ellipse cx="81.40" cy="473.40" rx="9.00" ry="8.00" fill="#333" fill-opacity="0.35" filter="url(#bs)"/>
<ellipse cx="100.90" cy="472.40" rx="8.00" ry="7.00" fill="#333" fill-opacity="0.2" filter="url(#bs)"/>
<ellipse cx="120.40" cy="472.40" rx="8.00" ry="7.00" fill="#333" fill-opacity="0.25" filter="url(#bs)"/>
<ellipse cx="100.00" cy="466.40" rx="35.00" ry="4.00" fill="#333" fill-opacity="0.12" filter="url(#bs)"/>
<rect x="74.90" y="469.16" width="13.00" height="2.47" rx="1.23" fill="#161616" fill-opacity="0.69" filter="url(#bb)"/>
<ellipse cx="81.40" cy="470.40" rx="8.50" ry="2.43" fill="#161616" fill-opacity="0.12" filter="url(#bs)"/>
<rect x="94.90" y="469.95" width="12.00" height="1.90" rx="0.95" fill="#161616" fill-opacity="0.32" filter="url(#bb)"/>
<ellipse cx="100.90" cy="470.90" rx="8.00" ry="2.15" fill="#161616" fill-opacity="0.06" filter="url(#bs)"/>
<rect x="114.40" y="470.25" width="12.00" height="1.90" rx="0.95" fill="#161616" fill-opacity="0.32" filter="url(#bb)"/>
<ellipse cx="120.40" cy="471.20" rx="8.00" ry="2.15" fill="#161616" fill-opacity="0.06" filter="url(#bs)"/>
</g>
<rect x="66.20" y="462.30" width="68.30" height="16.10" fill="none" stroke="#111" stroke-width="1.2" />
<rect x="136.40" y="462.30" width="50.30" height="16.10" fill="#dadada" />
<g clip-path="inset(0)">
<ellipse cx="170.60" cy="473.40" rx="9.00" ry="7.00" fill="#333" fill-opacity="0.45" filter="url(#bs)"/>
<ellipse cx="151.50" cy="472.40" rx="8.00" ry="6.00" fill="#333" fill-opacity="0.2" filter="url(#bs)"/>
<rect x="145.50" y="469.05" width="12.00" height="2.70" rx="1.35" fill="#161616" fill-opacity="0.64" filter="url(#bb)"/>
<ellipse cx="151.50" cy="470.40" rx="8.00" ry="2.55" fill="#161616" fill-opacity="0.11" filter="url(#bs)"/>
<rect x="163.60" y="468.47" width="14.00" height="3.85" rx="1.92" fill="#161616" fill-opacity="0.83" filter="url(#bb)"/>
<ellipse cx="170.60" cy="470.40" rx="9.00" ry="3.12" fill="#161616" fill-opacity="0.14" filter="url(#bs)"/>
</g>
<rect x="136.40" y="462.30" width="50.30" height="16.10" fill="none" stroke="#111" stroke-width="1.2" />
<text x="78.10" y="485.00" font-size="6.5" text-anchor="middle" fill="#1a1a1a" font-weight="normal" letter-spacing="0.55">0.615</text>
<text x="100.90" y="485.00" font-size="6.5" text-anchor="middle" fill="#1a1a1a" font-weight="normal" letter-spacing="0.55">0.523</text>
<text x="122.50" y="485.00" font-size="6.5" text-anchor="middle" fill="#1a1a1a" font-weight="normal" letter-spacing="0.55">0.497</text>
<text x="149.50" y="485.00" font-size="6.5" text-anchor="middle" fill="#1a1a1a" font-weight="normal" letter-spacing="0.55">0.534</text>
<text x="173.00" y="485.00" font-size="6.5" text-anchor="middle" fill="#1a1a1a" font-weight="normal" letter-spacing="0.55">0.742</text>
<rect x="66.20" y="486.60" width="68.30" height="16.50" fill="#ebebeb" />
<g clip-path="inset(0)">
<rect x="75.10" y="494.04" width="13.00" height="2.93" rx="1.46" fill="#161616" fill-opacity="0.87" filter="url(#bb)"/>
<ellipse cx="81.60" cy="495.50" rx="8.50" ry="2.67" fill="#161616" fill-opacity="0.15" filter="url(#bs)"/>
<rect x="94.40" y="494.04" width="13.00" height="2.93" rx="1.46" fill="#161616" fill-opacity="0.85" filter="url(#bb)"/>
<ellipse cx="100.90" cy="495.50" rx="8.50" ry="2.67" fill="#161616" fill-opacity="0.15" filter="url(#bs)"/>
<rect x="114.50" y="494.04" width="13.00" height="2.93" rx="1.46" fill="#161616" fill-opacity="0.85" filter="url(#bb)"/>
<ellipse cx="121.00" cy="495.50" rx="8.50" ry="2.67" fill="#161616" fill-opacity="0.15" filter="url(#bs)"/>
</g>
<rect x="66.20" y="486.60" width="68.30" height="16.50" fill="none" stroke="#111" stroke-width="1.2" />
<rect x="136.40" y="486.60" width="50.30" height="16.50" fill="#ebebeb" />
<g clip-path="inset(0)">
<rect x="144.90" y="493.92" width="13.00" height="3.16" rx="1.58" fill="#161616" fill-opacity="0.87" filter="url(#bb)"/>
<ellipse cx="151.40" cy="495.50" rx="8.50" ry="2.78" fill="#161616" fill-opacity="0.15" filter="url(#bs)"/>
<rect x="164.60" y="493.92" width="13.00" height="3.16" rx="1.58" fill="#161616" fill-opacity="0.85" filter="url(#bb)"/>
<ellipse cx="171.10" cy="495.50" rx="8.50" ry="2.78" fill="#161616" fill-opacity="0.15" filter="url(#bs)"/>
</g>
<rect x="136.40" y="486.60" width="50.30" height="16.50" fill="none" stroke="#111" stroke-width="1.2" />
<text x="62.20" y="427.40" font-size="8" text-anchor="end" fill="#222" font-weight="normal" >ETS1</text>
<text x="62.20" y="451.80" font-size="8" text-anchor="end" fill="#222" font-weight="normal" >GAPDH</text>
<text x="62.20" y="473.40" font-size="8" text-anchor="end" fill="#222" font-weight="normal" >ETS1</text>
<text x="62.20" y="497.60" font-size="8" text-anchor="end" fill="#222" font-weight="normal" >GAPDH</text>
<text x="188.30" y="427.40" font-size="8.2" text-anchor="start" fill="#222" font-weight="normal" >-50kDa</text>
<text x="188.30" y="451.80" font-size="8.2" text-anchor="start" fill="#222" font-weight="normal" >-37kDa</text>
<text x="188.30" y="473.40" font-size="8.2" text-anchor="start" fill="#222" font-weight="normal" >-50kDa</text>
<text x="188.30" y="497.60" font-size="8.2" text-anchor="start" fill="#222" font-weight="normal" >-37kDa</text>
<line x1="28.90" y1="415.00" x2="28.90" y2="457.60" stroke="#333" stroke-width="1.1" />
<line x1="28.90" y1="461.10" x2="28.90" y2="503.90" stroke="#333" stroke-width="1.1" />
<text x="24.20" y="436.40" font-size="8.8" text-anchor="middle" fill="#222" font-weight="normal" transform="rotate(-90 24.20 436.40)" >C4-2</text>
<text x="24.20" y="482.50" font-size="8.8" text-anchor="middle" fill="#222" font-weight="normal" transform="rotate(-90 24.20 482.50)" >LNCaP</text>
<text x="233.60" y="397.40" font-size="15" text-anchor="start" fill="#111" font-weight="normal" >I</text>
<line x1="265.60" y1="412.00" x2="435.30" y2="412.00" stroke="#333" stroke-width="0.9" />
<path d="M271 408.3 L279 412 L271 415.7 Z" fill="#2b78c4" stroke="none" stroke-width="0" />
<path d="M389.7 408.3 L397.7 412 L389.7 415.7 Z" fill="#f29a1f" stroke="none" stroke-width="0" />
<rect x="285.7" y="405.4" width="25.5" height="13.1" rx="6.5" fill="#fff" stroke="#333" stroke-width="0.9"/>
<rect x="318.5" y="404.2" width="65.7" height="15.1" rx="7.5" fill="#fff" stroke="#333" stroke-width="0.9"/>
<rect x="403.2" y="405.4" width="26.7" height="13.1" rx="6.5" fill="#fff" stroke="#333" stroke-width="0.9"/>
<text x="298.40" y="415.20" font-size="9.4" text-anchor="middle" fill="#222" font-weight="normal" >Fluc</text>
<text x="351.60" y="415.40" font-size="9.4" text-anchor="middle" fill="#222" font-weight="normal" >ETS1</text>
<text x="416.50" y="415.20" font-size="9.4" text-anchor="middle" fill="#222" font-weight="normal" >Rluc</text>
<line x1="319.00" y1="419.00" x2="280.20" y2="432.00" stroke="#444" stroke-width="0.8" />
<line x1="384.00" y1="419.00" x2="422.60" y2="432.00" stroke="#444" stroke-width="0.8" />
<text x="348.10" y="433.70" font-size="7.6" text-anchor="middle" fill="#222" font-weight="normal" >2156-2162bp</text>
<line x1="326.80" y1="436.00" x2="370.10" y2="436.00" stroke="#444" stroke-width="0.8" />
<text x="290.50" y="445.20" font-size="9.3" text-anchor="end" fill="#222" font-weight="normal" >hsa-miR-1200</text>
<text x="295.80" y="445.20" font-size="9.3" text-anchor="start" fill="#222" font-weight="normal" >3'...CGAGUCCUUC...5'</text>
<text x="290.50" y="460.50" font-size="9.3" text-anchor="end" fill="#222" font-weight="normal" >ETS1 Wt</text>
<text x="295.8" y="460.5" font-size="9.3" fill="#222">5'...UA<tspan fill="#2b78c4" font-weight="bold" font-style="italic">UCAGGAA</tspan>C...GG<tspan fill="#2b78c4" font-weight="bold" font-style="italic">AGCUGCU</tspan>C...3'</text>
<text x="290.50" y="475.40" font-size="9.3" text-anchor="end" fill="#222" font-weight="normal" >hsa-miR-646</text>
<text x="310.50" y="475.40" font-size="9.3" text-anchor="start" fill="#222" font-weight="normal" >3'...CGGAGUCUCCGUCGACGAA...5'</text>
<text x="290.50" y="493.80" font-size="9.3" text-anchor="end" fill="#222" font-weight="normal" >ETS1 Mut</text>
<text x="295.8" y="493.8" font-size="9.3" fill="#222">5'...UA<tspan fill="#ef6a2a" font-weight="bold" font-style="italic">AGUCCUU</tspan>C...GG<tspan fill="#ef6a2a" font-weight="bold" font-style="italic">UCGACGA</tspan>C...3'</text>
<line x1="328.10" y1="446.50" x2="328.10" y2="452.60" stroke="#333" stroke-width="0.6" />
<line x1="334.70" y1="446.50" x2="334.70" y2="452.60" stroke="#333" stroke-width="0.6" />
<line x1="341.20" y1="446.50" x2="341.20" y2="452.60" stroke="#333" stroke-width="0.6" />
<line x1="348.30" y1="446.50" x2="348.30" y2="452.60" stroke="#333" stroke-width="0.6" />
<line x1="355.20" y1="446.50" x2="355.20" y2="452.60" stroke="#333" stroke-width="0.6" />
<line x1="361.70" y1="446.50" x2="361.70" y2="452.60" stroke="#333" stroke-width="0.6" />
<line x1="368.30" y1="446.50" x2="368.30" y2="452.60" stroke="#333" stroke-width="0.6" />
<line x1="403.50" y1="462.60" x2="403.50" y2="469.70" stroke="#333" stroke-width="0.6" />
<line x1="410.30" y1="462.60" x2="410.30" y2="469.70" stroke="#333" stroke-width="0.6" />
<line x1="417.40" y1="462.60" x2="417.40" y2="469.70" stroke="#333" stroke-width="0.6" />
<line x1="424.50" y1="462.60" x2="424.50" y2="469.70" stroke="#333" stroke-width="0.6" />
<line x1="431.40" y1="462.60" x2="431.40" y2="469.70" stroke="#333" stroke-width="0.6" />
<line x1="437.90" y1="462.60" x2="437.90" y2="469.70" stroke="#333" stroke-width="0.6" />
<line x1="445.00" y1="462.60" x2="445.00" y2="469.70" stroke="#333" stroke-width="0.6" />
<line x1="401.70" y1="477.50" x2="445.00" y2="477.50" stroke="#444" stroke-width="0.8" />
<text x="423.70" y="484.10" font-size="7.6" text-anchor="middle" fill="#222" font-weight="normal" >2303-2309bp</text>
<text x="481.00" y="398.20" font-size="15" text-anchor="start" fill="#111" font-weight="normal" >J</text>
<text x="588.10" y="384.30" font-size="7.9" text-anchor="middle" fill="#222" font-weight="normal" >C4-2</text>
<rect x="523.00" y="391.60" width="11.90" height="4.20" fill="#7b7b7d" />
<text x="538.80" y="396.50" font-size="8" text-anchor="start" fill="#222" font-weight="normal" >miR-nc</text>
<rect x="576.60" y="391.60" width="11.50" height="4.20" fill="#a3d9ad" />
<text x="592.40" y="396.50" font-size="8" text-anchor="start" fill="#222" font-weight="normal" >miR-1200</text>
<rect x="523.00" y="403.40" width="11.90" height="4.20" fill="#7ca3d1" />
<text x="538.80" y="408.30" font-size="8" text-anchor="start" fill="#222" font-weight="normal" >miR-646</text>
<rect x="576.60" y="403.40" width="11.50" height="4.20" fill="#fdd1b1" />
<text x="592.40" y="408.30" font-size="8" text-anchor="start" fill="#222" font-weight="normal" >miR-646+miR-1200</text>
<line x1="527.65" y1="440.30" x2="527.65" y2="437.05" stroke="#444" stroke-width="0.9" />
<line x1="525.29" y1="437.05" x2="530.01" y2="437.05" stroke="#444" stroke-width="0.9" />
<rect x="522.40" y="440.30" width="10.50" height="65.00" fill="#7b7b7d" />
<line x1="543.80" y1="469.55" x2="543.80" y2="463.05" stroke="#3d6fb6" stroke-width="0.9" />
<line x1="541.28" y1="463.05" x2="546.32" y2="463.05" stroke="#3d6fb6" stroke-width="0.9" />
<rect x="538.20" y="469.55" width="11.20" height="35.75" fill="#7ca3d1" />
<line x1="560.55" y1="465.65" x2="560.55" y2="461.75" stroke="#3f9a55" stroke-width="0.9" />
<line x1="558.19" y1="461.75" x2="562.91" y2="461.75" stroke="#3f9a55" stroke-width="0.9" />
<rect x="555.30" y="465.65" width="10.50" height="39.65" fill="#a3d9ad" />
<line x1="576.95" y1="477.35" x2="576.95" y2="468.90" stroke="#f0805a" stroke-width="0.9" />
<line x1="574.59" y1="468.90" x2="579.31" y2="468.90" stroke="#f0805a" stroke-width="0.9" />
<rect x="571.70" y="477.35" width="10.50" height="27.95" fill="#fdd1b1" />
<line x1="604.05" y1="440.30" x2="604.05" y2="437.70" stroke="#444" stroke-width="0.9" />
<line x1="601.60" y1="437.70" x2="606.50" y2="437.70" stroke="#444" stroke-width="0.9" />
<rect x="598.60" y="440.30" width="10.90" height="65.00" fill="#7b7b7d" />
<line x1="620.45" y1="445.50" x2="620.45" y2="439.65" stroke="#3d6fb6" stroke-width="0.9" />
<line x1="618.00" y1="439.65" x2="622.90" y2="439.65" stroke="#3d6fb6" stroke-width="0.9" />
<rect x="615.00" y="445.50" width="10.90" height="59.80" fill="#7ca3d1" />
<line x1="636.90" y1="436.40" x2="636.90" y2="431.20" stroke="#3f9a55" stroke-width="0.9" />
<line x1="634.47" y1="431.20" x2="639.33" y2="431.20" stroke="#3f9a55" stroke-width="0.9" />
<rect x="631.50" y="436.40" width="10.80" height="68.90" fill="#a3d9ad" />
<line x1="653.35" y1="449.40" x2="653.35" y2="444.85" stroke="#f0805a" stroke-width="0.9" />
<line x1="650.90" y1="444.85" x2="655.80" y2="444.85" stroke="#f0805a" stroke-width="0.9" />
<rect x="647.90" y="449.40" width="10.90" height="55.90" fill="#fdd1b1" />
<line x1="516.50" y1="407.30" x2="516.50" y2="506.05" stroke="#000" stroke-width="1.5" />
<line x1="514.00" y1="407.80" x2="516.50" y2="407.80" stroke="#000" stroke-width="1" />
<text x="512.80" y="410.03" font-size="6.2" text-anchor="end" fill="#111" font-weight="bold" >1.5</text>
<line x1="514.00" y1="440.30" x2="516.50" y2="440.30" stroke="#000" stroke-width="1" />
<text x="512.80" y="442.53" font-size="6.2" text-anchor="end" fill="#111" font-weight="bold" >1.0</text>
<line x1="514.00" y1="472.80" x2="516.50" y2="472.80" stroke="#000" stroke-width="1" />
<text x="512.80" y="475.03" font-size="6.2" text-anchor="end" fill="#111" font-weight="bold" >0.5</text>
<line x1="514.00" y1="505.30" x2="516.50" y2="505.30" stroke="#000" stroke-width="1" />
<text x="512.80" y="507.53" font-size="6.2" text-anchor="end" fill="#111" font-weight="bold" >0.0</text>
<line x1="515.75" y1="505.30" x2="665.30" y2="505.30" stroke="#000" stroke-width="1.5" />
<line x1="553.00" y1="505.30" x2="553.00" y2="508.30" stroke="#000" stroke-width="1" />
<line x1="628.50" y1="505.30" x2="628.50" y2="508.30" stroke="#000" stroke-width="1" />
<text x="543.80" y="463.50" font-size="6.7" text-anchor="middle" fill="#222" font-weight="normal" >***</text>
<text x="560.50" y="459.50" font-size="6.7" text-anchor="middle" fill="#222" font-weight="normal" >***</text>
<text x="577.00" y="470.00" font-size="6.7" text-anchor="middle" fill="#222" font-weight="normal" >****</text>
<text x="553.00" y="517.20" font-size="7.8" text-anchor="middle" fill="#222" font-weight="normal" >Wild type</text>
<text x="628.50" y="517.20" font-size="7.8" text-anchor="middle" fill="#222" font-weight="normal" >Mutant</text>
<text x="495.50" y="454.00" font-size="7.6" text-anchor="middle" fill="#222" font-weight="normal" transform="rotate(-90 495.50 454.00)" >Relative luciferase activity</text>
<text x="7.00" y="539.40" font-size="16" text-anchor="start" fill="#111" font-weight="normal" >K</text>
<text x="37.50" y="562.00" font-size="7.8" text-anchor="start" fill="#222" font-weight="normal" transform="rotate(-30 37.50 562.00)" >sh-nc</text>
<text x="54.00" y="562.00" font-size="7.8" text-anchor="start" fill="#222" font-weight="normal" transform="rotate(-30 54.00 562.00)" >sh-circ</text>
<text x="73.50" y="561.50" font-size="7.8" text-anchor="start" fill="#222" font-weight="normal" transform="rotate(-30 73.50 561.50)" >sh-circ+</text>
<text x="87.50" y="564.00" font-size="7.8" text-anchor="start" fill="#222" font-weight="normal" transform="rotate(-30 87.50 564.00)" >vc-ETS1</text>
<text x="106.50" y="561.20" font-size="7.8" text-anchor="start" fill="#222" font-weight="normal" transform="rotate(-30 106.50 561.20)" >sh-circ+</text>
<text x="120.00" y="563.50" font-size="7.8" text-anchor="start" fill="#222" font-weight="normal" transform="rotate(-30 120.00 563.50)" >ETS1</text>
<rect x="34.00" y="565.40" width="83.70" height="16.20" fill="#ebebeb" />
<g clip-path="inset(0)">
<rect x="41.10" y="569.39" width="13.00" height="3.62" rx="1.81" fill="#161616" fill-opacity="0.87" filter="url(#bb)"/>
<ellipse cx="47.60" cy="571.20" rx="8.50" ry="3.01" fill="#161616" fill-opacity="0.15" filter="url(#bs)"/>
<rect x="60.40" y="570.15" width="12.00" height="2.70" rx="1.35" fill="#161616" fill-opacity="0.69" filter="url(#bb)"/>
<ellipse cx="66.40" cy="571.50" rx="8.00" ry="2.55" fill="#161616" fill-opacity="0.12" filter="url(#bs)"/>
<rect x="79.20" y="570.15" width="12.00" height="2.70" rx="1.35" fill="#161616" fill-opacity="0.69" filter="url(#bb)"/>
<ellipse cx="85.20" cy="571.50" rx="8.00" ry="2.55" fill="#161616" fill-opacity="0.12" filter="url(#bs)"/>
<rect x="98.05" y="569.62" width="12.50" height="3.16" rx="1.58" fill="#161616" fill-opacity="0.78" filter="url(#bb)"/>
<ellipse cx="104.30" cy="571.20" rx="8.25" ry="2.78" fill="#161616" fill-opacity="0.14" filter="url(#bs)"/>
</g>
<rect x="34.00" y="565.40" width="83.70" height="16.20" fill="none" stroke="#111" stroke-width="1.2" />
<text x="47.60" y="587.60" font-size="5.7" text-anchor="middle" fill="#1a1a1a" font-weight="normal" letter-spacing="0.25">0.822</text>
<text x="66.40" y="587.60" font-size="5.7" text-anchor="middle" fill="#1a1a1a" font-weight="normal" letter-spacing="0.25">0.606</text>
<text x="85.20" y="587.60" font-size="5.7" text-anchor="middle" fill="#1a1a1a" font-weight="normal" letter-spacing="0.25">0.579</text>
<text x="104.30" y="587.60" font-size="5.7" text-anchor="middle" fill="#1a1a1a" font-weight="normal" letter-spacing="0.25">0.734</text>
<rect x="34.00" y="589.20" width="83.70" height="16.30" fill="#ebebeb" />
<g clip-path="inset(0)">
<ellipse cx="66.40" cy="599.80" rx="7.00" ry="3.00" fill="#333" fill-opacity="0.12" filter="url(#bs)"/>
<rect x="41.10" y="593.99" width="13.00" height="3.62" rx="1.81" fill="#161616" fill-opacity="0.85" filter="url(#bb)"/>
<ellipse cx="47.60" cy="595.80" rx="8.50" ry="3.01" fill="#161616" fill-opacity="0.15" filter="url(#bs)"/>
<rect x="60.40" y="594.63" width="12.00" height="2.93" rx="1.46" fill="#161616" fill-opacity="0.64" filter="url(#bb)"/>
<ellipse cx="66.40" cy="596.10" rx="8.00" ry="2.67" fill="#161616" fill-opacity="0.11" filter="url(#bs)"/>
<rect x="78.70" y="593.88" width="13.00" height="3.85" rx="1.92" fill="#161616" fill-opacity="0.85" filter="url(#bb)"/>
<ellipse cx="85.20" cy="595.80" rx="8.50" ry="3.12" fill="#161616" fill-opacity="0.15" filter="url(#bs)"/>
<rect x="98.05" y="593.99" width="12.50" height="3.62" rx="1.81" fill="#161616" fill-opacity="0.83" filter="url(#bb)"/>
<ellipse cx="104.30" cy="595.80" rx="8.25" ry="3.01" fill="#161616" fill-opacity="0.14" filter="url(#bs)"/>
</g>
<rect x="34.00" y="589.20" width="83.70" height="16.30" fill="none" stroke="#111" stroke-width="1.2" />
<text x="47.60" y="611.70" font-size="5.7" text-anchor="middle" fill="#1a1a1a" font-weight="normal" letter-spacing="0.25">0.828</text>
<text x="66.40" y="611.70" font-size="5.7" text-anchor="middle" fill="#1a1a1a" font-weight="normal" letter-spacing="0.25">0.628</text>
<text x="85.20" y="611.70" font-size="5.7" text-anchor="middle" fill="#1a1a1a" font-weight="normal" letter-spacing="0.25">0.704</text>
<text x="104.30" y="611.70" font-size="5.7" text-anchor="middle" fill="#1a1a1a" font-weight="normal" letter-spacing="0.25">0.789</text>
<rect x="34.00" y="613.30" width="83.70" height="16.00" fill="#dcdcdc" />
<g clip-path="inset(0)">
<ellipse cx="75.00" cy="619.00" rx="40.00" ry="3.00" fill="#333" fill-opacity="0.12" filter="url(#bs)"/>
<ellipse cx="66.40" cy="626.00" rx="8.00" ry="3.00" fill="#333" fill-opacity="0.3" filter="url(#bs)"/>
<rect x="41.60" y="621.65" width="12.00" height="2.70" rx="1.35" fill="#161616" fill-opacity="0.74" filter="url(#bb)"/>
<ellipse cx="47.60" cy="623.00" rx="8.00" ry="2.55" fill="#161616" fill-opacity="0.13" filter="url(#bs)"/>
<rect x="59.40" y="620.38" width="14.00" height="5.23" rx="2.62" fill="#161616" fill-opacity="0.90" filter="url(#bb)"/>
<ellipse cx="66.40" cy="623.00" rx="9.00" ry="3.82" fill="#161616" fill-opacity="0.16" filter="url(#bs)"/>
<rect x="78.70" y="620.96" width="13.00" height="4.08" rx="2.04" fill="#161616" fill-opacity="0.85" filter="url(#bb)"/>
<ellipse cx="85.20" cy="623.00" rx="8.50" ry="3.24" fill="#161616" fill-opacity="0.15" filter="url(#bs)"/>
<rect x="98.30" y="621.94" width="12.00" height="2.12" rx="1.06" fill="#161616" fill-opacity="0.17" filter="url(#bb)"/>
<ellipse cx="104.30" cy="623.00" rx="8.00" ry="2.26" fill="#161616" fill-opacity="0.03" filter="url(#bs)"/>
</g>
<rect x="34.00" y="613.30" width="83.70" height="16.00" fill="none" stroke="#111" stroke-width="1.2" />
<text x="47.60" y="635.80" font-size="5.7" text-anchor="middle" fill="#1a1a1a" font-weight="normal" letter-spacing="0.25">0.543</text>
<text x="66.40" y="635.80" font-size="5.7" text-anchor="middle" fill="#1a1a1a" font-weight="normal" letter-spacing="0.25">0.868</text>
<text x="85.20" y="635.80" font-size="5.7" text-anchor="middle" fill="#1a1a1a" font-weight="normal" letter-spacing="0.25">0.780</text>
<text x="104.30" y="635.80" font-size="5.7" text-anchor="middle" fill="#1a1a1a" font-weight="normal" letter-spacing="0.25">0.398</text>
<rect x="34.00" y="637.40" width="83.70" height="16.00" fill="#ebebeb" />
<g clip-path="inset(0)">
<rect x="41.10" y="643.83" width="13.00" height="4.54" rx="2.27" fill="#161616" fill-opacity="0.89" filter="url(#bb)"/>
<ellipse cx="47.60" cy="646.10" rx="8.50" ry="3.47" fill="#161616" fill-opacity="0.16" filter="url(#bs)"/>
<rect x="60.40" y="643.95" width="12.00" height="4.31" rx="2.15" fill="#161616" fill-opacity="0.87" filter="url(#bb)"/>
<ellipse cx="66.40" cy="646.10" rx="8.00" ry="3.35" fill="#161616" fill-opacity="0.15" filter="url(#bs)"/>
<rect x="79.20" y="643.95" width="12.00" height="4.31" rx="2.15" fill="#161616" fill-opacity="0.87" filter="url(#bb)"/>
<ellipse cx="85.20" cy="646.10" rx="8.00" ry="3.35" fill="#161616" fill-opacity="0.15" filter="url(#bs)"/>
<rect x="97.80" y="643.30" width="13.00" height="5.00" rx="2.50" fill="#161616" fill-opacity="0.90" filter="url(#bb)"/>
<ellipse cx="104.30" cy="645.80" rx="8.50" ry="3.70" fill="#161616" fill-opacity="0.16" filter="url(#bs)"/>
</g>
<rect x="34.00" y="637.40" width="83.70" height="16.00" fill="none" stroke="#111" stroke-width="1.2" />
<text x="31.80" y="576.38" font-size="8" text-anchor="end" fill="#222" font-weight="normal" >ETS1</text>
<text x="119.60" y="576.38" font-size="8" text-anchor="start" fill="#222" font-weight="normal" >-50kDa</text>
<text x="31.80" y="600.18" font-size="8" text-anchor="end" fill="#222" font-weight="normal" >Bcl2</text>
<text x="119.60" y="600.18" font-size="8" text-anchor="start" fill="#222" font-weight="normal" >-26kDa</text>
<text x="31.80" y="624.18" font-size="8" text-anchor="end" fill="#222" font-weight="normal" >Bax</text>
<text x="119.60" y="624.18" font-size="8" text-anchor="start" fill="#222" font-weight="normal" >-21kDa</text>
<text x="31.80" y="648.28" font-size="8" text-anchor="end" fill="#222" font-weight="normal" >GAPDH</text>
<text x="119.60" y="648.28" font-size="8" text-anchor="start" fill="#222" font-weight="normal" >-37kDa</text>
<text x="74.50" y="663.60" font-size="7.5" text-anchor="middle" fill="#222" font-weight="normal" >C4-2</text>
<text x="39.90" y="692.70" font-size="7.8" text-anchor="start" fill="#222" font-weight="normal" transform="rotate(-33 39.90 692.70)" >vector</text>
<text x="57.40" y="691.80" font-size="7.8" text-anchor="start" fill="#222" font-weight="normal" transform="rotate(-33 57.40 691.80)" >lv-circ</text>
<text x="74.00" y="691.80" font-size="7.8" text-anchor="start" fill="#222" font-weight="normal" transform="rotate(-33 74.00 691.80)" >lv-circ+</text>
<text x="89.00" y="693.50" font-size="7.8" text-anchor="start" fill="#222" font-weight="normal" transform="rotate(-33 89.00 693.50)" >nc-ETS1</text>
<text x="103.80" y="692.70" font-size="7.8" text-anchor="start" fill="#222" font-weight="normal" transform="rotate(-33 103.80 692.70)" >sh-circ+si-</text>
<text x="119.60" y="694.40" font-size="7.8" text-anchor="start" fill="#222" font-weight="normal" transform="rotate(-33 119.60 694.40)" >ETS1#03</text>
<rect x="34.00" y="696.10" width="83.70" height="16.50" fill="#ebebeb" />
<g clip-path="inset(0)">
<rect x="41.60" y="702.83" width="12.00" height="2.93" rx="1.46" fill="#161616" fill-opacity="0.74" filter="url(#bb)"/>
<ellipse cx="47.60" cy="704.30" rx="8.00" ry="2.67" fill="#161616" fill-opacity="0.13" filter="url(#bs)"/>
<rect x="59.90" y="702.38" width="13.00" height="3.85" rx="1.92" fill="#161616" fill-opacity="0.87" filter="url(#bb)"/>
<ellipse cx="66.40" cy="704.30" rx="8.50" ry="3.12" fill="#161616" fill-opacity="0.15" filter="url(#bs)"/>
<rect x="78.95" y="702.60" width="12.50" height="3.39" rx="1.69" fill="#161616" fill-opacity="0.78" filter="url(#bb)"/>
<ellipse cx="85.20" cy="704.30" rx="8.25" ry="2.89" fill="#161616" fill-opacity="0.14" filter="url(#bs)"/>
<rect x="98.05" y="702.72" width="12.50" height="3.16" rx="1.58" fill="#161616" fill-opacity="0.74" filter="url(#bb)"/>
<ellipse cx="104.30" cy="704.30" rx="8.25" ry="2.78" fill="#161616" fill-opacity="0.13" filter="url(#bs)"/>
</g>
<rect x="34.00" y="696.10" width="83.70" height="16.50" fill="none" stroke="#111" stroke-width="1.2" />
<text x="47.60" y="718.70" font-size="5.7" text-anchor="middle" fill="#1a1a1a" font-weight="normal" letter-spacing="0.25">0.727</text>
<text x="66.40" y="718.70" font-size="5.7" text-anchor="middle" fill="#1a1a1a" font-weight="normal" letter-spacing="0.25">0.919</text>
<text x="85.20" y="718.70" font-size="5.7" text-anchor="middle" fill="#1a1a1a" font-weight="normal" letter-spacing="0.25">0.862</text>
<text x="104.30" y="718.70" font-size="5.7" text-anchor="middle" fill="#1a1a1a" font-weight="normal" letter-spacing="0.25">0.690</text>
<rect x="34.00" y="720.20" width="83.70" height="16.20" fill="#ebebeb" />
<g clip-path="inset(0)">
<ellipse cx="85.20" cy="733.20" rx="4.00" ry="4.00" fill="#333" fill-opacity="0.15" filter="url(#bs)"/>
<rect x="41.10" y="726.50" width="13.00" height="3.39" rx="1.69" fill="#161616" fill-opacity="0.74" filter="url(#bb)"/>
<ellipse cx="47.60" cy="728.20" rx="8.50" ry="2.89" fill="#161616" fill-opacity="0.13" filter="url(#bs)"/>
<rect x="59.90" y="726.28" width="13.00" height="3.85" rx="1.92" fill="#161616" fill-opacity="0.85" filter="url(#bb)"/>
<ellipse cx="66.40" cy="728.20" rx="8.50" ry="3.12" fill="#161616" fill-opacity="0.15" filter="url(#bs)"/>
<rect x="78.70" y="726.39" width="13.00" height="3.62" rx="1.81" fill="#161616" fill-opacity="0.81" filter="url(#bb)"/>
<ellipse cx="85.20" cy="728.20" rx="8.50" ry="3.01" fill="#161616" fill-opacity="0.14" filter="url(#bs)"/>
<rect x="98.30" y="726.74" width="12.00" height="2.93" rx="1.46" fill="#161616" fill-opacity="0.64" filter="url(#bb)"/>
<ellipse cx="104.30" cy="728.20" rx="8.00" ry="2.67" fill="#161616" fill-opacity="0.11" filter="url(#bs)"/>
</g>
<rect x="34.00" y="720.20" width="83.70" height="16.20" fill="none" stroke="#111" stroke-width="1.2" />
<text x="47.60" y="742.50" font-size="5.7" text-anchor="middle" fill="#1a1a1a" font-weight="normal" letter-spacing="0.25">0.739</text>
<text x="66.40" y="742.50" font-size="5.7" text-anchor="middle" fill="#1a1a1a" font-weight="normal" letter-spacing="0.25">0.955</text>
<text x="85.20" y="742.50" font-size="5.7" text-anchor="middle" fill="#1a1a1a" font-weight="normal" letter-spacing="0.25">0.892</text>
<text x="104.30" y="742.50" font-size="5.7" text-anchor="middle" fill="#1a1a1a" font-weight="normal" letter-spacing="0.25">0.518</text>
<rect x="34.00" y="743.70" width="83.70" height="16.80" fill="#ebebeb" />
<g clip-path="inset(0)">
<rect x="41.10" y="751.29" width="13.00" height="3.62" rx="1.81" fill="#161616" fill-opacity="0.85" filter="url(#bb)"/>
<ellipse cx="47.60" cy="753.10" rx="8.50" ry="3.01" fill="#161616" fill-opacity="0.15" filter="url(#bs)"/>
<rect x="61.40" y="751.75" width="10.00" height="2.70" rx="1.35" fill="#161616" fill-opacity="0.74" filter="url(#bb)"/>
<ellipse cx="66.40" cy="753.10" rx="7.00" ry="2.55" fill="#161616" fill-opacity="0.13" filter="url(#bs)"/>
<rect x="79.20" y="751.18" width="12.00" height="3.85" rx="1.92" fill="#161616" fill-opacity="0.83" filter="url(#bb)"/>
<ellipse cx="85.20" cy="753.10" rx="8.00" ry="3.12" fill="#161616" fill-opacity="0.14" filter="url(#bs)"/>
<rect x="97.30" y="750.49" width="14.00" height="5.23" rx="2.62" fill="#161616" fill-opacity="0.90" filter="url(#bb)"/>
<ellipse cx="104.30" cy="753.10" rx="9.00" ry="3.82" fill="#161616" fill-opacity="0.16" filter="url(#bs)"/>
</g>
<rect x="34.00" y="743.70" width="83.70" height="16.80" fill="none" stroke="#111" stroke-width="1.2" />
<text x="47.60" y="766.30" font-size="5.7" text-anchor="middle" fill="#1a1a1a" font-weight="normal" letter-spacing="0.25">0.807</text>
<text x="66.40" y="766.30" font-size="5.7" text-anchor="middle" fill="#1a1a1a" font-weight="normal" letter-spacing="0.25">0.676</text>
<text x="85.20" y="766.30" font-size="5.7" text-anchor="middle" fill="#1a1a1a" font-weight="normal" letter-spacing="0.25">0.746</text>
<text x="104.30" y="766.30" font-size="5.7" text-anchor="middle" fill="#1a1a1a" font-weight="normal" letter-spacing="0.25">1.015</text>
<rect x="34.00" y="767.40" width="83.70" height="16.80" fill="#ebebeb" />
<g clip-path="inset(0)">
<ellipse cx="75.00" cy="779.60" rx="40.00" ry="3.00" fill="#333" fill-opacity="0.15" filter="url(#bs)"/>
<rect x="41.10" y="772.75" width="13.00" height="5.69" rx="2.84" fill="#161616" fill-opacity="0.90" filter="url(#bb)"/>
<ellipse cx="47.60" cy="775.60" rx="8.50" ry="4.04" fill="#161616" fill-opacity="0.16" filter="url(#bs)"/>
<rect x="60.40" y="773.33" width="12.00" height="4.54" rx="2.27" fill="#161616" fill-opacity="0.87" filter="url(#bb)"/>
<ellipse cx="66.40" cy="775.60" rx="8.00" ry="3.47" fill="#161616" fill-opacity="0.15" filter="url(#bs)"/>
<rect x="78.70" y="773.33" width="13.00" height="4.54" rx="2.27" fill="#161616" fill-opacity="0.87" filter="url(#bb)"/>
<ellipse cx="85.20" cy="775.60" rx="8.50" ry="3.47" fill="#161616" fill-opacity="0.15" filter="url(#bs)"/>
<rect x="97.80" y="774.49" width="13.00" height="5.23" rx="2.62" fill="#161616" fill-opacity="0.87" filter="url(#bb)"/>
<ellipse cx="104.30" cy="777.10" rx="8.50" ry="3.82" fill="#161616" fill-opacity="0.15" filter="url(#bs)"/>
<rect x="99.30" y="772.25" width="10.00" height="2.70" rx="1.35" fill="#161616" fill-opacity="0.55" filter="url(#bb)"/>
<ellipse cx="104.30" cy="773.60" rx="7.00" ry="2.55" fill="#161616" fill-opacity="0.10" filter="url(#bs)"/>
</g>
<rect x="34.00" y="767.40" width="83.70" height="16.80" fill="none" stroke="#111" stroke-width="1.2" />
<text x="31.80" y="707.18" font-size="8" text-anchor="end" fill="#222" font-weight="normal" >ETS1</text>
<text x="119.60" y="707.18" font-size="8" text-anchor="start" fill="#222" font-weight="normal" >-50kDa</text>
<text x="31.80" y="731.18" font-size="8" text-anchor="end" fill="#222" font-weight="normal" >Bcl2</text>
<text x="119.60" y="731.18" font-size="8" text-anchor="start" fill="#222" font-weight="normal" >-26kDa</text>
<text x="31.80" y="754.88" font-size="8" text-anchor="end" fill="#222" font-weight="normal" >Bax</text>
<text x="119.60" y="754.88" font-size="8" text-anchor="start" fill="#222" font-weight="normal" >-21kDa</text>
<text x="31.80" y="778.68" font-size="8" text-anchor="end" fill="#222" font-weight="normal" >α-Tubulin</text>
<text x="119.60" y="778.68" font-size="8" text-anchor="start" fill="#222" font-weight="normal" >-55kDa</text>
<text x="74.50" y="793.30" font-size="7.5" text-anchor="middle" fill="#222" font-weight="normal" >C4-2</text>
<text x="149.30" y="539.90" font-size="16" text-anchor="start" fill="#111" font-weight="normal" >L</text>
<text x="221.40" y="549.60" font-size="8" text-anchor="middle" fill="#222" font-weight="normal" >oligo</text>
<line x1="211.50" y1="551.90" x2="231.10" y2="551.90" stroke="#222" stroke-width="1" />
<text x="244.00" y="549.60" font-size="8" text-anchor="middle" fill="#222" font-weight="normal" >nc</text>
<line x1="234.90" y1="551.90" x2="252.40" y2="551.90" stroke="#222" stroke-width="1" />
<text x="291.50" y="549.60" font-size="8" text-anchor="middle" fill="#222" font-weight="normal" >sh-circPPFIA2</text>
<line x1="257.40" y1="551.90" x2="325.40" y2="551.90" stroke="#222" stroke-width="1" />
<text x="211.00" y="558.40" font-size="7.7" text-anchor="end" fill="#222" font-weight="normal" >miR-646 inhibitor</text>
<text x="211.00" y="567.70" font-size="7.7" text-anchor="end" fill="#222" font-weight="normal" >miR-1200 inhibitor</text>
<text x="223.20" y="558.40" font-size="7.5" text-anchor="middle" fill="#222" font-weight="normal" >-</text>
<text x="223.20" y="567.70" font-size="7.5" text-anchor="middle" fill="#222" font-weight="normal" >-</text>
<text x="242.20" y="558.40" font-size="7.5" text-anchor="middle" fill="#222" font-weight="normal" >-</text>
<text x="242.20" y="567.70" font-size="7.5" text-anchor="middle" fill="#222" font-weight="normal" >-</text>
<text x="262.00" y="558.40" font-size="7.5" text-anchor="middle" fill="#222" font-weight="normal" >-</text>
<text x="262.00" y="567.70" font-size="7.5" text-anchor="middle" fill="#222" font-weight="normal" >-</text>
<text x="281.60" y="558.40" font-size="7.5" text-anchor="middle" fill="#222" font-weight="normal" >+</text>
<text x="281.60" y="567.70" font-size="7.5" text-anchor="middle" fill="#222" font-weight="normal" >-</text>
<text x="300.60" y="558.40" font-size="7.5" text-anchor="middle" fill="#222" font-weight="normal" >-</text>
<text x="300.60" y="567.70" font-size="7.5" text-anchor="middle" fill="#222" font-weight="normal" >+</text>
<text x="320.40" y="558.40" font-size="7.5" text-anchor="middle" fill="#222" font-weight="normal" >+</text>
<text x="320.40" y="567.70" font-size="7.5" text-anchor="middle" fill="#222" font-weight="normal" >+</text>
<rect x="211.90" y="573.70" width="119.50" height="15.10" fill="#ebebeb" />
<g clip-path="inset(0)">
<ellipse cx="272.00" cy="585.20" rx="57.50" ry="3.00" fill="#333" fill-opacity="0.1" filter="url(#bs)"/>
<rect x="217.75" y="579.39" width="15.50" height="3.62" rx="1.81" fill="#161616" fill-opacity="0.83" filter="url(#bb)"/>
<ellipse cx="225.50" cy="581.20" rx="9.75" ry="3.01" fill="#161616" fill-opacity="0.14" filter="url(#bs)"/>
<rect x="236.55" y="579.62" width="15.50" height="3.16" rx="1.58" fill="#161616" fill-opacity="0.74" filter="url(#bb)"/>
<ellipse cx="244.30" cy="581.20" rx="9.75" ry="2.78" fill="#161616" fill-opacity="0.13" filter="url(#bs)"/>
<rect x="254.55" y="579.74" width="15.50" height="2.93" rx="1.46" fill="#161616" fill-opacity="0.69" filter="url(#bb)"/>
<ellipse cx="262.30" cy="581.20" rx="9.75" ry="2.67" fill="#161616" fill-opacity="0.12" filter="url(#bs)"/>
<rect x="272.35" y="580.03" width="15.50" height="2.93" rx="1.46" fill="#161616" fill-opacity="0.64" filter="url(#bb)"/>
<ellipse cx="280.10" cy="581.50" rx="9.75" ry="2.67" fill="#161616" fill-opacity="0.11" filter="url(#bs)"/>
<rect x="290.85" y="580.15" width="14.50" height="2.70" rx="1.35" fill="#161616" fill-opacity="0.55" filter="url(#bb)"/>
<ellipse cx="298.10" cy="581.50" rx="9.25" ry="2.55" fill="#161616" fill-opacity="0.10" filter="url(#bs)"/>
<rect x="308.25" y="578.41" width="16.50" height="5.58" rx="2.79" fill="#161616" fill-opacity="0.90" filter="url(#bb)"/>
<ellipse cx="316.50" cy="581.20" rx="10.25" ry="3.99" fill="#161616" fill-opacity="0.16" filter="url(#bs)"/>
</g>
<rect x="211.90" y="573.70" width="119.50" height="15.10" fill="none" stroke="#111" stroke-width="1.2" />
<text x="225.50" y="593.40" font-size="5.3" text-anchor="middle" fill="#1a1a1a" font-weight="normal" letter-spacing="0.15">0.918</text>
<text x="244.30" y="593.40" font-size="5.3" text-anchor="middle" fill="#1a1a1a" font-weight="normal" letter-spacing="0.15">0.888</text>
<text x="262.30" y="593.40" font-size="5.3" text-anchor="middle" fill="#1a1a1a" font-weight="normal" letter-spacing="0.15">0.687</text>
<text x="280.10" y="593.40" font-size="5.3" text-anchor="middle" fill="#1a1a1a" font-weight="normal" letter-spacing="0.15">0.741</text>
<text x="298.10" y="593.40" font-size="5.3" text-anchor="middle" fill="#1a1a1a" font-weight="normal" letter-spacing="0.15">0.714</text>
<text x="316.50" y="593.40" font-size="5.3" text-anchor="middle" fill="#1a1a1a" font-weight="normal" letter-spacing="0.15">1.123</text>
<rect x="211.90" y="595.10" width="119.50" height="15.20" fill="#d8d8d8" />
<g clip-path="inset(0)">
<ellipse cx="272.00" cy="605.70" rx="57.50" ry="4.00" fill="#333" fill-opacity="0.18" filter="url(#bs)"/>
<rect x="217.75" y="599.89" width="15.50" height="3.62" rx="1.81" fill="#161616" fill-opacity="0.69" filter="url(#bb)"/>
<ellipse cx="225.50" cy="601.70" rx="9.75" ry="3.01" fill="#161616" fill-opacity="0.12" filter="url(#bs)"/>
<rect x="236.55" y="599.66" width="15.50" height="4.08" rx="2.04" fill="#161616" fill-opacity="0.81" filter="url(#bb)"/>
<ellipse cx="244.30" cy="601.70" rx="9.75" ry="3.24" fill="#161616" fill-opacity="0.14" filter="url(#bs)"/>
<rect x="255.05" y="600.00" width="14.50" height="3.39" rx="1.69" fill="#161616" fill-opacity="0.66" filter="url(#bb)"/>
<ellipse cx="262.30" cy="601.70" rx="9.25" ry="2.89" fill="#161616" fill-opacity="0.12" filter="url(#bs)"/>
<rect x="272.35" y="599.66" width="15.50" height="4.08" rx="2.04" fill="#161616" fill-opacity="0.78" filter="url(#bb)"/>
<ellipse cx="280.10" cy="601.70" rx="9.75" ry="3.24" fill="#161616" fill-opacity="0.14" filter="url(#bs)"/>
<rect x="290.35" y="599.55" width="15.50" height="4.31" rx="2.15" fill="#161616" fill-opacity="0.81" filter="url(#bb)"/>
<ellipse cx="298.10" cy="601.70" rx="9.75" ry="3.35" fill="#161616" fill-opacity="0.14" filter="url(#bs)"/>
<rect x="308.25" y="599.09" width="16.50" height="5.23" rx="2.62" fill="#161616" fill-opacity="0.87" filter="url(#bb)"/>
<ellipse cx="316.50" cy="601.70" rx="10.25" ry="3.82" fill="#161616" fill-opacity="0.15" filter="url(#bs)"/>
</g>
<rect x="211.90" y="595.10" width="119.50" height="15.20" fill="none" stroke="#111" stroke-width="1.2" />
<text x="225.50" y="615.80" font-size="5.3" text-anchor="middle" fill="#1a1a1a" font-weight="normal" letter-spacing="0.15">0.949</text>
<text x="244.30" y="615.80" font-size="5.3" text-anchor="middle" fill="#1a1a1a" font-weight="normal" letter-spacing="0.15">0.974</text>
<text x="262.30" y="615.80" font-size="5.3" text-anchor="middle" fill="#1a1a1a" font-weight="normal" letter-spacing="0.15">0.823</text>
<text x="280.10" y="615.80" font-size="5.3" text-anchor="middle" fill="#1a1a1a" font-weight="normal" letter-spacing="0.15">0.937</text>
<text x="298.10" y="615.80" font-size="5.3" text-anchor="middle" fill="#1a1a1a" font-weight="normal" letter-spacing="0.15">1.001</text>
<text x="316.50" y="615.80" font-size="5.3" text-anchor="middle" fill="#1a1a1a" font-weight="normal" letter-spacing="0.15">1.106</text>
<rect x="211.90" y="617.00" width="119.50" height="14.90" fill="#e3e3e3" />
<g clip-path="inset(0)">
<rect x="217.25" y="621.59" width="16.50" height="5.23" rx="2.62" fill="#161616" fill-opacity="0.90" filter="url(#bb)"/>
<ellipse cx="225.50" cy="624.20" rx="10.25" ry="3.82" fill="#161616" fill-opacity="0.16" filter="url(#bs)"/>
<rect x="236.55" y="622.16" width="15.50" height="4.08" rx="2.04" fill="#161616" fill-opacity="0.81" filter="url(#bb)"/>
<ellipse cx="244.30" cy="624.20" rx="9.75" ry="3.24" fill="#161616" fill-opacity="0.14" filter="url(#bs)"/>
<rect x="255.05" y="622.50" width="14.50" height="3.39" rx="1.69" fill="#161616" fill-opacity="0.72" filter="url(#bb)"/>
<ellipse cx="262.30" cy="624.20" rx="9.25" ry="2.89" fill="#161616" fill-opacity="0.12" filter="url(#bs)"/>
<rect x="272.85" y="622.74" width="14.50" height="2.93" rx="1.46" fill="#161616" fill-opacity="0.60" filter="url(#bb)"/>
<ellipse cx="280.10" cy="624.20" rx="9.25" ry="2.67" fill="#161616" fill-opacity="0.10" filter="url(#bs)"/>
<rect x="290.85" y="622.74" width="14.50" height="2.93" rx="1.46" fill="#161616" fill-opacity="0.51" filter="url(#bb)"/>
<ellipse cx="298.10" cy="624.20" rx="9.25" ry="2.67" fill="#161616" fill-opacity="0.09" filter="url(#bs)"/>
<rect x="309.75" y="622.85" width="13.50" height="2.70" rx="1.35" fill="#161616" fill-opacity="0.41" filter="url(#bb)"/>
<ellipse cx="316.50" cy="624.20" rx="8.75" ry="2.55" fill="#161616" fill-opacity="0.07" filter="url(#bs)"/>
</g>
<rect x="211.90" y="617.00" width="119.50" height="14.90" fill="none" stroke="#111" stroke-width="1.2" />
<text x="225.50" y="637.70" font-size="5.3" text-anchor="middle" fill="#1a1a1a" font-weight="normal" letter-spacing="0.15">1.059</text>
<text x="244.30" y="637.70" font-size="5.3" text-anchor="middle" fill="#1a1a1a" font-weight="normal" letter-spacing="0.15">1.019</text>
<text x="262.30" y="637.70" font-size="5.3" text-anchor="middle" fill="#1a1a1a" font-weight="normal" letter-spacing="0.15">1.107</text>
<text x="280.10" y="637.70" font-size="5.3" text-anchor="middle" fill="#1a1a1a" font-weight="normal" letter-spacing="0.15">0.651</text>
<text x="298.10" y="637.70" font-size="5.3" text-anchor="middle" fill="#1a1a1a" font-weight="normal" letter-spacing="0.15">0.574</text>
<text x="316.50" y="637.70" font-size="5.3" text-anchor="middle" fill="#1a1a1a" font-weight="normal" letter-spacing="0.15">0.425</text>
<rect x="211.90" y="638.90" width="119.50" height="14.90" fill="#ebebeb" />
<g clip-path="inset(0)">
<rect x="217.75" y="643.79" width="15.50" height="3.62" rx="1.81" fill="#161616" fill-opacity="0.78" filter="url(#bb)"/>
<ellipse cx="225.50" cy="645.60" rx="9.75" ry="3.01" fill="#161616" fill-opacity="0.14" filter="url(#bs)"/>
<rect x="237.05" y="643.90" width="14.50" height="3.39" rx="1.69" fill="#161616" fill-opacity="0.74" filter="url(#bb)"/>
<ellipse cx="244.30" cy="645.60" rx="9.25" ry="2.89" fill="#161616" fill-opacity="0.13" filter="url(#bs)"/>
<rect x="254.55" y="643.68" width="15.50" height="3.85" rx="1.92" fill="#161616" fill-opacity="0.83" filter="url(#bb)"/>
<ellipse cx="262.30" cy="645.60" rx="9.75" ry="3.12" fill="#161616" fill-opacity="0.14" filter="url(#bs)"/>
<rect x="272.35" y="643.56" width="15.50" height="4.08" rx="2.04" fill="#161616" fill-opacity="0.85" filter="url(#bb)"/>
<ellipse cx="280.10" cy="645.60" rx="9.75" ry="3.24" fill="#161616" fill-opacity="0.15" filter="url(#bs)"/>
<rect x="290.85" y="643.79" width="14.50" height="3.62" rx="1.81" fill="#161616" fill-opacity="0.78" filter="url(#bb)"/>
<ellipse cx="298.10" cy="645.60" rx="9.25" ry="3.01" fill="#161616" fill-opacity="0.14" filter="url(#bs)"/>
<rect x="309.25" y="643.79" width="14.50" height="3.62" rx="1.81" fill="#161616" fill-opacity="0.78" filter="url(#bb)"/>
<ellipse cx="316.50" cy="645.60" rx="9.25" ry="3.01" fill="#161616" fill-opacity="0.14" filter="url(#bs)"/>
</g>
<rect x="211.90" y="638.90" width="119.50" height="14.90" fill="none" stroke="#111" stroke-width="1.2" />
<text x="208.50" y="584.08" font-size="8" text-anchor="end" fill="#222" font-weight="normal" >ETS1</text>
<text x="333.30" y="584.08" font-size="8" text-anchor="start" fill="#222" font-weight="normal" >-50kDa</text>
<text x="208.50" y="605.38" font-size="8" text-anchor="end" fill="#222" font-weight="normal" >Bcl2</text>
<text x="333.30" y="605.38" font-size="8" text-anchor="start" fill="#222" font-weight="normal" >-26kDa</text>
<text x="208.50" y="627.18" font-size="8" text-anchor="end" fill="#222" font-weight="normal" >Bax</text>
<text x="333.30" y="627.18" font-size="8" text-anchor="start" fill="#222" font-weight="normal" >-21kDa</text>
<text x="208.50" y="648.88" font-size="8" text-anchor="end" fill="#222" font-weight="normal" >GAPDH</text>
<text x="333.30" y="648.88" font-size="8" text-anchor="start" fill="#222" font-weight="normal" >-37kDa</text>
<line x1="175.30" y1="576.20" x2="175.30" y2="651.70" stroke="#222" stroke-width="1.1" />
<text x="169.80" y="613.50" font-size="8.4" text-anchor="middle" fill="#222" font-weight="normal" transform="rotate(-90 169.80 613.50)" >C4-2</text>
<text x="221.40" y="680.00" font-size="8" text-anchor="middle" fill="#222" font-weight="normal" >oligo</text>
<line x1="211.50" y1="682.30" x2="231.10" y2="682.30" stroke="#222" stroke-width="1" />
<text x="244.00" y="680.00" font-size="8" text-anchor="middle" fill="#222" font-weight="normal" >vc</text>
<line x1="234.90" y1="682.30" x2="252.40" y2="682.30" stroke="#222" stroke-width="1" />
<text x="291.50" y="680.00" font-size="8" text-anchor="middle" fill="#222" font-weight="normal" >circPPFIA2</text>
<line x1="257.40" y1="682.30" x2="325.40" y2="682.30" stroke="#222" stroke-width="1" />
<text x="211.00" y="688.80" font-size="7.7" text-anchor="end" fill="#222" font-weight="normal" >miR-646 mimic</text>
<text x="211.00" y="698.10" font-size="7.7" text-anchor="end" fill="#222" font-weight="normal" >miR-1200 mimic</text>
<text x="223.20" y="688.80" font-size="7.5" text-anchor="middle" fill="#222" font-weight="normal" >-</text>
<text x="223.20" y="698.10" font-size="7.5" text-anchor="middle" fill="#222" font-weight="normal" >-</text>
<text x="242.20" y="688.80" font-size="7.5" text-anchor="middle" fill="#222" font-weight="normal" >-</text>
<text x="242.20" y="698.10" font-size="7.5" text-anchor="middle" fill="#222" font-weight="normal" >-</text>
<text x="262.00" y="688.80" font-size="7.5" text-anchor="middle" fill="#222" font-weight="normal" >-</text>
<text x="262.00" y="698.10" font-size="7.5" text-anchor="middle" fill="#222" font-weight="normal" >-</text>
<text x="281.60" y="688.80" font-size="7.5" text-anchor="middle" fill="#222" font-weight="normal" >+</text>
<text x="281.60" y="698.10" font-size="7.5" text-anchor="middle" fill="#222" font-weight="normal" >-</text>
<text x="300.60" y="688.80" font-size="7.5" text-anchor="middle" fill="#222" font-weight="normal" >-</text>
<text x="300.60" y="698.10" font-size="7.5" text-anchor="middle" fill="#222" font-weight="normal" >+</text>
<text x="320.40" y="688.80" font-size="7.5" text-anchor="middle" fill="#222" font-weight="normal" >+</text>
<text x="320.40" y="698.10" font-size="7.5" text-anchor="middle" fill="#222" font-weight="normal" >+</text>
<rect x="211.90" y="704.10" width="119.50" height="15.70" fill="#ebebeb" />
<g clip-path="inset(0)">
<rect x="218.25" y="710.43" width="14.50" height="2.93" rx="1.46" fill="#161616" fill-opacity="0.55" filter="url(#bb)"/>
<ellipse cx="225.50" cy="711.90" rx="9.25" ry="2.67" fill="#161616" fill-opacity="0.10" filter="url(#bs)"/>
<rect x="236.55" y="710.09" width="15.50" height="3.62" rx="1.81" fill="#161616" fill-opacity="0.78" filter="url(#bb)"/>
<ellipse cx="244.30" cy="711.90" rx="9.75" ry="3.01" fill="#161616" fill-opacity="0.14" filter="url(#bs)"/>
<rect x="254.05" y="709.75" width="16.50" height="4.31" rx="2.15" fill="#161616" fill-opacity="0.87" filter="url(#bb)"/>
<ellipse cx="262.30" cy="711.90" rx="10.25" ry="3.35" fill="#161616" fill-opacity="0.15" filter="url(#bs)"/>
<rect x="272.35" y="709.86" width="15.50" height="4.08" rx="2.04" fill="#161616" fill-opacity="0.85" filter="url(#bb)"/>
<ellipse cx="280.10" cy="711.90" rx="9.75" ry="3.24" fill="#161616" fill-opacity="0.15" filter="url(#bs)"/>
<rect x="290.35" y="710.09" width="15.50" height="3.62" rx="1.81" fill="#161616" fill-opacity="0.78" filter="url(#bb)"/>
<ellipse cx="298.10" cy="711.90" rx="9.75" ry="3.01" fill="#161616" fill-opacity="0.14" filter="url(#bs)"/>
<rect x="309.75" y="710.55" width="13.50" height="2.70" rx="1.35" fill="#161616" fill-opacity="0.51" filter="url(#bb)"/>
<ellipse cx="316.50" cy="711.90" rx="8.75" ry="2.55" fill="#161616" fill-opacity="0.09" filter="url(#bs)"/>
</g>
<rect x="211.90" y="704.10" width="119.50" height="15.70" fill="none" stroke="#111" stroke-width="1.2" />
<text x="225.50" y="724.80" font-size="5.3" text-anchor="middle" fill="#1a1a1a" font-weight="normal" letter-spacing="0.15">0.695</text>
<text x="244.30" y="724.80" font-size="5.3" text-anchor="middle" fill="#1a1a1a" font-weight="normal" letter-spacing="0.15">0.868</text>
<text x="262.30" y="724.80" font-size="5.3" text-anchor="middle" fill="#1a1a1a" font-weight="normal" letter-spacing="0.15">1.149</text>
<text x="280.10" y="724.80" font-size="5.3" text-anchor="middle" fill="#1a1a1a" font-weight="normal" letter-spacing="0.15">1.002</text>
<text x="298.10" y="724.80" font-size="5.3" text-anchor="middle" fill="#1a1a1a" font-weight="normal" letter-spacing="0.15">0.990</text>
<text x="316.50" y="724.80" font-size="5.3" text-anchor="middle" fill="#1a1a1a" font-weight="normal" letter-spacing="0.15">0.555</text>
<rect x="211.90" y="726.60" width="119.50" height="15.30" fill="#d6d6d6" />
<g clip-path="inset(0)">
<ellipse cx="272.00" cy="736.30" rx="57.50" ry="6.00" fill="#333" fill-opacity="0.22" filter="url(#bs)"/>
<rect x="217.75" y="732.14" width="15.50" height="4.31" rx="2.15" fill="#161616" fill-opacity="0.74" filter="url(#bb)"/>
<ellipse cx="225.50" cy="734.30" rx="9.75" ry="3.35" fill="#161616" fill-opacity="0.13" filter="url(#bs)"/>
<rect x="236.55" y="732.26" width="15.50" height="4.08" rx="2.04" fill="#161616" fill-opacity="0.74" filter="url(#bb)"/>
<ellipse cx="244.30" cy="734.30" rx="9.75" ry="3.24" fill="#161616" fill-opacity="0.13" filter="url(#bs)"/>
<rect x="254.05" y="731.57" width="16.50" height="5.46" rx="2.73" fill="#161616" fill-opacity="0.87" filter="url(#bb)"/>
<ellipse cx="262.30" cy="734.30" rx="10.25" ry="3.93" fill="#161616" fill-opacity="0.15" filter="url(#bs)"/>
<rect x="272.35" y="732.14" width="15.50" height="4.31" rx="2.15" fill="#161616" fill-opacity="0.74" filter="url(#bb)"/>
<ellipse cx="280.10" cy="734.30" rx="9.75" ry="3.35" fill="#161616" fill-opacity="0.13" filter="url(#bs)"/>
<rect x="290.35" y="732.03" width="15.50" height="4.54" rx="2.27" fill="#161616" fill-opacity="0.78" filter="url(#bb)"/>
<ellipse cx="298.10" cy="734.30" rx="9.75" ry="3.47" fill="#161616" fill-opacity="0.14" filter="url(#bs)"/>
<rect x="308.75" y="732.14" width="15.50" height="4.31" rx="2.15" fill="#161616" fill-opacity="0.72" filter="url(#bb)"/>
<ellipse cx="316.50" cy="734.30" rx="9.75" ry="3.35" fill="#161616" fill-opacity="0.12" filter="url(#bs)"/>
</g>
<rect x="211.90" y="726.60" width="119.50" height="15.30" fill="none" stroke="#111" stroke-width="1.2" />
<text x="225.50" y="746.30" font-size="5.3" text-anchor="middle" fill="#1a1a1a" font-weight="normal" letter-spacing="0.15">0.674</text>
<text x="244.30" y="746.30" font-size="5.3" text-anchor="middle" fill="#1a1a1a" font-weight="normal" letter-spacing="0.15">0.768</text>
<text x="262.30" y="746.30" font-size="5.3" text-anchor="middle" fill="#1a1a1a" font-weight="normal" letter-spacing="0.15">1.038</text>
<text x="280.10" y="746.30" font-size="5.3" text-anchor="middle" fill="#1a1a1a" font-weight="normal" letter-spacing="0.15">0.907</text>
<text x="298.10" y="746.30" font-size="5.3" text-anchor="middle" fill="#1a1a1a" font-weight="normal" letter-spacing="0.15">0.936</text>
<text x="316.50" y="746.30" font-size="5.3" text-anchor="middle" fill="#1a1a1a" font-weight="normal" letter-spacing="0.15">0.712</text>
<rect x="211.90" y="748.00" width="119.50" height="15.40" fill="#e0e0e0" />
<g clip-path="inset(0)">
<ellipse cx="272.00" cy="758.80" rx="57.50" ry="3.00" fill="#333" fill-opacity="0.12" filter="url(#bs)"/>
<rect x="217.75" y="753.10" width="15.50" height="3.39" rx="1.69" fill="#161616" fill-opacity="0.69" filter="url(#bb)"/>
<ellipse cx="225.50" cy="754.80" rx="9.75" ry="2.89" fill="#161616" fill-opacity="0.12" filter="url(#bs)"/>
<rect x="236.05" y="752.80" width="16.50" height="5.00" rx="2.50" fill="#161616" fill-opacity="0.87" filter="url(#bb)"/>
<ellipse cx="244.30" cy="755.30" rx="10.25" ry="3.70" fill="#161616" fill-opacity="0.15" filter="url(#bs)"/>
<rect x="254.55" y="752.76" width="15.50" height="4.08" rx="2.04" fill="#161616" fill-opacity="0.81" filter="url(#bb)"/>
<ellipse cx="262.30" cy="754.80" rx="9.75" ry="3.24" fill="#161616" fill-opacity="0.14" filter="url(#bs)"/>
<rect x="272.85" y="753.60" width="14.50" height="3.39" rx="1.69" fill="#161616" fill-opacity="0.69" filter="url(#bb)"/>
<ellipse cx="280.10" cy="755.30" rx="9.25" ry="2.89" fill="#161616" fill-opacity="0.12" filter="url(#bs)"/>
<rect x="290.35" y="752.76" width="15.50" height="4.08" rx="2.04" fill="#161616" fill-opacity="0.81" filter="url(#bb)"/>
<ellipse cx="298.10" cy="754.80" rx="9.75" ry="3.24" fill="#161616" fill-opacity="0.14" filter="url(#bs)"/>
<rect x="308.75" y="752.76" width="15.50" height="4.08" rx="2.04" fill="#161616" fill-opacity="0.83" filter="url(#bb)"/>
<ellipse cx="316.50" cy="754.80" rx="9.75" ry="3.24" fill="#161616" fill-opacity="0.14" filter="url(#bs)"/>
</g>
<rect x="211.90" y="748.00" width="119.50" height="15.40" fill="none" stroke="#111" stroke-width="1.2" />
<text x="225.50" y="768.30" font-size="5.3" text-anchor="middle" fill="#1a1a1a" font-weight="normal" letter-spacing="0.15">0.784</text>
<text x="244.30" y="768.30" font-size="5.3" text-anchor="middle" fill="#1a1a1a" font-weight="normal" letter-spacing="0.15">0.957</text>
<text x="262.30" y="768.30" font-size="5.3" text-anchor="middle" fill="#1a1a1a" font-weight="normal" letter-spacing="0.15">0.861</text>
<text x="280.10" y="768.30" font-size="5.3" text-anchor="middle" fill="#1a1a1a" font-weight="normal" letter-spacing="0.15">0.878</text>
<text x="298.10" y="768.30" font-size="5.3" text-anchor="middle" fill="#1a1a1a" font-weight="normal" letter-spacing="0.15">0.809</text>
<text x="316.50" y="768.30" font-size="5.3" text-anchor="middle" fill="#1a1a1a" font-weight="normal" letter-spacing="0.15">0.917</text>
<rect x="211.90" y="769.50" width="119.50" height="14.70" fill="#ebebeb" />
<g clip-path="inset(0)">
<rect x="217.75" y="774.08" width="15.50" height="3.85" rx="1.92" fill="#161616" fill-opacity="0.83" filter="url(#bb)"/>
<ellipse cx="225.50" cy="776.00" rx="9.75" ry="3.12" fill="#161616" fill-opacity="0.14" filter="url(#bs)"/>
<rect x="237.05" y="774.80" width="14.50" height="3.39" rx="1.69" fill="#161616" fill-opacity="0.74" filter="url(#bb)"/>
<ellipse cx="244.30" cy="776.50" rx="9.25" ry="2.89" fill="#161616" fill-opacity="0.13" filter="url(#bs)"/>
<rect x="254.55" y="774.19" width="15.50" height="3.62" rx="1.81" fill="#161616" fill-opacity="0.81" filter="url(#bb)"/>
<ellipse cx="262.30" cy="776.00" rx="9.75" ry="3.01" fill="#161616" fill-opacity="0.14" filter="url(#bs)"/>
<rect x="272.35" y="773.96" width="15.50" height="4.08" rx="2.04" fill="#161616" fill-opacity="0.85" filter="url(#bb)"/>
<ellipse cx="280.10" cy="776.00" rx="9.75" ry="3.24" fill="#161616" fill-opacity="0.15" filter="url(#bs)"/>
<rect x="290.35" y="774.19" width="15.50" height="3.62" rx="1.81" fill="#161616" fill-opacity="0.81" filter="url(#bb)"/>
<ellipse cx="298.10" cy="776.00" rx="9.75" ry="3.01" fill="#161616" fill-opacity="0.14" filter="url(#bs)"/>
<rect x="309.25" y="774.19" width="14.50" height="3.62" rx="1.81" fill="#161616" fill-opacity="0.78" filter="url(#bb)"/>
<ellipse cx="316.50" cy="776.00" rx="9.25" ry="3.01" fill="#161616" fill-opacity="0.14" filter="url(#bs)"/>
</g>
<rect x="211.90" y="769.50" width="119.50" height="14.70" fill="none" stroke="#111" stroke-width="1.2" />
<text x="208.50" y="714.88" font-size="8" text-anchor="end" fill="#222" font-weight="normal" >ETS1</text>
<text x="333.30" y="714.88" font-size="8" text-anchor="start" fill="#222" font-weight="normal" >-50kDa</text>
<text x="208.50" y="736.88" font-size="8" text-anchor="end" fill="#222" font-weight="normal" >Bcl2</text>
<text x="333.30" y="736.88" font-size="8" text-anchor="start" fill="#222" font-weight="normal" >-26kDa</text>
<text x="208.50" y="758.38" font-size="8" text-anchor="end" fill="#222" font-weight="normal" >Bax</text>
<text x="333.30" y="758.38" font-size="8" text-anchor="start" fill="#222" font-weight="normal" >-21kDa</text>
<text x="208.50" y="779.38" font-size="8" text-anchor="end" fill="#222" font-weight="normal" >GAPDH</text>
<text x="333.30" y="779.38" font-size="8" text-anchor="start" fill="#222" font-weight="normal" >-37kDa</text>
<line x1="175.30" y1="707.50" x2="175.30" y2="783.60" stroke="#222" stroke-width="1.1" />
<text x="169.80" y="742.50" font-size="8.4" text-anchor="middle" fill="#222" font-weight="normal" transform="rotate(-90 169.80 742.50)" >C4-2</text>
<text x="361.00" y="540.00" font-size="16" text-anchor="start" fill="#111" font-weight="normal" >M</text>
<text x="455.60" y="546.60" font-size="7.9" text-anchor="middle" fill="#222" font-weight="normal" >C4-2</text>
<path d="M398.30 639.50 L425.40 638.16 L453.30 635.05 L480.20 626.15 L507.40 610.13" fill="none" stroke="#c9c9c9" stroke-width="1.9" stroke-linejoin="round"/>
<path d="M395.66 641.70L400.94 641.70L398.30 636.86Z" fill="#c9c9c9" stroke="none" stroke-width="0" />
<path d="M422.76 640.37L428.04 640.37L425.40 635.52Z" fill="#c9c9c9" stroke="none" stroke-width="0" />
<path d="M450.66 637.25L455.94 637.25L453.30 632.41Z" fill="#c9c9c9" stroke="none" stroke-width="0" />
<line x1="480.20" y1="624.81" x2="480.20" y2="627.49" stroke="#c9c9c9" stroke-width="1.1" />
<line x1="478.20" y1="624.81" x2="482.20" y2="624.81" stroke="#c9c9c9" stroke-width="1.1" />
<line x1="478.20" y1="627.49" x2="482.20" y2="627.49" stroke="#c9c9c9" stroke-width="1.1" />
<path d="M477.56 628.35L482.84 628.35L480.20 623.51Z" fill="#c9c9c9" stroke="none" stroke-width="0" />
<line x1="507.40" y1="608.35" x2="507.40" y2="611.91" stroke="#c9c9c9" stroke-width="1.1" />
<line x1="505.40" y1="608.35" x2="509.40" y2="608.35" stroke="#c9c9c9" stroke-width="1.1" />
<line x1="505.40" y1="611.91" x2="509.40" y2="611.91" stroke="#c9c9c9" stroke-width="1.1" />
<path d="M504.76 612.33L510.04 612.33L507.40 607.49Z" fill="#c9c9c9" stroke="none" stroke-width="0" />
<path d="M398.30 638.61 L425.40 636.83 L453.30 634.61 L480.20 623.48 L507.40 604.79" fill="none" stroke="#fbc9a8" stroke-width="1.9" stroke-linejoin="round"/>
<rect x="396.10" y="636.41" width="4.40" height="4.40" fill="#fbc9a8" />
<rect x="423.20" y="634.63" width="4.40" height="4.40" fill="#fbc9a8" />
<rect x="451.10" y="632.40" width="4.40" height="4.40" fill="#fbc9a8" />
<line x1="480.20" y1="622.14" x2="480.20" y2="624.82" stroke="#fbc9a8" stroke-width="1.1" />
<line x1="478.20" y1="622.14" x2="482.20" y2="622.14" stroke="#fbc9a8" stroke-width="1.1" />
<line x1="478.20" y1="624.82" x2="482.20" y2="624.82" stroke="#fbc9a8" stroke-width="1.1" />
<rect x="478.00" y="621.28" width="4.40" height="4.40" fill="#fbc9a8" />
<line x1="507.40" y1="601.23" x2="507.40" y2="608.35" stroke="#fbc9a8" stroke-width="1.1" />
<line x1="505.40" y1="601.23" x2="509.40" y2="601.23" stroke="#fbc9a8" stroke-width="1.1" />
<line x1="505.40" y1="608.35" x2="509.40" y2="608.35" stroke="#fbc9a8" stroke-width="1.1" />
<rect x="505.20" y="602.59" width="4.40" height="4.40" fill="#fbc9a8" />
<path d="M398.30 639.94 L425.40 636.38 L453.30 628.82 L480.20 613.25 L507.40 589.66" fill="none" stroke="#222" stroke-width="1.9" stroke-linejoin="round"/>
<circle cx="398.30" cy="639.94" r="2.20" fill="#222" />
<circle cx="425.40" cy="636.38" r="2.20" fill="#222" />
<circle cx="453.30" cy="628.82" r="2.20" fill="#222" />
<line x1="480.20" y1="611.02" x2="480.20" y2="615.47" stroke="#222" stroke-width="1.1" />
<line x1="478.20" y1="611.02" x2="482.20" y2="611.02" stroke="#222" stroke-width="1.1" />
<line x1="478.20" y1="615.47" x2="482.20" y2="615.47" stroke="#222" stroke-width="1.1" />
<circle cx="480.20" cy="613.25" r="2.20" fill="#222" />
<line x1="507.40" y1="586.99" x2="507.40" y2="592.33" stroke="#222" stroke-width="1.1" />
<line x1="505.40" y1="586.99" x2="509.40" y2="586.99" stroke="#222" stroke-width="1.1" />
<line x1="505.40" y1="592.33" x2="509.40" y2="592.33" stroke="#222" stroke-width="1.1" />
<circle cx="507.40" cy="589.66" r="2.20" fill="#222" />
<path d="M398.30 638.61 L425.40 633.72 L453.30 623.48 L480.20 605.24 L507.40 578.98" fill="none" stroke="#7aa2d2" stroke-width="1.9" stroke-linejoin="round"/>
<path d="M395.66 636.41L400.94 636.41L398.30 641.25Z" fill="#7aa2d2" stroke="none" stroke-width="0" />
<path d="M422.76 631.51L428.04 631.51L425.40 636.36Z" fill="#7aa2d2" stroke="none" stroke-width="0" />
<path d="M450.66 621.28L455.94 621.28L453.30 626.12Z" fill="#7aa2d2" stroke="none" stroke-width="0" />
<line x1="480.20" y1="603.46" x2="480.20" y2="607.01" stroke="#7aa2d2" stroke-width="1.1" />
<line x1="478.20" y1="603.46" x2="482.20" y2="603.46" stroke="#7aa2d2" stroke-width="1.1" />
<line x1="478.20" y1="607.01" x2="482.20" y2="607.01" stroke="#7aa2d2" stroke-width="1.1" />
<path d="M477.56 603.03L482.84 603.03L480.20 607.88Z" fill="#7aa2d2" stroke="none" stroke-width="0" />
<line x1="507.40" y1="575.42" x2="507.40" y2="582.54" stroke="#7aa2d2" stroke-width="1.1" />
<line x1="505.40" y1="575.42" x2="509.40" y2="575.42" stroke="#7aa2d2" stroke-width="1.1" />
<line x1="505.40" y1="582.54" x2="509.40" y2="582.54" stroke="#7aa2d2" stroke-width="1.1" />
<path d="M504.76 576.78L510.04 576.78L507.40 581.62Z" fill="#7aa2d2" stroke="none" stroke-width="0" />
<line x1="385.80" y1="558.90" x2="385.80" y2="649.15" stroke="#000" stroke-width="1.5" />
<line x1="383.30" y1="559.40" x2="385.80" y2="559.40" stroke="#000" stroke-width="1" />
<text x="382.10" y="561.85" font-size="6.8" text-anchor="end" fill="#111" font-weight="bold" >2.0</text>
<line x1="383.30" y1="581.65" x2="385.80" y2="581.65" stroke="#000" stroke-width="1" />
<text x="382.10" y="584.10" font-size="6.8" text-anchor="end" fill="#111" font-weight="bold" >1.5</text>
<line x1="383.30" y1="603.90" x2="385.80" y2="603.90" stroke="#000" stroke-width="1" />
<text x="382.10" y="606.35" font-size="6.8" text-anchor="end" fill="#111" font-weight="bold" >1.0</text>
<line x1="383.30" y1="626.15" x2="385.80" y2="626.15" stroke="#000" stroke-width="1" />
<text x="382.10" y="628.60" font-size="6.8" text-anchor="end" fill="#111" font-weight="bold" >0.5</text>
<line x1="383.30" y1="648.40" x2="385.80" y2="648.40" stroke="#000" stroke-width="1" />
<text x="382.10" y="650.85" font-size="6.8" text-anchor="end" fill="#111" font-weight="bold" >0.0</text>
<line x1="385.05" y1="648.40" x2="520.50" y2="648.40" stroke="#000" stroke-width="1.5" />
<line x1="398.30" y1="648.40" x2="398.30" y2="651.40" stroke="#000" stroke-width="1" />
<line x1="425.40" y1="648.40" x2="425.40" y2="651.40" stroke="#000" stroke-width="1" />
<line x1="453.30" y1="648.40" x2="453.30" y2="651.40" stroke="#000" stroke-width="1" />
<line x1="480.20" y1="648.40" x2="480.20" y2="651.40" stroke="#000" stroke-width="1" />
<line x1="507.40" y1="648.40" x2="507.40" y2="651.40" stroke="#000" stroke-width="1" />
<text x="398.30" y="661.20" font-size="7.5" text-anchor="middle" fill="#222" font-weight="bold" >1</text>
<text x="425.40" y="661.20" font-size="7.5" text-anchor="middle" fill="#222" font-weight="bold" >2</text>
<text x="453.30" y="661.20" font-size="7.5" text-anchor="middle" fill="#222" font-weight="bold" >3</text>
<text x="480.20" y="661.20" font-size="7.5" text-anchor="middle" fill="#222" font-weight="bold" >4</text>
<text x="507.40" y="661.20" font-size="7.5" text-anchor="middle" fill="#222" font-weight="bold" >5</text>
<text x="456.00" y="668.50" font-size="8" text-anchor="middle" fill="#222" font-weight="normal" >Days</text>
<line x1="390.80" y1="559.50" x2="400.50" y2="559.50" stroke="#222" stroke-width="1.9" />
<circle cx="395.65" cy="559.50" r="2.00" fill="#222" />
<text x="404.40" y="562.38" font-size="8" text-anchor="start" fill="#222" font-weight="normal" >sh-nc</text>
<line x1="390.80" y1="569.90" x2="400.50" y2="569.90" stroke="#fbc9a8" stroke-width="1.9" />
<rect x="393.65" y="567.90" width="4.00" height="4.00" fill="#fbc9a8" />
<text x="404.40" y="572.78" font-size="8" text-anchor="start" fill="#222" font-weight="normal" >sh-circ</text>
<line x1="390.80" y1="580.10" x2="400.50" y2="580.10" stroke="#c9c9c9" stroke-width="1.9" />
<path d="M393.25 582.10L398.05 582.10L395.65 577.70Z" fill="#c9c9c9" stroke="none" stroke-width="0" />
<text x="404.40" y="582.98" font-size="8" text-anchor="start" fill="#222" font-weight="normal" >sh-circ+vc-ETS1</text>
<line x1="390.80" y1="590.70" x2="400.50" y2="590.70" stroke="#7aa2d2" stroke-width="1.9" />
<path d="M393.25 588.70L398.05 588.70L395.65 593.10Z" fill="#7aa2d2" stroke="none" stroke-width="0" />
<text x="404.40" y="593.58" font-size="8" text-anchor="start" fill="#222" font-weight="normal" >sh-circ+ETS1</text>
<path d="M470.40 559.00L473.00 559.00L473.00 570.80L470.40 570.80" fill="none" stroke="#222" stroke-width="1.1" />
<text x="474.80" y="570.40" font-size="10.5" text-anchor="start" fill="#222" font-weight="normal" >****</text>
<path d="M470.40 579.40L473.00 579.40L473.00 591.40L470.40 591.40" fill="none" stroke="#222" stroke-width="1.1" />
<text x="474.80" y="590.80" font-size="10.5" text-anchor="start" fill="#222" font-weight="normal" >****</text>
<text x="369.50" y="604.00" font-size="7" text-anchor="middle" fill="#222" font-weight="bold" transform="rotate(-90 369.50 604.00)" >OD value(450nm)</text>
<text x="523.50" y="539.50" font-size="16" text-anchor="start" fill="#111" font-weight="normal" >N</text>
<text x="617.50" y="546.00" font-size="7.9" text-anchor="middle" fill="#222" font-weight="normal" >C4-2</text>
<path d="M562.80 641.99 L590.00 637.72 L616.70 627.75 L643.80 611.02 L670.80 585.39" fill="none" stroke="#c9c9c9" stroke-width="1.9" stroke-linejoin="round"/>
<path d="M560.16 644.19L565.44 644.19L562.80 639.35Z" fill="#c9c9c9" stroke="none" stroke-width="0" />
<path d="M587.36 639.92L592.64 639.92L590.00 635.08Z" fill="#c9c9c9" stroke="none" stroke-width="0" />
<path d="M614.06 629.95L619.34 629.95L616.70 625.11Z" fill="#c9c9c9" stroke="none" stroke-width="0" />
<line x1="643.80" y1="609.24" x2="643.80" y2="612.80" stroke="#c9c9c9" stroke-width="1.1" />
<line x1="641.80" y1="609.24" x2="645.80" y2="609.24" stroke="#c9c9c9" stroke-width="1.1" />
<line x1="641.80" y1="612.80" x2="645.80" y2="612.80" stroke="#c9c9c9" stroke-width="1.1" />
<path d="M641.16 613.22L646.44 613.22L643.80 608.38Z" fill="#c9c9c9" stroke="none" stroke-width="0" />
<line x1="670.80" y1="582.54" x2="670.80" y2="588.24" stroke="#c9c9c9" stroke-width="1.1" />
<line x1="668.80" y1="582.54" x2="672.80" y2="582.54" stroke="#c9c9c9" stroke-width="1.1" />
<line x1="668.80" y1="588.24" x2="672.80" y2="588.24" stroke="#c9c9c9" stroke-width="1.1" />
<path d="M668.16 587.59L673.44 587.59L670.80 582.75Z" fill="#c9c9c9" stroke="none" stroke-width="0" />
<path d="M562.80 641.99 L590.00 635.94 L616.70 624.90 L643.80 605.68 L670.80 573.28" fill="none" stroke="#fbc9a8" stroke-width="1.9" stroke-linejoin="round"/>
<rect x="560.60" y="639.79" width="4.40" height="4.40" fill="#fbc9a8" />
<rect x="587.80" y="633.74" width="4.40" height="4.40" fill="#fbc9a8" />
<line x1="616.70" y1="622.77" x2="616.70" y2="627.04" stroke="#fbc9a8" stroke-width="1.1" />
<line x1="614.70" y1="622.77" x2="618.70" y2="622.77" stroke="#fbc9a8" stroke-width="1.1" />
<line x1="614.70" y1="627.04" x2="618.70" y2="627.04" stroke="#fbc9a8" stroke-width="1.1" />
<rect x="614.50" y="622.70" width="4.40" height="4.40" fill="#fbc9a8" />
<line x1="643.80" y1="602.83" x2="643.80" y2="608.53" stroke="#fbc9a8" stroke-width="1.1" />
<line x1="641.80" y1="602.83" x2="645.80" y2="602.83" stroke="#fbc9a8" stroke-width="1.1" />
<line x1="641.80" y1="608.53" x2="645.80" y2="608.53" stroke="#fbc9a8" stroke-width="1.1" />
<rect x="641.60" y="603.48" width="4.40" height="4.40" fill="#fbc9a8" />
<line x1="670.80" y1="566.88" x2="670.80" y2="579.69" stroke="#fbc9a8" stroke-width="1.1" />
<line x1="668.80" y1="566.88" x2="672.80" y2="566.88" stroke="#fbc9a8" stroke-width="1.1" />
<line x1="668.80" y1="579.69" x2="672.80" y2="579.69" stroke="#fbc9a8" stroke-width="1.1" />
<rect x="668.60" y="571.08" width="4.40" height="4.40" fill="#fbc9a8" />
<path d="M562.80 641.99 L590.00 639.14 L616.70 632.38 L643.80 621.70 L670.80 604.97" fill="none" stroke="#222" stroke-width="1.9" stroke-linejoin="round"/>
<circle cx="562.80" cy="641.99" r="2.20" fill="#222" />
<circle cx="590.00" cy="639.14" r="2.20" fill="#222" />
<line x1="616.70" y1="630.24" x2="616.70" y2="634.52" stroke="#222" stroke-width="1.1" />
<line x1="614.70" y1="630.24" x2="618.70" y2="630.24" stroke="#222" stroke-width="1.1" />
<line x1="614.70" y1="634.52" x2="618.70" y2="634.52" stroke="#222" stroke-width="1.1" />
<circle cx="616.70" cy="632.38" r="2.20" fill="#222" />
<line x1="643.80" y1="619.92" x2="643.80" y2="623.48" stroke="#222" stroke-width="1.1" />
<line x1="641.80" y1="619.92" x2="645.80" y2="619.92" stroke="#222" stroke-width="1.1" />
<line x1="641.80" y1="623.48" x2="645.80" y2="623.48" stroke="#222" stroke-width="1.1" />
<circle cx="643.80" cy="621.70" r="2.20" fill="#222" />
<line x1="670.80" y1="601.76" x2="670.80" y2="608.17" stroke="#222" stroke-width="1.1" />
<line x1="668.80" y1="601.76" x2="672.80" y2="601.76" stroke="#222" stroke-width="1.1" />
<line x1="668.80" y1="608.17" x2="672.80" y2="608.17" stroke="#222" stroke-width="1.1" />
<circle cx="670.80" cy="604.97" r="2.20" fill="#222" />
<path d="M562.80 641.99 L590.00 639.86 L616.70 636.30 L643.80 626.68 L670.80 615.29" fill="none" stroke="#7aa2d2" stroke-width="1.9" stroke-linejoin="round"/>
<path d="M560.16 639.79L565.44 639.79L562.80 644.63Z" fill="#7aa2d2" stroke="none" stroke-width="0" />
<path d="M587.36 637.66L592.64 637.66L590.00 642.50Z" fill="#7aa2d2" stroke="none" stroke-width="0" />
<line x1="616.70" y1="634.87" x2="616.70" y2="637.72" stroke="#7aa2d2" stroke-width="1.1" />
<line x1="614.70" y1="634.87" x2="618.70" y2="634.87" stroke="#7aa2d2" stroke-width="1.1" />
<line x1="614.70" y1="637.72" x2="618.70" y2="637.72" stroke="#7aa2d2" stroke-width="1.1" />
<path d="M614.06 634.10L619.34 634.10L616.70 638.94Z" fill="#7aa2d2" stroke="none" stroke-width="0" />
<line x1="643.80" y1="624.90" x2="643.80" y2="628.46" stroke="#7aa2d2" stroke-width="1.1" />
<line x1="641.80" y1="624.90" x2="645.80" y2="624.90" stroke="#7aa2d2" stroke-width="1.1" />
<line x1="641.80" y1="628.46" x2="645.80" y2="628.46" stroke="#7aa2d2" stroke-width="1.1" />
<path d="M641.16 624.48L646.44 624.48L643.80 629.32Z" fill="#7aa2d2" stroke="none" stroke-width="0" />
<line x1="670.80" y1="612.44" x2="670.80" y2="618.14" stroke="#7aa2d2" stroke-width="1.1" />
<line x1="668.80" y1="612.44" x2="672.80" y2="612.44" stroke="#7aa2d2" stroke-width="1.1" />
<line x1="668.80" y1="618.14" x2="672.80" y2="618.14" stroke="#7aa2d2" stroke-width="1.1" />
<path d="M668.16 613.09L673.44 613.09L670.80 617.93Z" fill="#7aa2d2" stroke="none" stroke-width="0" />
<line x1="549.90" y1="558.90" x2="549.90" y2="649.15" stroke="#000" stroke-width="1.5" />
<line x1="547.40" y1="559.40" x2="549.90" y2="559.40" stroke="#000" stroke-width="1" />
<text x="546.20" y="561.85" font-size="6.8" text-anchor="end" fill="#111" font-weight="bold" >2.5</text>
<line x1="547.40" y1="577.20" x2="549.90" y2="577.20" stroke="#000" stroke-width="1" />
<text x="546.20" y="579.65" font-size="6.8" text-anchor="end" fill="#111" font-weight="bold" >2.0</text>
<line x1="547.40" y1="595.00" x2="549.90" y2="595.00" stroke="#000" stroke-width="1" />
<text x="546.20" y="597.45" font-size="6.8" text-anchor="end" fill="#111" font-weight="bold" >1.5</text>
<line x1="547.40" y1="612.80" x2="549.90" y2="612.80" stroke="#000" stroke-width="1" />
<text x="546.20" y="615.25" font-size="6.8" text-anchor="end" fill="#111" font-weight="bold" >1.0</text>
<line x1="547.40" y1="630.60" x2="549.90" y2="630.60" stroke="#000" stroke-width="1" />
<text x="546.20" y="633.05" font-size="6.8" text-anchor="end" fill="#111" font-weight="bold" >0.5</text>
<line x1="547.40" y1="648.40" x2="549.90" y2="648.40" stroke="#000" stroke-width="1" />
<text x="546.20" y="650.85" font-size="6.8" text-anchor="end" fill="#111" font-weight="bold" >0.0</text>
<line x1="549.15" y1="648.40" x2="685.00" y2="648.40" stroke="#000" stroke-width="1.5" />
<line x1="562.80" y1="648.40" x2="562.80" y2="651.40" stroke="#000" stroke-width="1" />
<line x1="590.00" y1="648.40" x2="590.00" y2="651.40" stroke="#000" stroke-width="1" />
<line x1="616.70" y1="648.40" x2="616.70" y2="651.40" stroke="#000" stroke-width="1" />
<line x1="643.80" y1="648.40" x2="643.80" y2="651.40" stroke="#000" stroke-width="1" />
<line x1="670.80" y1="648.40" x2="670.80" y2="651.40" stroke="#000" stroke-width="1" />
<text x="562.80" y="661.20" font-size="7.5" text-anchor="middle" fill="#222" font-weight="bold" >1</text>
<text x="590.00" y="661.20" font-size="7.5" text-anchor="middle" fill="#222" font-weight="bold" >2</text>
<text x="616.70" y="661.20" font-size="7.5" text-anchor="middle" fill="#222" font-weight="bold" >3</text>
<text x="643.80" y="661.20" font-size="7.5" text-anchor="middle" fill="#222" font-weight="bold" >4</text>
<text x="670.80" y="661.20" font-size="7.5" text-anchor="middle" fill="#222" font-weight="bold" >5</text>
<text x="617.80" y="668.50" font-size="8" text-anchor="middle" fill="#222" font-weight="normal" >Days</text>
<line x1="553.80" y1="559.50" x2="564.00" y2="559.50" stroke="#222" stroke-width="1.9" />
<circle cx="558.90" cy="559.50" r="2.00" fill="#222" />
<text x="567.30" y="562.38" font-size="8" text-anchor="start" fill="#222" font-weight="normal" >vector</text>
<line x1="553.80" y1="570.40" x2="564.00" y2="570.40" stroke="#fbc9a8" stroke-width="1.9" />
<rect x="556.90" y="568.40" width="4.00" height="4.00" fill="#fbc9a8" />
<text x="567.30" y="573.28" font-size="8" text-anchor="start" fill="#222" font-weight="normal" >lv-circ</text>
<line x1="553.80" y1="581.00" x2="564.00" y2="581.00" stroke="#c9c9c9" stroke-width="1.9" />
<path d="M556.50 583.00L561.30 583.00L558.90 578.60Z" fill="#c9c9c9" stroke="none" stroke-width="0" />
<text x="567.30" y="583.88" font-size="8" text-anchor="start" fill="#222" font-weight="normal" >lv-circ+nc-ETS1</text>
<line x1="553.80" y1="591.90" x2="564.00" y2="591.90" stroke="#7aa2d2" stroke-width="1.9" />
<path d="M556.50 589.90L561.30 589.90L558.90 594.30Z" fill="#7aa2d2" stroke="none" stroke-width="0" />
<text x="567.30" y="594.78" font-size="8" text-anchor="start" fill="#222" font-weight="normal" >lv-circ+si-</text>
<text x="567.30" y="605.40" font-size="8" text-anchor="start" fill="#222" font-weight="normal" >ETS1#03</text>
<path d="M630.40 559.20L633.00 559.20L633.00 571.30L630.40 571.30" fill="none" stroke="#222" stroke-width="1.1" />
<text x="635.20" y="570.90" font-size="10.5" text-anchor="start" fill="#222" font-weight="normal" >****</text>
<path d="M630.40 580.80L633.00 580.80L633.00 592.10L630.40 592.10" fill="none" stroke="#222" stroke-width="1.1" />
<text x="635.20" y="591.90" font-size="10.5" text-anchor="start" fill="#222" font-weight="normal" >****</text>
<text x="531.00" y="604.00" font-size="7" text-anchor="middle" fill="#222" font-weight="bold" transform="rotate(-90 531.00 604.00)" >OD value(450nm)</text>
<text x="361.00" y="683.60" font-size="16" text-anchor="start" fill="#111" font-weight="normal" >O</text>
<rect x="393.50" y="688.50" width="11.20" height="4.20" fill="#6f7073" />
<text x="408.40" y="693.50" font-size="8" text-anchor="start" fill="#222" font-weight="normal" >sh-nc</text>
<rect x="441.90" y="688.50" width="11.20" height="4.20" fill="#9d9fa3" />
<text x="455.60" y="693.50" font-size="8" text-anchor="start" fill="#222" font-weight="normal" >sh-circ+vc-ETS1</text>
<rect x="393.50" y="700.60" width="11.20" height="4.20" fill="#7ba3d3" />
<text x="408.40" y="705.60" font-size="8" text-anchor="start" fill="#222" font-weight="normal" >sh-circ</text>
<rect x="441.90" y="700.60" width="11.20" height="4.20" fill="#fdd0b0" />
<text x="455.60" y="705.60" font-size="8" text-anchor="start" fill="#222" font-weight="normal" >sh-circ+ETS1</text>
<line x1="398.00" y1="760.58" x2="398.00" y2="757.78" stroke="#333" stroke-width="1.3" />
<line x1="395.50" y1="757.78" x2="400.50" y2="757.78" stroke="#333" stroke-width="1.3" />
<rect x="393.00" y="760.58" width="10.00" height="33.52" fill="#6f7073" />
<line x1="412.85" y1="773.99" x2="412.85" y2="771.97" stroke="#2f5f9f" stroke-width="1.3" />
<line x1="410.35" y1="771.97" x2="415.35" y2="771.97" stroke="#2f5f9f" stroke-width="1.3" />
<rect x="407.90" y="773.99" width="9.90" height="20.12" fill="#7ba3d3" />
<line x1="427.75" y1="774.54" x2="427.75" y2="773.09" stroke="#333" stroke-width="1.3" />
<line x1="425.25" y1="773.09" x2="430.25" y2="773.09" stroke="#333" stroke-width="1.3" />
<rect x="422.80" y="774.54" width="9.90" height="19.56" fill="#9d9fa3" />
<line x1="442.65" y1="738.78" x2="442.65" y2="734.31" stroke="#333" stroke-width="1.3" />
<line x1="440.15" y1="734.31" x2="445.15" y2="734.31" stroke="#333" stroke-width="1.3" />
<rect x="437.70" y="738.78" width="9.90" height="55.32" fill="#fdd0b0" />
<line x1="467.25" y1="755.55" x2="467.25" y2="752.75" stroke="#333" stroke-width="1.3" />
<line x1="464.75" y1="752.75" x2="469.75" y2="752.75" stroke="#333" stroke-width="1.3" />
<rect x="462.30" y="755.55" width="9.90" height="38.55" fill="#6f7073" />
<line x1="482.15" y1="769.29" x2="482.15" y2="767.50" stroke="#2f5f9f" stroke-width="1.3" />
<line x1="479.65" y1="767.50" x2="484.65" y2="767.50" stroke="#2f5f9f" stroke-width="1.3" />
<rect x="477.20" y="769.29" width="9.90" height="24.81" fill="#7ba3d3" />
<line x1="497.00" y1="768.40" x2="497.00" y2="765.27" stroke="#333" stroke-width="1.3" />
<line x1="494.50" y1="765.27" x2="499.50" y2="765.27" stroke="#333" stroke-width="1.3" />
<rect x="492.00" y="768.40" width="10.00" height="25.70" fill="#9d9fa3" />
<line x1="511.85" y1="733.20" x2="511.85" y2="728.73" stroke="#333" stroke-width="1.3" />
<line x1="509.35" y1="728.73" x2="514.35" y2="728.73" stroke="#333" stroke-width="1.3" />
<rect x="506.90" y="733.20" width="9.90" height="60.90" fill="#fdd0b0" />
<line x1="386.80" y1="704.20" x2="386.80" y2="794.85" stroke="#000" stroke-width="1.5" />
<line x1="384.30" y1="704.70" x2="386.80" y2="704.70" stroke="#000" stroke-width="1" />
<text x="383.10" y="707.15" font-size="6.8" text-anchor="end" fill="#111" font-weight="bold" >800</text>
<line x1="384.30" y1="727.05" x2="386.80" y2="727.05" stroke="#000" stroke-width="1" />
<text x="383.10" y="729.50" font-size="6.8" text-anchor="end" fill="#111" font-weight="bold" >600</text>
<line x1="384.30" y1="749.40" x2="386.80" y2="749.40" stroke="#000" stroke-width="1" />
<text x="383.10" y="751.85" font-size="6.8" text-anchor="end" fill="#111" font-weight="bold" >400</text>
<line x1="384.30" y1="771.75" x2="386.80" y2="771.75" stroke="#000" stroke-width="1" />
<text x="383.10" y="774.20" font-size="6.8" text-anchor="end" fill="#111" font-weight="bold" >200</text>
<line x1="384.30" y1="794.10" x2="386.80" y2="794.10" stroke="#000" stroke-width="1" />
<text x="383.10" y="796.55" font-size="6.8" text-anchor="end" fill="#111" font-weight="bold" >0</text>
<line x1="386.05" y1="794.10" x2="521.80" y2="794.10" stroke="#000" stroke-width="1.5" />
<line x1="420.00" y1="794.10" x2="420.00" y2="797.10" stroke="#000" stroke-width="1" />
<line x1="489.10" y1="794.10" x2="489.10" y2="797.10" stroke="#000" stroke-width="1" />
<line x1="397.20" y1="752.40" x2="412.90" y2="752.40" stroke="#222" stroke-width="1.5" />
<text x="405.05" y="751.20" font-size="8" text-anchor="middle" fill="#222" font-weight="normal" letter-spacing="1.2">***</text>
<line x1="428.30" y1="730.00" x2="444.40" y2="730.00" stroke="#222" stroke-width="1.5" />
<text x="436.35" y="728.80" font-size="8" text-anchor="middle" fill="#222" font-weight="normal" letter-spacing="1.2">****</text>
<line x1="466.70" y1="746.40" x2="482.10" y2="746.40" stroke="#222" stroke-width="1.5" />
<text x="474.40" y="745.20" font-size="8" text-anchor="middle" fill="#222" font-weight="normal" letter-spacing="1.2">***</text>
<line x1="497.80" y1="723.80" x2="511.90" y2="723.80" stroke="#222" stroke-width="1.5" />
<text x="504.85" y="722.60" font-size="8" text-anchor="middle" fill="#222" font-weight="normal" letter-spacing="1.2">****</text>
<text x="420.80" y="806.30" font-size="8" text-anchor="middle" fill="#222" font-weight="normal" >C4-2</text>
<text x="490.30" y="806.30" font-size="8" text-anchor="middle" fill="#222" font-weight="normal" >LNCaP</text>
<text x="369.80" y="749.40" font-size="7" text-anchor="middle" fill="#222" font-weight="bold" transform="rotate(-90 369.80 749.40)" >Colony number</text>
<text x="524.80" y="683.00" font-size="16" text-anchor="start" fill="#111" font-weight="normal" >P</text>
<rect x="557.30" y="688.70" width="10.40" height="4.20" fill="#6f7073" />
<text x="571.80" y="693.70" font-size="8" text-anchor="start" fill="#222" font-weight="normal" >vector</text>
<rect x="601.90" y="688.70" width="10.80" height="4.20" fill="#9d9fa3" />
<text x="616.30" y="693.70" font-size="8" text-anchor="start" fill="#222" font-weight="normal" >lv-circ+nc-ETS1</text>
<rect x="557.30" y="700.70" width="10.40" height="4.20" fill="#7ba3d3" />
<text x="571.80" y="705.70" font-size="8" text-anchor="start" fill="#222" font-weight="normal" >lv-circ</text>
<rect x="601.90" y="700.70" width="10.80" height="4.20" fill="#fdd0b0" />
<text x="616.30" y="705.70" font-size="8" text-anchor="start" fill="#222" font-weight="normal" >lv-circ+si-ETS1#03</text>
<line x1="560.95" y1="760.20" x2="560.95" y2="758.76" stroke="#333" stroke-width="1.3" />
<line x1="558.45" y1="758.76" x2="563.45" y2="758.76" stroke="#333" stroke-width="1.3" />
<rect x="556.10" y="760.20" width="9.70" height="33.70" fill="#6f7073" />
<line x1="575.90" y1="734.23" x2="575.90" y2="730.03" stroke="#2f5f9f" stroke-width="1.3" />
<line x1="573.40" y1="730.03" x2="578.40" y2="730.03" stroke="#2f5f9f" stroke-width="1.3" />
<rect x="571.10" y="734.23" width="9.60" height="59.67" fill="#7ba3d3" />
<line x1="590.60" y1="737.32" x2="590.60" y2="732.57" stroke="#333" stroke-width="1.3" />
<line x1="588.10" y1="732.57" x2="593.10" y2="732.57" stroke="#333" stroke-width="1.3" />
<rect x="585.80" y="737.32" width="9.60" height="56.58" fill="#9d9fa3" />
<line x1="605.50" y1="768.71" x2="605.50" y2="765.72" stroke="#333" stroke-width="1.3" />
<line x1="603.00" y1="765.72" x2="608.00" y2="765.72" stroke="#333" stroke-width="1.3" />
<rect x="600.70" y="768.71" width="9.60" height="25.19" fill="#fdd0b0" />
<line x1="630.05" y1="749.70" x2="630.05" y2="746.61" stroke="#333" stroke-width="1.3" />
<line x1="627.55" y1="746.61" x2="632.55" y2="746.61" stroke="#333" stroke-width="1.3" />
<rect x="625.20" y="749.70" width="9.70" height="44.20" fill="#6f7073" />
<line x1="644.80" y1="729.81" x2="644.80" y2="725.61" stroke="#2f5f9f" stroke-width="1.3" />
<line x1="642.30" y1="725.61" x2="647.30" y2="725.61" stroke="#2f5f9f" stroke-width="1.3" />
<rect x="640.00" y="729.81" width="9.60" height="64.09" fill="#7ba3d3" />
<line x1="659.20" y1="728.15" x2="659.20" y2="725.61" stroke="#333" stroke-width="1.3" />
<line x1="656.70" y1="725.61" x2="661.70" y2="725.61" stroke="#333" stroke-width="1.3" />
<rect x="654.40" y="728.15" width="9.60" height="65.75" fill="#9d9fa3" />
<line x1="674.15" y1="766.27" x2="674.15" y2="765.39" stroke="#333" stroke-width="1.3" />
<line x1="671.65" y1="765.39" x2="676.65" y2="765.39" stroke="#333" stroke-width="1.3" />
<rect x="669.30" y="766.27" width="9.70" height="27.62" fill="#fdd0b0" />
<line x1="550.10" y1="705.00" x2="550.10" y2="794.65" stroke="#000" stroke-width="1.5" />
<line x1="547.60" y1="705.50" x2="550.10" y2="705.50" stroke="#000" stroke-width="1" />
<text x="546.40" y="707.95" font-size="6.8" text-anchor="end" fill="#111" font-weight="bold" >800</text>
<line x1="547.60" y1="727.60" x2="550.10" y2="727.60" stroke="#000" stroke-width="1" />
<text x="546.40" y="730.05" font-size="6.8" text-anchor="end" fill="#111" font-weight="bold" >600</text>
<line x1="547.60" y1="749.70" x2="550.10" y2="749.70" stroke="#000" stroke-width="1" />
<text x="546.40" y="752.15" font-size="6.8" text-anchor="end" fill="#111" font-weight="bold" >400</text>
<line x1="547.60" y1="771.80" x2="550.10" y2="771.80" stroke="#000" stroke-width="1" />
<text x="546.40" y="774.25" font-size="6.8" text-anchor="end" fill="#111" font-weight="bold" >200</text>
<line x1="547.60" y1="793.90" x2="550.10" y2="793.90" stroke="#000" stroke-width="1" />
<text x="546.40" y="796.35" font-size="6.8" text-anchor="end" fill="#111" font-weight="bold" >0</text>
<line x1="549.35" y1="793.90" x2="685.00" y2="793.90" stroke="#000" stroke-width="1.5" />
<line x1="583.80" y1="793.90" x2="583.80" y2="796.90" stroke="#000" stroke-width="1" />
<line x1="652.00" y1="793.90" x2="652.00" y2="796.90" stroke="#000" stroke-width="1" />
<line x1="559.70" y1="724.00" x2="575.90" y2="724.00" stroke="#222" stroke-width="1.5" />
<text x="567.80" y="722.80" font-size="8" text-anchor="middle" fill="#222" font-weight="normal" letter-spacing="1.2">****</text>
<line x1="589.80" y1="727.10" x2="605.50" y2="727.10" stroke="#222" stroke-width="1.5" />
<text x="597.65" y="725.90" font-size="8" text-anchor="middle" fill="#222" font-weight="normal" letter-spacing="1.2">****</text>
<line x1="629.60" y1="720.90" x2="644.00" y2="720.90" stroke="#222" stroke-width="1.5" />
<text x="636.80" y="719.70" font-size="8" text-anchor="middle" fill="#222" font-weight="normal" letter-spacing="1.2">***</text>
<line x1="659.20" y1="719.90" x2="674.60" y2="719.90" stroke="#222" stroke-width="1.5" />
<text x="666.90" y="718.70" font-size="8" text-anchor="middle" fill="#222" font-weight="normal" letter-spacing="1.2">****</text>
<text x="583.80" y="807.00" font-size="8" text-anchor="middle" fill="#222" font-weight="normal" >C4-2</text>
<text x="652.00" y="807.00" font-size="8" text-anchor="middle" fill="#222" font-weight="normal" >22RV1</text>
<text x="533.00" y="749.40" font-size="7" text-anchor="middle" fill="#222" font-weight="bold" transform="rotate(-90 533.00 749.40)" >Colony number</text>
<defs><filter id="qb" x="-50%" y="-50%" width="200%" height="200%"><feGaussianBlur stdDeviation="0.7"/></filter></defs>
<text x="7.00" y="817.80" font-size="16" text-anchor="start" fill="#111" font-weight="normal" >Q</text>
<text x="48.40" y="836.00" font-size="8.1" text-anchor="middle" fill="#222" font-weight="normal" >Para-carcinoma(G10)</text>
<text x="114.30" y="836.00" font-size="8.1" text-anchor="middle" fill="#222" font-weight="normal" >GS:3+3(G03)</text>
<text x="167.50" y="836.00" font-size="8.1" text-anchor="middle" fill="#222" font-weight="normal" >GS:3+4(E05)</text>
<text x="222.50" y="836.00" font-size="8.1" text-anchor="middle" fill="#222" font-weight="normal" >GS:4+3(I05)</text>
<text x="279.60" y="836.00" font-size="8.1" text-anchor="middle" fill="#222" font-weight="normal" >GS:4+4(C05)</text>
<text x="334.50" y="836.00" font-size="8.1" text-anchor="middle" fill="#222" font-weight="normal" >GS:4+5(B09)</text>
<text x="20.20" y="868.60" font-size="8.1" text-anchor="middle" fill="#222" font-weight="normal" transform="rotate(-90 20.20 868.60)" >ETS1-IHC</text>
<text x="20.20" y="928.40" font-size="8.1" text-anchor="middle" fill="#222" font-weight="normal" transform="rotate(-90 20.20 928.40)" >40X</text>
<rect x="22.90" y="839.00" width="55.90" height="56.00" fill="#faf8f5" />
<circle cx="50.50" cy="865.50" r="27.00" fill="#e6d6c2"/>
<filter id="tx1" x="0" y="0" width="100%" height="100%" color-interpolation-filters="sRGB"><feTurbulence type="fractalNoise" baseFrequency="0.08 0.16" numOctaves="3" seed="11" result="n"/><feColorMatrix in="n" type="matrix" values="0 0 0 0 0.988 0 0 0 0 0.980 0 0 0 0 0.965 1 0 0 0 0"/><feComponentTransfer><feFuncA type="table" tableValues="0 0 0 0.28 0.90 1"/></feComponentTransfer><feComposite operator="in" in2="SourceGraphic"/></filter>
<circle cx="50.50" cy="865.50" r="27.00" fill="#000" filter="url(#tx1)"/>
<filter id="tx2" x="0" y="0" width="100%" height="100%" color-interpolation-filters="sRGB"><feTurbulence type="fractalNoise" baseFrequency="0.45" numOctaves="2" seed="31" result="n"/><feColorMatrix in="n" type="matrix" values="0 0 0 0 0.722 0 0 0 0 0.580 0 0 0 0 0.424 1 0 0 0 0"/><feComponentTransfer><feFuncA type="table" tableValues="0 0 0 0.25 0.45"/></feComponentTransfer><feComposite operator="in" in2="SourceGraphic"/></filter>
<circle cx="50.50" cy="865.50" r="27.00" fill="#000" filter="url(#tx2)"/>
<ellipse cx="40" cy="850" rx="7" ry="4.5" fill="#fbf8f4" fill-opacity="0.8" filter="url(#qb)"/>
<ellipse cx="57" cy="847" rx="6" ry="4" fill="#fbf8f4" fill-opacity="0.8" filter="url(#qb)"/>
<ellipse cx="47" cy="845" rx="3" ry="3" fill="#fbf8f4" fill-opacity="0.8" filter="url(#qb)"/>
<ellipse cx="50" cy="861" rx="13" ry="1.6" fill="#fbf8f4" fill-opacity="0.8" filter="url(#qb)"/>
<ellipse cx="56" cy="868" rx="9" ry="2" fill="#fbf8f4" fill-opacity="0.8" filter="url(#qb)"/>
<ellipse cx="37" cy="870" rx="6" ry="1.8" fill="#fbf8f4" fill-opacity="0.8" filter="url(#qb)"/>
<ellipse cx="63" cy="872" rx="5" ry="2" fill="#fbf8f4" fill-opacity="0.8" filter="url(#qb)"/>
<ellipse cx="33" cy="860" rx="4" ry="1.5" fill="#fbf8f4" fill-opacity="0.8" filter="url(#qb)"/>
<ellipse cx="45" cy="856" rx="8" ry="1.3" fill="#fbf8f4" fill-opacity="0.8" filter="url(#qb)"/>
<rect x="42.00" y="877.00" width="15.80" height="15.30" fill="none" stroke="#222" stroke-width="0.9" />
<rect x="79.90" y="839.00" width="55.40" height="56.00" fill="#faf8f5" />
<circle cx="107.50" cy="866.00" r="26.00" fill="#e3d0b8"/>
<filter id="tx3" x="0" y="0" width="100%" height="100%" color-interpolation-filters="sRGB"><feTurbulence type="fractalNoise" baseFrequency="0.08 0.16" numOctaves="3" seed="12" result="n"/><feColorMatrix in="n" type="matrix" values="0 0 0 0 0.988 0 0 0 0 0.980 0 0 0 0 0.965 1 0 0 0 0"/><feComponentTransfer><feFuncA type="table" tableValues="0 0 0 0.17 0.70 1"/></feComponentTransfer><feComposite operator="in" in2="SourceGraphic"/></filter>
<circle cx="107.50" cy="866.00" r="26.00" fill="#000" filter="url(#tx3)"/>
<filter id="tx4" x="0" y="0" width="100%" height="100%" color-interpolation-filters="sRGB"><feTurbulence type="fractalNoise" baseFrequency="0.45" numOctaves="2" seed="32" result="n"/><feColorMatrix in="n" type="matrix" values="0 0 0 0 0.722 0 0 0 0 0.580 0 0 0 0 0.424 1 0 0 0 0"/><feComponentTransfer><feFuncA type="table" tableValues="0 0 0 0.25 0.45"/></feComponentTransfer><feComposite operator="in" in2="SourceGraphic"/></filter>
<circle cx="107.50" cy="866.00" r="26.00" fill="#000" filter="url(#tx4)"/>
<ellipse cx="127" cy="850" rx="9" ry="7" fill="#fbf8f4" fill-opacity="0.8" filter="url(#qb)"/>
<ellipse cx="131" cy="862" rx="5" ry="6" fill="#fbf8f4" fill-opacity="0.8" filter="url(#qb)"/>
<ellipse cx="124" cy="886" rx="9" ry="6" fill="#fbf8f4" fill-opacity="0.8" filter="url(#qb)"/>
<ellipse cx="108" cy="868" rx="11" ry="1.6" fill="#fbf8f4" fill-opacity="0.8" filter="url(#qb)"/>
<ellipse cx="100" cy="876" rx="8" ry="1.4" fill="#fbf8f4" fill-opacity="0.8" filter="url(#qb)"/>
<ellipse cx="118" cy="878" rx="6" ry="1.5" fill="#fbf8f4" fill-opacity="0.8" filter="url(#qb)"/>
<rect x="95.90" y="850.00" width="15.80" height="15.20" fill="none" stroke="#222" stroke-width="0.9" />
<rect x="136.40" y="839.00" width="56.00" height="56.00" fill="#faf8f5" />
<circle cx="164.50" cy="867.00" r="27.00" fill="#e2cfb5"/>
<filter id="tx5" x="0" y="0" width="100%" height="100%" color-interpolation-filters="sRGB"><feTurbulence type="fractalNoise" baseFrequency="0.08 0.16" numOctaves="3" seed="13" result="n"/><feColorMatrix in="n" type="matrix" values="0 0 0 0 0.988 0 0 0 0 0.980 0 0 0 0 0.965 1 0 0 0 0"/><feComponentTransfer><feFuncA type="table" tableValues="0 0 0 0.10 0.55 1"/></feComponentTransfer><feComposite operator="in" in2="SourceGraphic"/></filter>
<circle cx="164.50" cy="867.00" r="27.00" fill="#000" filter="url(#tx5)"/>
<filter id="tx6" x="0" y="0" width="100%" height="100%" color-interpolation-filters="sRGB"><feTurbulence type="fractalNoise" baseFrequency="0.45" numOctaves="2" seed="33" result="n"/><feColorMatrix in="n" type="matrix" values="0 0 0 0 0.722 0 0 0 0 0.580 0 0 0 0 0.424 1 0 0 0 0"/><feComponentTransfer><feFuncA type="table" tableValues="0 0 0 0.25 0.45"/></feComponentTransfer><feComposite operator="in" in2="SourceGraphic"/></filter>
<circle cx="164.50" cy="867.00" r="27.00" fill="#000" filter="url(#tx6)"/>
<ellipse cx="170" cy="856" rx="5" ry="2.5" fill="#fbf8f4" fill-opacity="0.8" filter="url(#qb)"/>
<ellipse cx="178" cy="866" rx="4" ry="6" fill="#fbf8f4" fill-opacity="0.8" filter="url(#qb)"/>
<ellipse cx="156" cy="878" rx="6" ry="1.5" fill="#fbf8f4" fill-opacity="0.8" filter="url(#qb)"/>
<ellipse cx="168" cy="884" rx="3" ry="2" fill="#fbf8f4" fill-opacity="0.8" filter="url(#qb)"/>
<rect x="150.30" y="857.30" width="15.80" height="15.00" fill="none" stroke="#222" stroke-width="0.9" />
<rect x="192.90" y="839.00" width="55.10" height="56.00" fill="#faf8f5" />
<circle cx="221.00" cy="867.00" r="23.00" fill="#dcc5a8"/>
<filter id="tx7" x="0" y="0" width="100%" height="100%" color-interpolation-filters="sRGB"><feTurbulence type="fractalNoise" baseFrequency="0.08 0.16" numOctaves="3" seed="14" result="n"/><feColorMatrix in="n" type="matrix" values="0 0 0 0 0.988 0 0 0 0 0.980 0 0 0 0 0.965 1 0 0 0 0"/><feComponentTransfer><feFuncA type="table" tableValues="0 0 0 0.12 0.60 1"/></feComponentTransfer><feComposite operator="in" in2="SourceGraphic"/></filter>
<circle cx="221.00" cy="867.00" r="23.00" fill="#000" filter="url(#tx7)"/>
<filter id="tx8" x="0" y="0" width="100%" height="100%" color-interpolation-filters="sRGB"><feTurbulence type="fractalNoise" baseFrequency="0.45" numOctaves="2" seed="34" result="n"/><feColorMatrix in="n" type="matrix" values="0 0 0 0 0.722 0 0 0 0 0.580 0 0 0 0 0.424 1 0 0 0 0"/><feComponentTransfer><feFuncA type="table" tableValues="0 0 0 0.25 0.45"/></feComponentTransfer><feComposite operator="in" in2="SourceGraphic"/></filter>
<circle cx="221.00" cy="867.00" r="23.00" fill="#000" filter="url(#tx8)"/>
<ellipse cx="222" cy="874" rx="4" ry="1.5" fill="#fbf8f4" fill-opacity="0.8" filter="url(#qb)"/>
<ellipse cx="233" cy="866" rx="3" ry="2" fill="#fbf8f4" fill-opacity="0.8" filter="url(#qb)"/>
<rect x="200.20" y="857.80" width="15.80" height="15.80" fill="none" stroke="#222" stroke-width="0.9" />
<rect x="249.40" y="839.00" width="55.10" height="56.00" fill="#faf8f5" />
<circle cx="278.30" cy="865.70" r="24.50" fill="#d6bd9e"/>
<filter id="tx9" x="0" y="0" width="100%" height="100%" color-interpolation-filters="sRGB"><feTurbulence type="fractalNoise" baseFrequency="0.08 0.16" numOctaves="3" seed="15" result="n"/><feColorMatrix in="n" type="matrix" values="0 0 0 0 0.988 0 0 0 0 0.980 0 0 0 0 0.965 1 0 0 0 0"/><feComponentTransfer><feFuncA type="table" tableValues="0 0 0 0.10 0.55 1"/></feComponentTransfer><feComposite operator="in" in2="SourceGraphic"/></filter>
<circle cx="278.30" cy="865.70" r="24.50" fill="#000" filter="url(#tx9)"/>
<filter id="tx10" x="0" y="0" width="100%" height="100%" color-interpolation-filters="sRGB"><feTurbulence type="fractalNoise" baseFrequency="0.45" numOctaves="2" seed="35" result="n"/><feColorMatrix in="n" type="matrix" values="0 0 0 0 0.722 0 0 0 0 0.580 0 0 0 0 0.424 1 0 0 0 0"/><feComponentTransfer><feFuncA type="table" tableValues="0 0 0 0.25 0.45"/></feComponentTransfer><feComposite operator="in" in2="SourceGraphic"/></filter>
<circle cx="278.30" cy="865.70" r="24.50" fill="#000" filter="url(#tx10)"/>
<ellipse cx="289" cy="879" rx="4" ry="2" fill="#fbf8f4" fill-opacity="0.8" filter="url(#qb)"/>
<ellipse cx="270" cy="885" rx="3" ry="2" fill="#fbf8f4" fill-opacity="0.8" filter="url(#qb)"/>
<rect x="283.00" y="858.40" width="15.80" height="15.20" fill="none" stroke="#222" stroke-width="0.9" />
<rect x="305.90" y="839.00" width="54.60" height="56.00" fill="#faf8f5" />
<circle cx="334.00" cy="867.00" r="22.50" fill="#dcc3a2"/>
<filter id="tx11" x="0" y="0" width="100%" height="100%" color-interpolation-filters="sRGB"><feTurbulence type="fractalNoise" baseFrequency="0.08 0.16" numOctaves="3" seed="16" result="n"/><feColorMatrix in="n" type="matrix" values="0 0 0 0 0.988 0 0 0 0 0.980 0 0 0 0 0.965 1 0 0 0 0"/><feComponentTransfer><feFuncA type="table" tableValues="0 0 0 0.03 0.40 1"/></feComponentTransfer><feComposite operator="in" in2="SourceGraphic"/></filter>
<circle cx="334.00" cy="867.00" r="22.50" fill="#000" filter="url(#tx11)"/>
<filter id="tx12" x="0" y="0" width="100%" height="100%" color-interpolation-filters="sRGB"><feTurbulence type="fractalNoise" baseFrequency="0.45" numOctaves="2" seed="36" result="n"/><feColorMatrix in="n" type="matrix" values="0 0 0 0 0.722 0 0 0 0 0.580 0 0 0 0 0.424 1 0 0 0 0"/><feComponentTransfer><feFuncA type="table" tableValues="0 0 0 0.25 0.45"/></feComponentTransfer><feComposite operator="in" in2="SourceGraphic"/></filter>
<circle cx="334.00" cy="867.00" r="22.50" fill="#000" filter="url(#tx12)"/>
<rect x="331.30" y="855.20" width="15.30" height="15.30" fill="none" stroke="#222" stroke-width="0.9" />
<rect x="22.90" y="896.70" width="55.90" height="55.30" fill="#ecdfcf"/>
<filter id="tx13" x="0" y="0" width="100%" height="100%" color-interpolation-filters="sRGB"><feTurbulence type="fractalNoise" baseFrequency="0.05 0.18" numOctaves="3" seed="51" result="n"/><feColorMatrix in="n" type="matrix" values="0 0 0 0 0.992 0 0 0 0 0.980 0 0 0 0 0.961 1 0 0 0 0"/><feComponentTransfer><feFuncA type="table" tableValues="0 0 0.3 0.8 1"/></feComponentTransfer><feComposite operator="in" in2="SourceGraphic"/></filter>
<rect x="22.90" y="896.70" width="55.90" height="55.30" fill="#000" filter="url(#tx13)"/>
<filter id="tx14" x="0" y="0" width="100%" height="100%" color-interpolation-filters="sRGB"><feTurbulence type="fractalNoise" baseFrequency="0.35" numOctaves="2" seed="61" result="n"/><feColorMatrix in="n" type="matrix" values="0 0 0 0 0.784 0 0 0 0 0.659 0 0 0 0 0.533 1 0 0 0 0"/><feComponentTransfer><feFuncA type="table" tableValues="0 0 0 0.3 0.5"/></feComponentTransfer><feComposite operator="in" in2="SourceGraphic"/></filter>
<rect x="22.90" y="896.70" width="55.90" height="55.30" fill="#000" filter="url(#tx14)"/>
<rect x="79.90" y="896.70" width="55.40" height="55.30" fill="#e5d3bc"/>
<filter id="tx15" x="0" y="0" width="100%" height="100%" color-interpolation-filters="sRGB"><feTurbulence type="fractalNoise" baseFrequency="0.1" numOctaves="3" seed="52" result="n"/><feColorMatrix in="n" type="matrix" values="0 0 0 0 0.973 0 0 0 0 0.941 0 0 0 0 0.902 1 0 0 0 0"/><feComponentTransfer><feFuncA type="table" tableValues="0 0 0.2 0.6 0.8"/></feComponentTransfer><feComposite operator="in" in2="SourceGraphic"/></filter>
<rect x="79.90" y="896.70" width="55.40" height="55.30" fill="#000" filter="url(#tx15)"/>
<filter id="tx16" x="0" y="0" width="100%" height="100%" color-interpolation-filters="sRGB"><feTurbulence type="fractalNoise" baseFrequency="0.3" numOctaves="2" seed="62" result="n"/><feColorMatrix in="n" type="matrix" values="0 0 0 0 0.722 0 0 0 0 0.573 0 0 0 0 0.439 1 0 0 0 0"/><feComponentTransfer><feFuncA type="table" tableValues="0 0 0 0.45 0.6"/></feComponentTransfer><feComposite operator="in" in2="SourceGraphic"/></filter>
<rect x="79.90" y="896.70" width="55.40" height="55.30" fill="#000" filter="url(#tx16)"/>
<rect x="136.40" y="896.70" width="56.00" height="55.30" fill="#e8d7c0"/>
<filter id="tx17" x="0" y="0" width="100%" height="100%" color-interpolation-filters="sRGB"><feTurbulence type="fractalNoise" baseFrequency="0.04 0.14" numOctaves="3" seed="53" result="n"/><feColorMatrix in="n" type="matrix" values="0 0 0 0 0.973 0 0 0 0 0.941 0 0 0 0 0.894 1 0 0 0 0"/><feComponentTransfer><feFuncA type="table" tableValues="0 0 0.3 0.7"/></feComponentTransfer><feComposite operator="in" in2="SourceGraphic"/></filter>
<rect x="136.40" y="896.70" width="56.00" height="55.30" fill="#000" filter="url(#tx17)"/>
<filter id="tx18" x="0" y="0" width="100%" height="100%" color-interpolation-filters="sRGB"><feTurbulence type="fractalNoise" baseFrequency="0.35" numOctaves="2" seed="63" result="n"/><feColorMatrix in="n" type="matrix" values="0 0 0 0 0.753 0 0 0 0 0.612 0 0 0 0 0.471 1 0 0 0 0"/><feComponentTransfer><feFuncA type="table" tableValues="0 0 0 0.35 0.5"/></feComponentTransfer><feComposite operator="in" in2="SourceGraphic"/></filter>
<rect x="136.40" y="896.70" width="56.00" height="55.30" fill="#000" filter="url(#tx18)"/>
<rect x="192.90" y="896.70" width="55.10" height="55.30" fill="#e4d0b6"/>
<filter id="tx19" x="0" y="0" width="100%" height="100%" color-interpolation-filters="sRGB"><feTurbulence type="fractalNoise" baseFrequency="0.1" numOctaves="3" seed="54" result="n"/><feColorMatrix in="n" type="matrix" values="0 0 0 0 0.973 0 0 0 0 0.941 0 0 0 0 0.902 1 0 0 0 0"/><feComponentTransfer><feFuncA type="table" tableValues="0 0 0.3 0.7 0.8"/></feComponentTransfer><feComposite operator="in" in2="SourceGraphic"/></filter>
<rect x="192.90" y="896.70" width="55.10" height="55.30" fill="#000" filter="url(#tx19)"/>
<filter id="tx20" x="0" y="0" width="100%" height="100%" color-interpolation-filters="sRGB"><feTurbulence type="fractalNoise" baseFrequency="0.35" numOctaves="2" seed="64" result="n"/><feColorMatrix in="n" type="matrix" values="0 0 0 0 0.706 0 0 0 0 0.549 0 0 0 0 0.408 1 0 0 0 0"/><feComponentTransfer><feFuncA type="table" tableValues="0 0 0 0.4 0.6"/></feComponentTransfer><feComposite operator="in" in2="SourceGraphic"/></filter>
<rect x="192.90" y="896.70" width="55.10" height="55.30" fill="#000" filter="url(#tx20)"/>
<rect x="249.40" y="896.70" width="55.10" height="55.30" fill="#d4bc9e"/>
<filter id="tx21" x="0" y="0" width="100%" height="100%" color-interpolation-filters="sRGB"><feTurbulence type="fractalNoise" baseFrequency="0.09" numOctaves="3" seed="55" result="n"/><feColorMatrix in="n" type="matrix" values="0 0 0 0 0.937 0 0 0 0 0.902 0 0 0 0 0.855 1 0 0 0 0"/><feComponentTransfer><feFuncA type="table" tableValues="0 0 0 0.45 0.75"/></feComponentTransfer><feComposite operator="in" in2="SourceGraphic"/></filter>
<rect x="249.40" y="896.70" width="55.10" height="55.30" fill="#000" filter="url(#tx21)"/>
<filter id="tx22" x="0" y="0" width="100%" height="100%" color-interpolation-filters="sRGB"><feTurbulence type="fractalNoise" baseFrequency="0.35" numOctaves="2" seed="65" result="n"/><feColorMatrix in="n" type="matrix" values="0 0 0 0 0.549 0 0 0 0 0.471 0 0 0 0 0.408 1 0 0 0 0"/><feComponentTransfer><feFuncA type="table" tableValues="0 0 0 0.45 0.7"/></feComponentTransfer><feComposite operator="in" in2="SourceGraphic"/></filter>
<rect x="249.40" y="896.70" width="55.10" height="55.30" fill="#000" filter="url(#tx22)"/>
<rect x="305.90" y="896.70" width="54.60" height="55.30" fill="#e4cba8"/>
<filter id="tx23" x="0" y="0" width="100%" height="100%" color-interpolation-filters="sRGB"><feTurbulence type="fractalNoise" baseFrequency="0.2" numOctaves="2" seed="56" result="n"/><feColorMatrix in="n" type="matrix" values="0 0 0 0 0.961 0 0 0 0 0.918 0 0 0 0 0.859 1 0 0 0 0"/><feComponentTransfer><feFuncA type="table" tableValues="0 0 0.3 0.6"/></feComponentTransfer><feComposite operator="in" in2="SourceGraphic"/></filter>
<rect x="305.90" y="896.70" width="54.60" height="55.30" fill="#000" filter="url(#tx23)"/>
<filter id="tx24" x="0" y="0" width="100%" height="100%" color-interpolation-filters="sRGB"><feTurbulence type="fractalNoise" baseFrequency="0.5" numOctaves="2" seed="66" result="n"/><feColorMatrix in="n" type="matrix" values="0 0 0 0 0.690 0 0 0 0 0.541 0 0 0 0 0.400 1 0 0 0 0"/><feComponentTransfer><feFuncA type="table" tableValues="0 0 0.1 0.5 0.6"/></feComponentTransfer><feComposite operator="in" in2="SourceGraphic"/></filter>
<rect x="305.90" y="896.70" width="54.60" height="55.30" fill="#000" filter="url(#tx24)"/>
<text x="372.50" y="829.00" font-size="16" text-anchor="start" fill="#111" font-weight="normal" >R</text>
<text x="436.60" y="839.80" font-size="9" text-anchor="middle" fill="#222" font-weight="normal" >sh-nc</text>
<text x="506.90" y="839.80" font-size="9" text-anchor="middle" fill="#222" font-weight="normal" >sh-circ</text>
<text x="575.90" y="839.80" font-size="9" text-anchor="middle" fill="#222" font-weight="normal" >vector</text>
<text x="645.20" y="839.80" font-size="9" text-anchor="middle" fill="#222" font-weight="normal" >lv-circ</text>
<text x="381.00" y="895.50" font-size="8.7" text-anchor="middle" fill="#222" font-weight="normal" transform="rotate(-90 381.00 895.50)" >ETS1-IHC</text>
<line x1="383.50" y1="855.00" x2="383.50" y2="893.00" stroke="#222" stroke-width="0.9" />
<line x1="383.50" y1="898.00" x2="383.50" y2="940.00" stroke="#222" stroke-width="0.9" />
<text x="390.50" y="869.00" font-size="7" text-anchor="middle" fill="#222" font-weight="normal" transform="rotate(-90 390.50 869.00)" >Subcutaneous</text>
<text x="398.50" y="869.00" font-size="7" text-anchor="middle" fill="#222" font-weight="normal" transform="rotate(-90 398.50 869.00)" >tumor</text>
<text x="390.50" y="922.00" font-size="7" text-anchor="middle" fill="#222" font-weight="normal" transform="rotate(-90 390.50 922.00)" >Lung Metastatic</text>
<text x="398.50" y="922.00" font-size="7" text-anchor="middle" fill="#222" font-weight="normal" transform="rotate(-90 398.50 922.00)" >tumor</text>
<rect x="401.00" y="843.50" width="68.00" height="51.10" fill="#dcc4cc"/>
<filter id="tx25" x="0" y="0" width="100%" height="100%" color-interpolation-filters="sRGB"><feTurbulence type="fractalNoise" baseFrequency="0.42" numOctaves="2" seed="71" result="n"/><feColorMatrix in="n" type="matrix" values="0 0 0 0 0.416 0 0 0 0 0.329 0 0 0 0 0.565 1 0 0 0 0"/><feComponentTransfer><feFuncA type="table" tableValues="0 0 0.25 0.72 0.85"/></feComponentTransfer><feComposite operator="in" in2="SourceGraphic"/></filter>
<rect x="401.00" y="843.50" width="68.00" height="51.10" fill="#000" filter="url(#tx25)"/>
<filter id="tx26" x="0" y="0" width="100%" height="100%" color-interpolation-filters="sRGB"><feTurbulence type="fractalNoise" baseFrequency="0.4" numOctaves="2" seed="81" result="n"/><feColorMatrix in="n" type="matrix" values="0 0 0 0 0.580 0 0 0 0 0.314 0 0 0 0 0.180 0 1 0 0 0"/><feComponentTransfer><feFuncA type="table" tableValues="0 0 0 0.45 0.75"/></feComponentTransfer><feComposite operator="in" in2="SourceGraphic"/></filter>
<rect x="401.00" y="843.50" width="68.00" height="51.10" fill="#000" filter="url(#tx26)"/>
<rect x="470.80" y="843.50" width="68.20" height="51.10" fill="#e2ced8"/>
<filter id="tx27" x="0" y="0" width="100%" height="100%" color-interpolation-filters="sRGB"><feTurbulence type="fractalNoise" baseFrequency="0.45" numOctaves="2" seed="72" result="n"/><feColorMatrix in="n" type="matrix" values="0 0 0 0 0.384 0 0 0 0 0.337 0 0 0 0 0.596 1 0 0 0 0"/><feComponentTransfer><feFuncA type="table" tableValues="0 0 0.3 0.78 0.88"/></feComponentTransfer><feComposite operator="in" in2="SourceGraphic"/></filter>
<rect x="470.80" y="843.50" width="68.20" height="51.10" fill="#000" filter="url(#tx27)"/>
<filter id="tx28" x="0" y="0" width="100%" height="100%" color-interpolation-filters="sRGB"><feTurbulence type="fractalNoise" baseFrequency="0.4" numOctaves="2" seed="82" result="n"/><feColorMatrix in="n" type="matrix" values="0 0 0 0 0.584 0 0 0 0 0.376 0 0 0 0 0.243 0 1 0 0 0"/><feComponentTransfer><feFuncA type="table" tableValues="0 0 0 0.25 0.45"/></feComponentTransfer><feComposite operator="in" in2="SourceGraphic"/></filter>
<rect x="470.80" y="843.50" width="68.20" height="51.10" fill="#000" filter="url(#tx28)"/>
<rect x="541.20" y="843.50" width="67.90" height="51.10" fill="#dec8d0"/>
<filter id="tx29" x="0" y="0" width="100%" height="100%" color-interpolation-filters="sRGB"><feTurbulence type="fractalNoise" baseFrequency="0.42" numOctaves="2" seed="73" result="n"/><feColorMatrix in="n" type="matrix" values="0 0 0 0 0.424 0 0 0 0 0.345 0 0 0 0 0.580 1 0 0 0 0"/><feComponentTransfer><feFuncA type="table" tableValues="0 0 0.25 0.72 0.85"/></feComponentTransfer><feComposite operator="in" in2="SourceGraphic"/></filter>
<rect x="541.20" y="843.50" width="67.90" height="51.10" fill="#000" filter="url(#tx29)"/>
<filter id="tx30" x="0" y="0" width="100%" height="100%" color-interpolation-filters="sRGB"><feTurbulence type="fractalNoise" baseFrequency="0.4" numOctaves="2" seed="83" result="n"/><feColorMatrix in="n" type="matrix" values="0 0 0 0 0.588 0 0 0 0 0.329 0 0 0 0 0.184 0 1 0 0 0"/><feComponentTransfer><feFuncA type="table" tableValues="0 0 0 0.4 0.65"/></feComponentTransfer><feComposite operator="in" in2="SourceGraphic"/></filter>
<rect x="541.20" y="843.50" width="67.90" height="51.10" fill="#000" filter="url(#tx30)"/>
<rect x="611.00" y="843.50" width="68.40" height="51.10" fill="#dec6c6"/>
<filter id="tx31" x="0" y="0" width="100%" height="100%" color-interpolation-filters="sRGB"><feTurbulence type="fractalNoise" baseFrequency="0.42" numOctaves="2" seed="74" result="n"/><feColorMatrix in="n" type="matrix" values="0 0 0 0 0.455 0 0 0 0 0.345 0 0 0 0 0.557 1 0 0 0 0"/><feComponentTransfer><feFuncA type="table" tableValues="0 0 0.18 0.55 0.7"/></feComponentTransfer><feComposite operator="in" in2="SourceGraphic"/></filter>
<rect x="611.00" y="843.50" width="68.40" height="51.10" fill="#000" filter="url(#tx31)"/>
<filter id="tx32" x="0" y="0" width="100%" height="100%" color-interpolation-filters="sRGB"><feTurbulence type="fractalNoise" baseFrequency="0.4" numOctaves="2" seed="84" result="n"/><feColorMatrix in="n" type="matrix" values="0 0 0 0 0.549 0 0 0 0 0.290 0 0 0 0 0.196 0 1 0 0 0"/><feComponentTransfer><feFuncA type="table" tableValues="0 0 0.1 0.6 0.8"/></feComponentTransfer><feComposite operator="in" in2="SourceGraphic"/></filter>
<rect x="611.00" y="843.50" width="68.40" height="51.10" fill="#000" filter="url(#tx32)"/>
<rect x="401.00" y="896.50" width="68.00" height="51.30" fill="#dac4ca"/>
<filter id="tx33" x="0" y="0" width="100%" height="100%" color-interpolation-filters="sRGB"><feTurbulence type="fractalNoise" baseFrequency="0.42" numOctaves="2" seed="75" result="n"/><feColorMatrix in="n" type="matrix" values="0 0 0 0 0.392 0 0 0 0 0.337 0 0 0 0 0.580 1 0 0 0 0"/><feComponentTransfer><feFuncA type="table" tableValues="0 0 0.25 0.72 0.85"/></feComponentTransfer><feComposite operator="in" in2="SourceGraphic"/></filter>
<rect x="401.00" y="896.50" width="68.00" height="51.30" fill="#000" filter="url(#tx33)"/>
<filter id="tx34" x="0" y="0" width="100%" height="100%" color-interpolation-filters="sRGB"><feTurbulence type="fractalNoise" baseFrequency="0.4" numOctaves="2" seed="85" result="n"/><feColorMatrix in="n" type="matrix" values="0 0 0 0 0.557 0 0 0 0 0.306 0 0 0 0 0.173 0 1 0 0 0"/><feComponentTransfer><feFuncA type="table" tableValues="0 0 0 0.45 0.7"/></feComponentTransfer><feComposite operator="in" in2="SourceGraphic"/></filter>
<rect x="401.00" y="896.50" width="68.00" height="51.30" fill="#000" filter="url(#tx34)"/>
<filter id="tx35" x="0" y="0" width="100%" height="100%" color-interpolation-filters="sRGB"><feTurbulence type="fractalNoise" baseFrequency="0.06" numOctaves="3" seed="95" result="n"/><feColorMatrix in="n" type="matrix" values="0 0 0 0 0.933 0 0 0 0 0.941 0 0 0 0 0.965 0 0 1 0 0"/><feComponentTransfer><feFuncA type="table" tableValues="0 0 0 0 0.6 1"/></feComponentTransfer><feComposite operator="in" in2="SourceGraphic"/></filter>
<rect x="401.00" y="896.50" width="68.00" height="51.30" fill="#000" filter="url(#tx35)"/>
<rect x="470.80" y="896.50" width="68.20" height="51.30" fill="#e2d0d6"/>
<filter id="tx36" x="0" y="0" width="100%" height="100%" color-interpolation-filters="sRGB"><feTurbulence type="fractalNoise" baseFrequency="0.4" numOctaves="2" seed="76" result="n"/><feColorMatrix in="n" type="matrix" values="0 0 0 0 0.416 0 0 0 0 0.353 0 0 0 0 0.596 1 0 0 0 0"/><feComponentTransfer><feFuncA type="table" tableValues="0 0 0.25 0.68 0.8"/></feComponentTransfer><feComposite operator="in" in2="SourceGraphic"/></filter>
<rect x="470.80" y="896.50" width="68.20" height="51.30" fill="#000" filter="url(#tx36)"/>
<filter id="tx37" x="0" y="0" width="100%" height="100%" color-interpolation-filters="sRGB"><feTurbulence type="fractalNoise" baseFrequency="0.4" numOctaves="2" seed="86" result="n"/><feColorMatrix in="n" type="matrix" values="0 0 0 0 0.604 0 0 0 0 0.353 0 0 0 0 0.227 0 1 0 0 0"/><feComponentTransfer><feFuncA type="table" tableValues="0 0 0 0.4 0.6"/></feComponentTransfer><feComposite operator="in" in2="SourceGraphic"/></filter>
<rect x="470.80" y="896.50" width="68.20" height="51.30" fill="#000" filter="url(#tx37)"/>
<filter id="tx38" x="0" y="0" width="100%" height="100%" color-interpolation-filters="sRGB"><feTurbulence type="fractalNoise" baseFrequency="0.09" numOctaves="3" seed="96" result="n"/><feColorMatrix in="n" type="matrix" values="0 0 0 0 0.902 0 0 0 0 0.918 0 0 0 0 0.949 0 0 1 0 0"/><feComponentTransfer><feFuncA type="table" tableValues="0 0 0 0 0.8 1"/></feComponentTransfer><feComposite operator="in" in2="SourceGraphic"/></filter>
<rect x="470.80" y="896.50" width="68.20" height="51.30" fill="#000" filter="url(#tx38)"/>
<rect x="541.20" y="896.50" width="67.90" height="51.30" fill="#e6d2cc"/>
<filter id="tx39" x="0" y="0" width="100%" height="100%" color-interpolation-filters="sRGB"><feTurbulence type="fractalNoise" baseFrequency="0.4" numOctaves="2" seed="77" result="n"/><feColorMatrix in="n" type="matrix" values="0 0 0 0 0.604 0 0 0 0 0.392 0 0 0 0 0.275 1 0 0 0 0"/><feComponentTransfer><feFuncA type="table" tableValues="0 0 0.28 0.65 0.78"/></feComponentTransfer><feComposite operator="in" in2="SourceGraphic"/></filter>
<rect x="541.20" y="896.50" width="67.90" height="51.30" fill="#000" filter="url(#tx39)"/>
<filter id="tx40" x="0" y="0" width="100%" height="100%" color-interpolation-filters="sRGB"><feTurbulence type="fractalNoise" baseFrequency="0.4" numOctaves="2" seed="87" result="n"/><feColorMatrix in="n" type="matrix" values="0 0 0 0 0.431 0 0 0 0 0.369 0 0 0 0 0.588 0 1 0 0 0"/><feComponentTransfer><feFuncA type="table" tableValues="0 0 0 0.35 0.55"/></feComponentTransfer><feComposite operator="in" in2="SourceGraphic"/></filter>
<rect x="541.20" y="896.50" width="67.90" height="51.30" fill="#000" filter="url(#tx40)"/>
<filter id="tx41" x="0" y="0" width="100%" height="100%" color-interpolation-filters="sRGB"><feTurbulence type="fractalNoise" baseFrequency="0.08" numOctaves="3" seed="97" result="n"/><feColorMatrix in="n" type="matrix" values="0 0 0 0 0.910 0 0 0 0 0.925 0 0 0 0 0.949 0 0 1 0 0"/><feComponentTransfer><feFuncA type="table" tableValues="0 0 0 0 0.7 1"/></feComponentTransfer><feComposite operator="in" in2="SourceGraphic"/></filter>
<rect x="541.20" y="896.50" width="67.90" height="51.30" fill="#000" filter="url(#tx41)"/>
<rect x="611.00" y="896.50" width="68.40" height="51.30" fill="#dec2bc"/>
<filter id="tx42" x="0" y="0" width="100%" height="100%" color-interpolation-filters="sRGB"><feTurbulence type="fractalNoise" baseFrequency="0.45" numOctaves="2" seed="78" result="n"/><feColorMatrix in="n" type="matrix" values="0 0 0 0 0.549 0 0 0 0 0.290 0 0 0 0 0.188 1 0 0 0 0"/><feComponentTransfer><feFuncA type="table" tableValues="0 0 0.28 0.7 0.85"/></feComponentTransfer><feComposite operator="in" in2="SourceGraphic"/></filter>
<rect x="611.00" y="896.50" width="68.40" height="51.30" fill="#000" filter="url(#tx42)"/>
<filter id="tx43" x="0" y="0" width="100%" height="100%" color-interpolation-filters="sRGB"><feTurbulence type="fractalNoise" baseFrequency="0.4" numOctaves="2" seed="88" result="n"/><feColorMatrix in="n" type="matrix" values="0 0 0 0 0.455 0 0 0 0 0.345 0 0 0 0 0.549 0 1 0 0 0"/><feComponentTransfer><feFuncA type="table" tableValues="0 0 0 0.4 0.6"/></feComponentTransfer><feComposite operator="in" in2="SourceGraphic"/></filter>
<rect x="611.00" y="896.50" width="68.40" height="51.30" fill="#000" filter="url(#tx43)"/>
<filter id="tx44" x="0" y="0" width="100%" height="100%" color-interpolation-filters="sRGB"><feTurbulence type="fractalNoise" baseFrequency="0.3" numOctaves="2" seed="98" result="n"/><feColorMatrix in="n" type="matrix" values="0 0 0 0 1.000 0 0 0 0 1.000 0 0 0 0 1.000 0 0 1 0 0"/><feComponentTransfer><feFuncA type="table" tableValues="0 0 0 0 0.5 0.8"/></feComponentTransfer><feComposite operator="in" in2="SourceGraphic"/></filter>
<rect x="611.00" y="896.50" width="68.40" height="51.30" fill="#000" filter="url(#tx44)"/>
<g filter="url(#qb)">
<path d="M539.5 910 C533 914 532 928 535 941 L539.5 941 Z" fill="#e4e9f1"/>
<path d="M539.5 904 C532 912 531 928 534 941" fill="none" stroke="#a0603c" stroke-width="1.6" stroke-opacity="0.45"/>
<ellipse cx="488" cy="897.5" rx="4" ry="2.5" fill="#e6eaf2" fill-opacity="0.85"/>
<ellipse cx="500" cy="897.5" rx="5" ry="2.5" fill="#e6eaf2" fill-opacity="0.85"/>
<ellipse cx="515" cy="898" rx="4" ry="2.5" fill="#e6eaf2" fill-opacity="0.85"/>
<ellipse cx="484" cy="916" rx="3" ry="3" fill="#e6eaf2" fill-opacity="0.85"/>
<ellipse cx="488" cy="923" rx="2.5" ry="2.5" fill="#e6eaf2" fill-opacity="0.85"/>
<ellipse cx="477" cy="944" rx="7" ry="3.5" fill="#e6eaf2" fill-opacity="0.85"/>
<ellipse cx="508" cy="937" rx="3" ry="2" fill="#e6eaf2" fill-opacity="0.85"/>
<ellipse cx="404" cy="918" rx="3.5" ry="2.5" fill="#eef0f5" fill-opacity="0.75"/>
<ellipse cx="427" cy="912" rx="2.5" ry="1.8" fill="#eef0f5" fill-opacity="0.6"/>
<ellipse cx="412" cy="935" rx="9" ry="6" fill="#5a4a90" fill-opacity="0.18"/>
<path d="M471 941 L471 948 L492 948 C488 945 480 942 471 941 Z" fill="#e6eaf2"/>
<path d="M471 937 C478 939 486 942 493 947" fill="none" stroke="#7a4028" stroke-width="1.4" stroke-opacity="0.6"/>
<ellipse cx="575" cy="918" rx="12" ry="10" fill="#b07050" fill-opacity="0.18"/>
<ellipse cx="575" cy="921" rx="16" ry="13" fill="none" stroke="#f0e0d8" stroke-width="3" stroke-opacity="0.3"/>
<ellipse cx="548" cy="930" rx="5" ry="3" fill="#eef0f5" fill-opacity="0.7"/>
</g>
</svg>
</body></html>
